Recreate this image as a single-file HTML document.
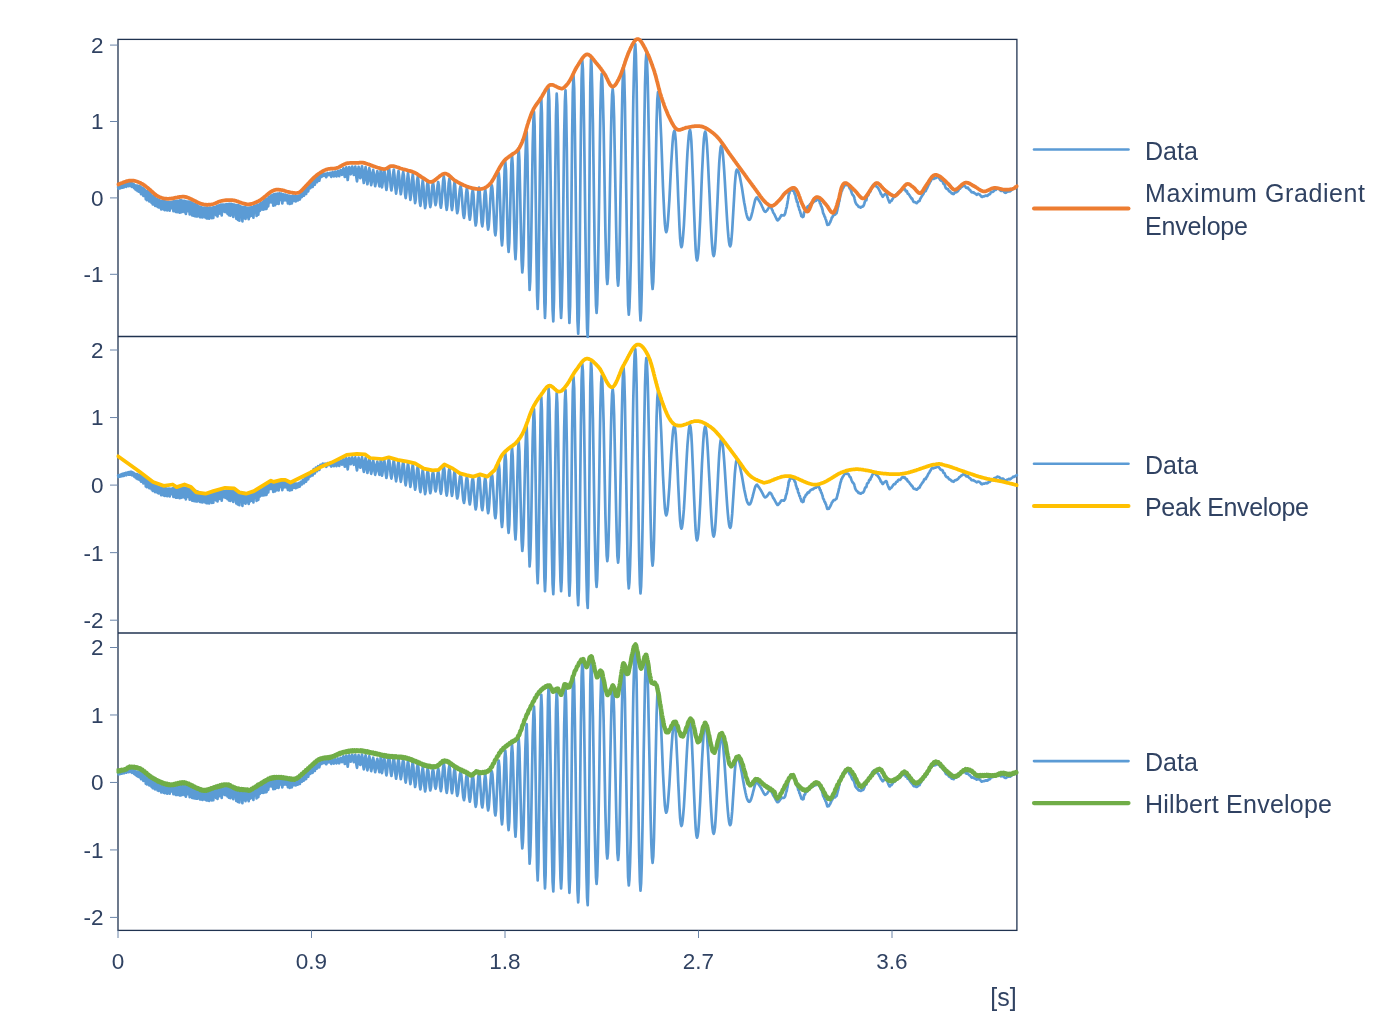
<!DOCTYPE html>
<html><head><meta charset="utf-8"><style>
html,body{margin:0;padding:0;background:#fff;width:1375px;height:1025px;overflow:hidden}
svg{display:block;will-change:transform}
.ax{font-family:"Liberation Sans",sans-serif;font-size:22.5px;fill:#304262}
.lg{font-family:"Liberation Sans",sans-serif;font-size:25px;fill:#304262}
</style></head><body>
<svg width="1375" height="1025" viewBox="0 0 1375 1025">
<rect x="118.0" y="39.4" width="898.9" height="891.0" fill="none" stroke="#203350" stroke-width="1.3"/>
<line x1="118.0" y1="336.5" x2="1016.9" y2="336.5" stroke="#203350" stroke-width="1.3"/>
<line x1="118.0" y1="633.0" x2="1016.9" y2="633.0" stroke="#203350" stroke-width="1.3"/>
<line x1="110" y1="45.08" x2="118.0" y2="45.08" stroke="#6a84a8" stroke-width="1"/>
<text x="103.5" y="52.98" text-anchor="end" class="ax">2</text>
<line x1="110" y1="121.49" x2="118.0" y2="121.49" stroke="#6a84a8" stroke-width="1"/>
<text x="103.5" y="129.39" text-anchor="end" class="ax">1</text>
<line x1="110" y1="197.90" x2="118.0" y2="197.90" stroke="#6a84a8" stroke-width="1"/>
<text x="103.5" y="205.80" text-anchor="end" class="ax">0</text>
<line x1="110" y1="274.31" x2="118.0" y2="274.31" stroke="#6a84a8" stroke-width="1"/>
<text x="103.5" y="282.21" text-anchor="end" class="ax">-1</text>
<line x1="110" y1="350.00" x2="118.0" y2="350.00" stroke="#6a84a8" stroke-width="1"/>
<text x="103.5" y="357.90" text-anchor="end" class="ax">2</text>
<line x1="110" y1="417.55" x2="118.0" y2="417.55" stroke="#6a84a8" stroke-width="1"/>
<text x="103.5" y="425.45" text-anchor="end" class="ax">1</text>
<line x1="110" y1="485.10" x2="118.0" y2="485.10" stroke="#6a84a8" stroke-width="1"/>
<text x="103.5" y="493.00" text-anchor="end" class="ax">0</text>
<line x1="110" y1="552.65" x2="118.0" y2="552.65" stroke="#6a84a8" stroke-width="1"/>
<text x="103.5" y="560.55" text-anchor="end" class="ax">-1</text>
<line x1="110" y1="620.20" x2="118.0" y2="620.20" stroke="#6a84a8" stroke-width="1"/>
<text x="103.5" y="628.10" text-anchor="end" class="ax">-2</text>
<line x1="110" y1="647.50" x2="118.0" y2="647.50" stroke="#6a84a8" stroke-width="1"/>
<text x="103.5" y="655.40" text-anchor="end" class="ax">2</text>
<line x1="110" y1="714.98" x2="118.0" y2="714.98" stroke="#6a84a8" stroke-width="1"/>
<text x="103.5" y="722.88" text-anchor="end" class="ax">1</text>
<line x1="110" y1="782.45" x2="118.0" y2="782.45" stroke="#6a84a8" stroke-width="1"/>
<text x="103.5" y="790.35" text-anchor="end" class="ax">0</text>
<line x1="110" y1="849.93" x2="118.0" y2="849.93" stroke="#6a84a8" stroke-width="1"/>
<text x="103.5" y="857.83" text-anchor="end" class="ax">-1</text>
<line x1="110" y1="917.40" x2="118.0" y2="917.40" stroke="#6a84a8" stroke-width="1"/>
<text x="103.5" y="925.30" text-anchor="end" class="ax">-2</text>
<line x1="118.00" y1="930.4" x2="118.00" y2="938" stroke="#6a84a8" stroke-width="1"/>
<text x="118.00" y="969" text-anchor="middle" class="ax">0</text>
<line x1="311.50" y1="930.4" x2="311.50" y2="938" stroke="#6a84a8" stroke-width="1"/>
<text x="311.50" y="969" text-anchor="middle" class="ax">0.9</text>
<line x1="505.00" y1="930.4" x2="505.00" y2="938" stroke="#6a84a8" stroke-width="1"/>
<text x="505.00" y="969" text-anchor="middle" class="ax">1.8</text>
<line x1="698.50" y1="930.4" x2="698.50" y2="938" stroke="#6a84a8" stroke-width="1"/>
<text x="698.50" y="969" text-anchor="middle" class="ax">2.7</text>
<line x1="892.00" y1="930.4" x2="892.00" y2="938" stroke="#6a84a8" stroke-width="1"/>
<text x="892.00" y="969" text-anchor="middle" class="ax">3.6</text>
<text x="1003.5" y="1005.5" text-anchor="middle" class="ax" style="font-size:25px">[s]</text>
<line x1="1034" y1="149.5" x2="1128.5" y2="149.5" stroke="#5b9bd5" stroke-width="2.6" stroke-linecap="round"/>
<line x1="1034" y1="208.5" x2="1128.5" y2="208.5" stroke="#ed7d31" stroke-width="4.0" stroke-linecap="round"/>
<line x1="1034" y1="463.7" x2="1128.5" y2="463.7" stroke="#5b9bd5" stroke-width="2.6" stroke-linecap="round"/>
<line x1="1034" y1="506.0" x2="1128.5" y2="506.0" stroke="#ffc000" stroke-width="4.0" stroke-linecap="round"/>
<line x1="1034" y1="761.1" x2="1128.5" y2="761.1" stroke="#5b9bd5" stroke-width="2.6" stroke-linecap="round"/>
<line x1="1034" y1="803.1" x2="1128.5" y2="803.1" stroke="#70ad47" stroke-width="4.2" stroke-linecap="round"/>
<text x="1145" y="159.8" class="lg">Data</text>
<text x="1145" y="201.8" class="lg" textLength="220" lengthAdjust="spacing">Maximum Gradient</text>
<text x="1145" y="234.7" class="lg" textLength="103" lengthAdjust="spacing">Envelope</text>
<text x="1145" y="473.8" class="lg">Data</text>
<text x="1145" y="515.6" class="lg" textLength="164" lengthAdjust="spacing">Peak Envelope</text>
<text x="1145" y="771.3" class="lg">Data</text>
<text x="1145" y="813.2" class="lg" textLength="187" lengthAdjust="spacing">Hilbert Envelope</text>
<defs>
<clipPath id="c1"><rect x="116.5" y="36.5" width="902" height="302"/></clipPath>
<clipPath id="c2"><rect x="116.5" y="336.5" width="902" height="296.5"/></clipPath>
<clipPath id="c3"><rect x="116.5" y="633" width="902" height="299"/></clipPath>
</defs>
<g fill="none" stroke-linejoin="round" stroke-linecap="round">
<g clip-path="url(#c1)"><path d="M118.0 187.1L118.5 188.7L119.1 186.9L119.7 188.4L120.2 186.4L120.8 188.1L121.3 185.7L121.9 187.7L122.4 185.2L123.0 187.5L123.5 184.8L124.1 187.3L124.6 184.7L125.2 186.2L125.8 184.0L126.3 186.8L126.9 183.9L127.4 185.1L128.0 183.5L128.6 186.1L129.1 183.3L129.7 185.9L130.3 182.8L130.8 186.1L131.4 182.9L132.0 187.0L132.5 183.6L133.1 186.7L133.7 184.1L134.2 188.2L134.8 185.0L135.4 189.3L135.9 185.5L136.5 190.2L137.1 185.5L137.7 191.0L138.2 186.2L138.8 191.6L139.4 186.2L140.0 192.2L140.5 186.6L141.1 194.1L141.7 187.7L142.3 194.1L142.8 188.1L143.4 196.0L144.0 189.1L144.6 195.1L145.2 190.0L145.8 199.2L146.3 191.0L146.9 200.2L147.5 191.4L148.1 199.0L148.7 192.1L149.3 201.4L149.9 193.0L150.4 201.4L151.0 194.4L151.6 202.8L152.2 195.5L152.8 204.4L153.4 196.3L154.0 204.5L154.6 197.2L155.2 205.9L155.8 198.4L156.4 203.5L157.0 199.1L157.6 206.8L158.2 199.6L158.8 207.4L159.4 200.3L160.0 204.7L160.6 200.8L161.2 209.3L161.8 200.8L162.4 208.3L163.0 200.8L163.6 209.4L164.2 201.2L164.8 210.1L165.4 201.5L166.0 208.3L166.6 201.8L167.2 210.5L167.8 202.3L168.4 207.9L169.1 202.0L169.7 210.6L170.3 202.1L170.9 207.9L171.5 202.1L172.1 208.2L172.7 201.6L173.4 211.2L174.0 201.4L174.6 208.1L175.2 201.7L175.8 212.0L176.5 200.9L177.1 212.2L177.7 200.8L178.3 211.8L178.9 200.8L179.6 212.6L180.2 200.3L180.8 212.4L181.4 200.4L182.1 212.0L182.7 201.0L183.3 211.3L184.0 200.8L184.6 212.2L185.2 201.1L185.9 214.0L186.5 201.5L187.1 211.1L187.8 201.6L188.4 211.2L189.0 201.7L189.7 214.5L190.3 202.1L190.9 213.5L191.6 202.6L192.2 215.5L192.9 203.3L193.5 215.7L194.1 204.0L194.8 216.1L195.4 204.4L196.1 216.3L196.7 205.0L197.4 216.3L198.0 205.6L198.7 213.2L199.3 206.6L200.0 217.1L200.6 206.9L201.3 217.1L201.9 207.5L202.6 217.5L203.2 207.9L203.9 212.7L204.5 207.7L205.2 217.4L205.9 207.5L206.5 218.3L207.2 207.7L207.9 218.4L208.6 208.1L209.2 218.7L209.9 207.6L210.6 213.9L211.3 208.0L211.9 218.2L212.6 207.7L213.3 217.8L214.0 207.2L214.7 212.4L215.4 207.0L216.1 215.2L216.8 206.1L217.5 216.4L218.2 205.5L218.9 213.7L219.6 205.3L220.3 213.3L221.0 204.6L221.7 215.5L222.4 204.6L223.1 209.8L223.8 204.6L224.6 211.9L225.3 204.5L226.0 212.2L226.7 204.0L227.5 213.6L228.2 204.1L228.9 215.1L229.6 203.8L230.4 215.7L231.1 203.9L231.9 214.5L232.6 204.3L233.3 216.8L234.1 204.5L234.8 211.4L235.6 205.0L236.3 218.7L237.1 205.0L237.8 219.8L238.6 205.4L239.4 220.6L240.1 206.2L240.9 215.8L241.7 206.8L242.4 221.3L243.2 207.1L244.0 217.8L244.7 206.9L245.5 219.0L246.3 207.7L247.1 217.2L247.9 207.8L248.7 219.1L249.4 207.6L250.2 216.3L251.0 207.3L251.8 215.6L252.6 207.1L253.4 217.6L254.2 206.1L255.0 212.2L255.8 205.6L256.6 215.9L257.5 204.6L258.3 214.6L259.1 204.5L259.9 210.8L260.7 203.1L261.6 209.5L262.4 202.4L263.2 209.7L264.0 200.7L264.9 209.2L265.7 199.3L266.5 208.9L267.4 198.6L268.2 206.3L269.1 197.1L269.9 202.3L270.8 195.7L271.6 202.3L272.5 194.8L273.3 205.6L274.2 194.1L275.1 205.1L276.0 193.9L276.9 203.7L277.8 193.7L278.6 204.0L279.6 193.4L280.5 199.9L281.4 193.7L282.3 203.5L283.2 194.3L284.1 200.3L285.1 194.6L286.0 200.4L287.0 195.1L287.9 203.3L288.9 195.6L289.8 204.0L290.8 196.0L291.8 203.5L292.8 195.7L293.7 200.9L294.7 195.8L295.7 201.4L296.7 196.2L297.8 200.4L298.8 195.6L299.8 199.5L300.8 194.3L301.9 197.1L302.9 192.0L303.9 195.7L305.0 189.7L306.1 194.0L307.1 187.5L308.2 191.4L309.3 184.7L310.4 188.1L311.5 182.3L312.6 187.0L313.7 179.7L314.8 184.8L315.9 178.1L317.0 182.2L318.1 176.5L319.3 180.7L320.4 175.0L321.6 176.9L322.8 173.6L323.9 175.9L325.1 173.7L326.3 177.2L327.6 173.0L328.8 175.1L330.1 172.8L331.3 176.9L332.6 172.0L333.9 176.4L335.2 171.6L336.5 176.4L337.9 170.8L339.2 176.2L340.6 170.0L342.0 174.8L343.4 168.3L344.8 177.0L346.3 167.3L347.7 180.0L349.2 167.2L350.7 174.3L352.2 166.6L353.8 174.9L355.3 166.5L355.9 170.2L356.4 177.6L357.0 181.3L357.5 177.7L358.1 170.5L358.6 166.9L359.2 169.7L359.7 175.3L360.3 178.1L360.9 175.2L361.5 169.3L362.0 166.3L362.6 170.5L363.2 178.8L363.8 183.0L364.4 179.0L365.0 171.1L365.6 167.1L366.2 171.4L366.8 179.9L367.4 184.2L368.1 180.2L368.7 172.2L369.3 168.2L370.0 172.4L370.6 180.9L371.2 185.1L371.9 181.3L372.5 173.7L373.2 169.9L373.9 174.0L374.5 182.1L375.2 186.2L375.9 182.5L376.6 174.9L377.3 171.2L378.0 174.9L378.7 182.5L379.4 186.3L380.7 169.6L382.0 187.3L382.7 182.7L383.5 173.7L384.2 169.2L384.9 174.4L385.7 184.7L386.4 189.9L387.0 186.6L387.6 178.9L388.3 171.1L388.9 167.8L389.5 171.2L390.1 179.2L390.8 187.2L391.4 190.5L392.2 185.3L393.0 174.7L393.8 169.5L394.5 175.5L395.3 187.6L396.1 193.6L396.9 187.9L397.7 176.6L398.5 170.9L399.2 176.7L400.0 188.4L400.8 194.2L401.4 190.9L402.0 183.0L402.6 175.2L403.2 171.9L403.9 175.8L404.5 185.0L405.1 194.3L405.7 198.1L406.5 191.8L407.3 179.2L408.0 172.9L408.8 179.7L409.6 193.1L410.4 199.8L411.2 193.4L412.0 180.5L412.8 174.1L413.5 181.4L414.3 195.9L415.1 203.1L415.8 199.2L416.4 189.8L417.1 180.4L417.8 176.5L418.4 180.8L419.1 191.2L419.7 201.5L420.4 205.8L421.2 199.3L422.0 186.4L422.8 179.9L423.5 187.0L424.3 201.0L425.1 208.1L425.8 204.2L426.4 194.8L427.1 185.4L427.7 181.5L428.4 185.3L429.0 194.3L429.7 203.3L430.3 207.1L431.0 203.5L431.6 194.8L432.3 186.2L433.0 182.6L433.6 185.9L434.3 193.9L434.9 201.8L435.6 205.1L436.3 201.7L436.9 193.6L437.6 185.4L438.2 182.0L438.9 185.8L439.6 194.9L440.2 204.0L440.9 207.7L441.6 203.1L442.3 192.1L443.1 181.0L443.8 176.4L444.5 181.3L445.2 193.1L446.0 204.9L446.7 209.8L447.4 205.2L448.0 194.2L448.7 183.1L449.4 178.6L450.0 183.2L450.7 194.3L451.3 205.5L452.0 210.1L452.6 206.0L453.3 196.0L454.0 186.0L454.6 181.9L455.2 186.4L455.9 197.5L456.6 208.5L457.2 213.1L457.9 210.5L458.6 203.8L459.2 195.5L459.9 188.8L460.6 186.2L461.3 189.2L462.0 197.2L462.6 207.0L463.3 215.0L464.0 218.0L464.7 213.6L465.4 203.0L466.2 192.4L466.9 188.0L467.6 192.7L468.4 203.9L469.1 215.1L469.8 219.7L470.5 215.3L471.3 204.6L472.0 193.9L472.8 189.5L473.5 194.8L474.2 207.5L475.0 220.2L475.7 225.5L476.4 221.9L477.0 212.4L477.7 200.7L478.3 191.2L479.0 187.6L479.7 191.3L480.3 200.9L481.0 212.9L481.6 222.6L482.3 226.3L483.0 220.8L483.8 207.6L484.5 194.4L485.2 188.9L485.9 194.8L486.7 209.2L487.4 223.6L488.1 229.6L488.7 226.6L489.3 218.5L489.9 207.4L490.5 196.3L491.1 188.2L491.8 185.2L492.4 188.6L493.0 197.7L493.6 210.3L494.2 222.8L494.8 232.0L495.4 235.3L496.1 229.4L496.7 213.8L497.4 194.6L498.0 179.0L498.7 173.1L499.4 180.0L500.0 198.0L500.7 220.3L501.3 238.4L502.0 245.3L502.7 237.3L503.3 216.5L504.0 190.7L504.6 169.8L505.3 161.8L506.0 170.4L506.6 193.0L507.3 220.8L507.9 243.4L508.6 252.0L509.3 242.7L510.0 218.4L510.7 188.4L511.4 164.1L512.0 154.8L512.7 164.8L513.4 190.9L514.1 223.1L514.8 249.2L515.5 259.2L516.1 248.6L516.8 220.9L517.4 186.7L518.1 158.9L518.7 148.4L519.4 160.2L520.1 191.2L520.9 229.6L521.6 260.6L522.3 272.4L522.9 265.5L523.6 246.0L524.2 217.8L524.8 186.5L525.4 158.3L526.1 138.8L526.7 131.8L527.4 155.0L528.2 210.9L528.9 266.7L529.6 289.9L530.2 281.1L530.9 256.4L531.5 220.7L532.1 181.1L532.7 145.4L533.4 120.7L534.0 111.9L534.6 125.1L535.2 161.2L535.9 210.4L536.5 259.6L537.1 295.7L537.7 308.9L538.4 288.8L539.1 236.3L539.9 171.3L540.6 118.8L541.3 98.7L541.9 113.4L542.5 153.5L543.1 208.3L543.8 263.1L544.4 303.2L545.0 317.9L545.6 302.6L546.2 260.7L546.8 203.4L547.4 146.1L548.0 104.2L548.6 88.9L549.3 100.4L549.9 132.6L550.6 179.2L551.3 230.9L552.0 277.5L552.6 309.8L553.3 321.3L554.0 299.6L554.7 242.7L555.3 172.4L556.0 115.5L556.7 93.7L557.3 104.8L558.0 135.9L558.6 180.9L559.2 230.8L559.8 275.7L560.5 306.8L561.1 317.9L561.7 306.7L562.4 275.1L563.0 229.5L563.6 178.9L564.2 133.3L564.9 101.7L565.5 90.4L566.1 106.0L566.8 148.6L567.5 206.7L568.1 264.8L568.8 307.3L569.4 322.9L570.1 306.3L570.8 261.1L571.5 199.3L572.1 137.4L572.8 92.2L573.5 75.6L574.2 88.4L574.8 124.2L575.5 175.9L576.2 233.3L576.9 285.1L577.5 320.9L578.2 333.6L578.9 315.4L579.6 265.4L580.2 197.2L580.9 128.9L581.6 79.0L582.3 60.7L582.9 69.0L583.5 93.0L584.1 129.7L584.7 174.8L585.3 222.8L585.9 267.9L586.5 304.6L587.1 328.6L587.7 336.9L588.4 310.4L589.0 240.9L589.7 155.0L590.3 85.5L591.0 59.0L591.6 66.7L592.2 88.7L592.9 122.5L593.5 163.9L594.1 208.0L594.7 249.5L595.4 283.2L596.0 305.3L596.6 312.9L597.2 303.8L597.9 277.9L598.5 239.2L599.2 193.4L599.8 147.7L600.4 108.9L601.1 83.0L601.7 73.9L602.3 80.3L602.9 98.5L603.6 126.4L604.2 160.7L604.8 197.2L605.4 231.5L606.1 259.4L606.7 277.6L607.3 284.0L607.9 278.1L608.5 261.2L609.1 235.2L609.7 203.4L610.3 169.5L610.9 137.6L611.5 111.7L612.1 94.7L612.7 88.9L613.4 96.3L614.1 117.7L614.7 149.6L615.4 187.3L616.1 224.9L616.8 256.9L617.4 278.2L618.1 285.7L618.7 279.0L619.3 259.9L619.9 230.7L620.5 194.8L621.2 156.6L621.8 120.7L622.4 91.4L623.0 72.3L623.6 65.7L624.2 75.1L624.9 102.1L625.5 142.5L626.2 190.2L626.9 237.8L627.5 278.2L628.1 305.2L628.8 314.6L629.4 308.0L630.1 288.8L630.8 258.9L631.4 221.2L632.0 179.4L632.7 137.6L633.3 99.9L634.0 70.0L634.6 50.8L635.3 44.2L635.9 54.7L636.6 84.6L637.2 129.4L637.9 182.3L638.5 235.1L639.2 280.0L639.9 309.9L640.5 320.4L641.1 312.4L641.8 289.3L642.4 253.8L643.1 210.4L643.7 164.1L644.4 120.7L645.0 85.3L645.7 62.2L646.3 54.1L646.9 59.9L647.6 76.6L648.2 102.5L648.8 135.3L649.5 171.5L650.1 207.8L650.7 240.6L651.3 266.5L652.0 283.2L652.6 289.0L653.3 281.5L654.0 260.1L654.6 228.2L655.3 190.5L656.0 152.9L656.6 121.0L657.3 99.6L658.0 92.1L658.6 94.2L659.3 100.2L659.9 109.7L660.5 122.4L661.2 137.3L661.8 153.7L662.4 170.6L663.0 187.0L663.7 201.9L664.3 214.6L664.9 224.2L665.6 230.1L666.2 232.2L666.8 230.7L667.5 226.4L668.1 219.4L668.7 210.3L669.4 199.4L670.0 187.6L670.6 175.3L671.2 163.5L671.9 152.6L672.5 143.5L673.1 136.5L673.8 132.2L674.4 130.7L675.0 133.1L675.7 140.0L676.3 150.8L676.9 164.8L677.6 180.7L678.2 197.3L678.9 213.2L679.5 227.1L680.1 238.0L680.8 244.9L681.4 247.2L682.0 245.7L682.6 241.4L683.2 234.4L683.9 225.1L684.5 214.0L685.1 201.6L685.7 188.6L686.3 175.5L686.9 163.1L687.5 152.0L688.2 142.7L688.8 135.7L689.4 131.4L690.0 129.9L690.6 132.6L691.3 140.3L691.9 152.4L692.5 168.1L693.2 185.9L693.8 204.5L694.5 222.3L695.1 237.9L695.7 250.1L696.4 257.8L697.0 260.5L697.6 258.6L698.3 253.1L698.9 244.3L699.5 232.6L700.2 218.9L700.8 203.8L701.4 188.3L702.0 173.2L702.7 159.4L703.3 147.8L703.9 139.0L704.6 133.5L705.2 131.6L705.8 133.2L706.4 137.8L707.0 145.2L707.6 155.0L708.2 166.8L708.8 180.0L709.5 193.8L710.1 207.7L710.7 220.8L711.3 232.6L711.9 242.5L712.5 249.9L713.1 254.5L713.7 256.0L714.3 254.2L715.0 248.7L715.6 239.9L716.2 228.5L716.8 215.2L717.5 200.9L718.1 186.6L718.7 173.3L719.3 161.9L720.0 153.1L720.6 147.6L721.2 145.8L721.8 146.9L722.4 150.1L723.0 155.4L723.6 162.4L724.2 170.9L724.8 180.5L725.4 190.8L726.0 201.3L726.6 211.6L727.2 221.2L727.8 229.7L728.4 236.7L729.0 242.0L729.6 245.2L730.2 246.3L730.9 244.4L731.5 239.0L732.2 230.5L732.8 219.8L733.5 208.0L734.2 196.1L734.8 185.4L735.5 176.9L736.1 171.5L736.8 169.6L737.4 169.9L738.0 170.9L738.7 172.4L739.3 174.4L739.9 177.0L740.5 180.0L741.1 183.3L741.8 187.0L742.4 190.8L743.0 194.7L743.6 198.7L744.2 202.5L744.9 206.1L745.5 209.5L746.1 212.5L746.7 215.0L747.3 217.1L748.0 218.6L748.6 219.5L749.2 219.8L749.9 219.5L750.5 218.3L751.2 216.5L751.8 214.2L752.5 211.5L753.1 208.6L753.8 205.7L754.4 203.0L755.0 200.6L755.7 198.8L756.4 197.7L757.0 197.3L757.2 197.7L757.4 198.1L757.7 198.6L758.1 199.1L758.4 199.7L758.8 200.3L759.2 200.9L759.6 201.6L760.0 202.2L760.4 202.9L760.7 203.6L761.1 204.2L761.4 204.8L761.7 205.5L762.0 206.2L762.3 206.9L762.7 207.6L763.0 208.4L763.3 209.0L763.6 209.8L763.9 210.4L764.2 210.9L764.5 211.2L764.9 211.6L765.2 211.9L765.6 211.7L766.1 211.2L766.6 210.8L767.1 210.4L767.5 209.7L768.0 208.9L768.5 208.1L768.9 207.4L769.4 206.7L769.8 206.4L770.2 206.7L770.6 207.1L770.9 207.3L771.3 207.8L771.6 208.5L771.9 209.3L772.2 209.9L772.6 210.7L772.9 211.7L773.3 212.6L773.6 213.1L773.9 213.4L774.3 214.1L774.6 214.9L775.0 215.6L775.3 216.4L775.7 217.1L776.0 217.8L776.4 218.4L776.7 219.3L777.1 219.9L777.4 220.3L777.9 220.3L778.3 219.9L778.8 219.4L779.2 218.7L779.7 218.2L780.1 217.3L780.6 216.7L781.0 215.8L781.5 215.1L782.0 215.2L782.5 215.4L783.0 215.4L783.5 215.2L784.0 215.4L784.5 214.8L785.0 213.9L785.5 212.1L785.6 211.2L785.8 210.4L785.9 210.0L786.0 209.4L786.2 208.7L786.3 208.4L786.4 207.9L786.6 207.8L786.7 207.4L786.8 206.9L786.9 205.8L787.1 204.7L787.2 204.1L787.3 203.6L787.5 203.2L787.6 201.9L787.7 201.0L787.9 200.3L788.0 199.7L788.1 198.9L788.3 198.1L788.4 197.0L788.5 195.9L788.7 194.9L788.8 193.9L788.9 193.5L789.1 193.6L789.2 193.9L789.3 193.6L789.5 192.9L789.6 191.6L790.3 189.7L791.0 189.6L791.7 190.3L792.3 190.6L793.0 190.8L793.7 191.2L793.9 191.2L794.1 191.3L794.3 192.4L794.6 193.6L794.8 194.2L795.0 194.2L795.2 194.4L795.4 195.1L795.6 196.1L795.8 197.6L796.0 198.7L796.3 198.9L796.5 199.6L796.7 201.0L796.9 202.0L797.1 202.0L797.3 201.8L797.6 202.1L797.8 203.7L798.0 205.1L798.2 206.4L798.5 206.5L798.7 206.8L798.9 207.4L799.2 209.1L799.4 210.0L799.7 210.0L799.9 210.7L800.1 211.7L800.4 212.9L800.6 213.1L800.9 214.0L801.1 214.9L801.3 216.0L801.5 216.2L801.8 216.4L802.0 216.3L802.2 216.3L802.4 216.2L802.7 217.0L802.9 216.9L803.1 216.8L803.3 216.4L803.5 216.6L803.7 215.4L803.9 213.8L804.1 212.2L804.4 211.8L804.7 211.9L805.0 211.5L805.4 210.3L805.9 208.8L806.2 208.5L806.6 208.6L807.1 207.9L807.5 206.6L808.0 206.1L808.5 206.5L809.1 206.1L809.6 204.9L810.2 203.9L810.7 203.7L811.3 203.1L811.9 202.8L812.4 202.6L813.0 202.7L813.5 201.7L814.0 201.6L814.5 201.4L815.0 201.1L815.4 200.7L815.8 200.6L816.1 200.7L817.1 199.3L817.8 198.1L818.2 198.1L818.6 199.3L819.2 200.8L819.4 200.7L819.6 201.7L819.8 202.4L820.0 203.5L820.2 203.3L820.4 203.6L820.6 203.7L820.8 205.0L821.1 206.0L821.3 206.6L821.5 206.4L821.8 207.2L822.0 208.2L822.2 208.9L822.5 209.6L822.7 210.8L822.9 211.9L823.1 212.9L823.4 213.5L823.6 214.1L823.8 214.3L824.0 214.7L824.2 215.4L824.5 216.4L824.8 217.0L825.1 217.3L825.4 218.5L825.6 219.2L825.9 219.6L826.2 220.4L826.4 221.4L826.7 222.6L827.0 223.6L827.2 224.6L827.5 225.0L827.8 225.0L828.0 224.6L828.3 224.3L828.6 224.3L828.9 224.6L829.2 223.9L829.6 223.1L829.9 222.6L830.2 222.2L830.5 221.3L830.8 220.6L831.1 220.0L831.5 218.7L831.8 217.6L832.1 217.4L832.4 217.3L832.8 216.1L833.3 215.5L833.7 214.8L834.1 214.7L834.5 214.9L835.0 214.8L835.5 214.1L836.0 213.5L836.5 213.3L836.6 213.0L836.8 212.2L836.9 211.4L837.1 210.9L837.2 210.4L837.4 209.4L837.5 208.9L837.7 207.7L837.8 207.4L838.0 206.9L838.2 206.5L838.3 205.5L838.5 204.6L838.7 204.1L838.8 202.8L839.0 201.9L839.2 201.3L839.3 201.4L839.5 200.4L839.7 198.7L839.9 197.9L840.0 197.5L840.2 196.3L840.4 195.3L840.6 194.8L840.7 194.7L840.9 193.8L841.1 193.1L841.2 192.2L841.4 191.3L841.6 191.1L841.8 190.9L841.9 190.8L842.1 190.4L842.3 189.5L842.4 189.0L842.6 188.8L843.2 187.9L843.9 186.6L844.5 185.4L845.1 185.2L845.8 184.9L846.4 185.1L847.0 184.8L847.6 184.8L848.2 185.2L848.7 186.1L849.1 186.9L849.4 187.6L849.7 188.5L850.0 188.6L850.3 188.7L850.6 189.2L850.9 190.4L851.2 191.1L851.4 191.8L851.7 192.7L852.0 193.5L852.2 194.0L852.5 194.6L852.8 195.0L853.1 195.3L853.3 195.4L853.6 196.0L853.8 196.3L854.1 197.0L854.4 197.9L854.6 199.0L854.9 200.2L855.1 201.4L855.4 202.1L855.7 202.9L855.9 203.2L856.2 203.8L856.5 204.1L856.8 204.7L857.3 204.9L857.9 205.8L858.5 206.7L859.0 207.0L859.6 206.8L860.2 207.4L860.8 207.6L861.4 207.0L861.9 206.7L862.3 206.6L862.6 206.5L862.9 206.1L863.2 206.3L863.5 205.6L863.8 205.2L864.1 204.3L864.4 203.4L864.8 201.8L865.2 201.0L865.6 200.1L866.0 200.1L866.3 200.2L866.5 199.4L866.8 197.6L867.1 196.2L867.4 195.6L867.7 195.6L868.0 195.5L868.4 195.1L868.7 194.1L869.0 192.8L869.4 191.8L869.7 191.7L870.1 192.0L870.4 191.4L870.7 189.9L871.1 189.2L871.4 188.7L871.7 188.4L872.0 187.2L872.3 186.5L872.6 185.8L872.8 185.6L873.1 185.0L873.8 184.6L874.5 184.3L875.1 184.8L875.6 185.2L876.1 186.3L876.6 186.6L877.2 186.8L877.5 187.2L877.9 187.9L878.3 188.2L878.6 188.9L879.0 189.5L879.4 190.6L879.7 190.9L880.1 191.8L880.4 192.5L880.7 193.4L881.0 194.1L881.3 194.1L881.9 195.4L882.4 196.3L882.8 196.7L883.3 196.0L883.7 195.3L884.2 194.8L884.8 194.4L885.3 193.9L885.8 193.4L886.4 193.6L886.7 194.0L886.9 195.0L887.1 196.0L887.4 197.0L887.6 197.6L887.8 198.0L888.1 199.1L888.4 199.9L888.7 200.7L889.1 201.5L889.5 202.5L889.9 202.4L890.3 201.5L890.6 201.0L891.0 200.9L891.5 200.8L891.9 200.1L892.4 199.3L892.9 198.4L893.4 197.6L893.9 196.8L894.4 196.7L894.9 196.9L895.4 196.4L895.9 195.0L896.4 194.1L896.9 194.1L897.4 193.9L897.8 192.9L898.4 192.1L898.9 191.8L899.4 191.9L899.9 192.0L900.4 191.8L900.9 191.1L901.4 190.2L901.9 189.4L902.4 189.2L902.9 188.7L903.4 189.1L904.0 189.5L904.6 189.4L904.9 189.1L905.3 189.9L905.7 191.1L906.1 191.4L906.5 190.8L906.9 191.1L907.3 192.3L907.7 193.7L908.1 193.9L908.5 193.9L909.0 194.6L909.4 195.1L909.8 195.9L910.2 196.6L910.6 197.1L911.0 197.7L911.4 198.5L911.8 198.9L912.2 198.7L912.5 199.7L912.9 200.4L913.2 201.2L913.5 201.6L914.3 202.2L915.0 202.1L915.6 202.4L916.1 202.9L916.7 203.1L917.2 202.5L917.8 202.1L918.4 201.1L918.7 201.1L919.1 201.1L919.5 201.0L919.9 199.9L920.2 198.8L920.6 198.3L921.0 197.5L921.4 196.9L921.8 196.1L922.2 195.6L922.6 194.8L922.9 194.7L923.3 194.1L923.7 193.2L924.0 192.0L924.3 191.3L924.7 190.8L925.1 190.9L925.5 191.3L925.9 190.7L926.2 189.6L926.5 189.0L926.9 188.6L927.2 188.0L927.5 187.2L927.9 186.2L928.2 185.7L928.5 184.8L928.9 184.3L929.2 183.9L929.4 183.7L929.7 182.7L930.1 181.8L930.4 181.6L930.7 181.3L931.1 180.0L931.6 179.4L932.1 178.7L932.6 178.8L933.1 178.8L933.7 178.9L934.3 178.4L934.9 178.2L935.6 178.2L936.3 177.8L936.9 177.2L937.6 177.2L938.2 177.2L938.9 177.6L939.4 178.5L940.0 179.4L940.4 180.2L940.9 180.5L941.3 180.9L941.7 180.8L942.0 181.0L942.4 181.0L942.8 181.7L943.1 182.7L943.5 183.9L943.9 184.1L944.2 184.1L944.6 184.6L945.0 185.8L945.5 187.2L945.9 188.1L946.3 188.5L946.8 188.9L947.2 188.9L947.7 188.8L948.1 189.4L948.6 190.5L949.1 191.2L949.6 191.5L950.0 191.4L950.5 192.1L951.1 192.5L951.6 193.4L952.1 193.1L952.6 193.8L953.2 193.6L953.7 194.1L954.2 193.2L954.7 192.8L955.2 192.1L955.7 192.4L956.2 192.3L956.7 192.0L957.3 191.5L957.8 191.3L958.4 190.4L958.9 189.4L959.5 188.7L960.0 188.7L960.6 187.9L961.1 187.4L961.6 186.8L962.1 186.8L962.6 186.3L963.1 185.9L963.5 185.6L964.1 185.5L964.6 186.0L965.2 186.2L965.7 187.3L966.2 187.8L966.7 188.0L967.1 187.7L967.6 187.6L968.1 187.8L968.5 188.8L969.0 189.4L969.4 189.8L969.9 189.9L970.4 190.6L971.0 191.5L971.5 192.1L972.1 192.5L972.6 192.2L973.2 192.3L973.7 192.4L974.3 193.2L974.9 193.3L975.4 193.7L976.0 194.1L976.7 194.8L977.3 194.4L977.9 193.9L978.5 193.9L979.1 194.3L979.7 194.5L980.4 195.3L981.0 196.2L981.7 196.9L982.4 196.8L983.0 196.4L983.7 196.3L984.3 196.3L984.9 196.0L985.5 195.6L986.1 195.5L986.7 195.8L987.3 195.8L987.8 195.5L988.4 194.7L988.9 194.3L989.5 194.4L990.0 194.0L990.5 193.1L991.0 192.2L991.5 192.0L992.0 192.0L992.5 192.0L993.0 191.8L993.6 191.3L994.2 190.3L994.8 189.8L995.4 189.7L996.0 189.8L996.6 189.0L997.2 188.5L997.7 188.2L998.3 188.8L998.9 188.8L999.4 189.1L1000.0 189.8L1000.5 190.6L1001.0 190.9L1001.6 190.8L1002.1 190.5L1002.7 190.5L1003.2 190.8L1003.7 191.4L1004.3 192.1L1004.8 192.5L1005.4 192.8L1006.0 192.6L1006.6 192.2L1007.1 191.7L1007.7 191.6L1008.3 191.4L1008.9 190.9L1009.5 191.2L1010.1 191.4L1010.7 190.8L1011.3 190.3L1011.9 189.7L1012.6 189.2L1013.2 188.4L1013.9 188.8L1014.5 188.2L1015.2 187.8L1015.7 187.2L1016.2 187.1L1016.7 186.7L1017.0 186.7" stroke="#5b9bd5" stroke-width="2.7"/><path d="M118.1 184.5L118.5 184.3L119.1 184.1L119.7 183.9L120.3 183.6L121.1 183.3L121.9 183.0L122.7 182.7L123.6 182.3L124.4 182.0L125.3 181.7L126.2 181.4L127.1 181.1L128.0 180.9L128.8 180.7L129.6 180.6L130.3 180.5L131.2 180.5L132.0 180.5L132.8 180.6L133.7 180.7L134.5 180.8L135.3 181.0L136.0 181.3L136.8 181.5L137.6 181.8L138.3 182.1L139.1 182.4L139.8 182.7L140.5 183.0L141.2 183.4L142.0 183.7L142.6 184.1L143.3 184.6L144.0 185.0L144.6 185.5L145.3 186.0L145.9 186.5L146.5 187.0L147.2 187.5L147.9 188.1L148.6 188.6L149.2 189.1L149.8 189.6L150.5 190.2L151.1 190.8L151.8 191.4L152.4 192.0L153.1 192.6L153.7 193.2L154.4 193.8L155.1 194.3L155.7 194.9L156.4 195.4L157.1 195.8L157.8 196.2L158.5 196.6L159.3 196.9L160.0 197.2L160.8 197.5L161.5 197.8L162.3 198.0L163.0 198.2L163.8 198.4L164.6 198.5L165.4 198.6L166.3 198.7L167.1 198.8L168.0 198.8L168.8 198.8L169.5 198.7L170.4 198.7L171.2 198.6L172.1 198.4L173.0 198.3L173.9 198.1L174.8 197.9L175.7 197.7L176.6 197.5L177.4 197.4L178.3 197.2L179.1 197.1L179.8 196.9L180.5 196.9L181.2 196.8L182.3 196.7L183.3 196.7L184.0 196.7L184.7 196.8L185.5 196.9L186.2 197.1L187.2 197.4L188.3 197.8L188.9 198.0L189.5 198.3L190.2 198.6L190.9 198.9L191.6 199.3L192.4 199.7L193.2 200.1L194.0 200.5L194.8 200.9L195.6 201.3L196.4 201.7L197.2 202.1L198.0 202.5L198.7 202.8L199.5 203.1L200.2 203.4L200.9 203.7L201.6 203.9L202.6 204.2L203.5 204.4L204.3 204.5L205.2 204.6L206.0 204.7L206.8 204.8L207.6 204.8L208.4 204.7L209.2 204.7L210.0 204.6L210.9 204.5L211.7 204.4L212.5 204.2L213.3 204.0L214.0 203.8L214.8 203.5L215.6 203.2L216.3 202.8L217.1 202.5L217.9 202.1L218.7 201.8L219.5 201.5L220.3 201.2L221.1 201.0L221.9 200.8L222.7 200.7L223.5 200.5L224.3 200.4L225.1 200.3L225.9 200.2L226.7 200.2L227.5 200.1L228.3 200.1L229.1 200.1L229.9 200.1L230.7 200.1L231.5 200.2L232.3 200.2L233.1 200.3L233.9 200.4L234.8 200.6L235.6 200.8L236.4 201.1L237.3 201.3L238.1 201.6L238.9 201.9L239.7 202.2L240.5 202.5L241.2 202.8L241.9 203.0L242.6 203.2L243.3 203.4L244.3 203.6L245.1 203.9L245.9 204.1L246.7 204.2L247.4 204.4L248.2 204.4L249.0 204.4L250.0 204.2L250.7 204.1L251.4 203.9L252.1 203.7L252.8 203.5L253.6 203.2L254.4 202.9L255.2 202.6L256.0 202.3L256.8 201.9L257.6 201.5L258.5 201.1L259.3 200.6L260.2 200.1L260.8 199.7L261.4 199.3L262.1 198.8L262.7 198.4L263.4 197.8L264.0 197.3L264.7 196.7L265.4 196.2L266.1 195.6L266.8 195.0L267.4 194.5L268.1 193.9L268.8 193.4L269.4 192.9L270.1 192.4L270.7 191.9L271.3 191.5L271.9 191.2L272.4 190.9L273.4 190.5L274.2 190.1L275.1 189.9L275.8 189.7L276.6 189.7L277.3 189.7L278.0 189.7L278.8 189.7L279.6 189.8L280.5 189.9L281.2 190.0L282.0 190.1L282.8 190.3L283.5 190.5L284.4 190.7L285.2 191.0L286.0 191.2L286.8 191.5L287.6 191.7L288.4 191.9L289.2 192.1L290.0 192.3L290.7 192.4L291.6 192.5L292.5 192.7L293.3 192.8L294.1 192.9L294.9 193.0L295.7 193.1L296.5 193.0L297.3 192.9L298.1 192.7L298.9 192.4L299.5 192.1L300.1 191.7L300.8 191.2L301.4 190.7L302.0 190.1L302.6 189.5L303.2 188.9L303.8 188.2L304.4 187.5L305.1 186.8L305.7 186.1L306.3 185.5L307.0 184.8L307.5 184.3L308.1 183.7L308.6 183.1L309.2 182.5L309.8 181.9L310.3 181.3L310.9 180.7L311.5 180.1L312.0 179.5L312.6 178.9L313.2 178.3L313.8 177.7L314.4 177.2L315.0 176.6L315.6 176.1L316.2 175.6L316.9 175.1L317.6 174.5L318.3 174.0L319.0 173.5L319.8 173.0L320.5 172.5L321.2 172.1L322.0 171.6L322.7 171.2L323.5 170.8L324.2 170.4L324.9 170.1L325.7 169.8L326.4 169.5L327.3 169.2L328.1 169.0L329.0 168.9L329.8 168.8L330.7 168.7L331.5 168.7L332.4 168.6L333.2 168.6L334.1 168.5L334.9 168.4L335.8 168.2L336.6 168.0L337.4 167.7L338.2 167.4L338.9 167.1L339.7 166.7L340.5 166.3L341.3 165.8L342.0 165.4L342.8 165.0L343.6 164.6L344.4 164.2L345.1 163.9L345.9 163.6L346.7 163.4L347.6 163.2L348.4 163.1L349.3 163.0L350.2 162.9L351.1 162.9L352.0 162.9L352.9 162.9L353.7 162.9L354.6 162.9L355.4 162.9L356.2 162.9L356.9 162.9L357.9 162.8L358.7 162.8L359.5 162.7L360.3 162.6L361.0 162.5L361.9 162.6L362.8 162.7L364.0 162.9L364.6 163.1L365.3 163.2L366.0 163.5L366.8 163.7L367.6 164.0L368.5 164.3L369.3 164.6L370.2 164.9L371.0 165.3L371.9 165.6L372.8 165.9L373.6 166.2L374.4 166.5L375.2 166.8L376.0 167.1L376.7 167.3L377.3 167.5L378.4 167.8L379.4 168.1L380.3 168.4L381.1 168.6L381.9 168.8L382.7 168.9L383.4 169.0L384.2 169.0L385.0 169.0L385.8 168.8L386.5 168.5L387.3 168.1L388.0 167.6L388.7 167.2L389.4 166.7L390.2 166.3L391.1 166.1L392.0 166.0L392.7 166.0L393.4 166.1L394.2 166.3L395.0 166.5L395.8 166.7L396.6 167.0L397.4 167.2L398.3 167.5L399.1 167.8L400.0 168.2L400.9 168.5L401.7 168.7L402.6 169.0L403.4 169.2L404.1 169.4L404.9 169.6L405.7 169.8L406.5 170.0L407.3 170.3L408.1 170.5L408.9 170.7L409.7 170.9L410.5 171.1L411.3 171.4L412.1 171.6L412.9 171.9L413.6 172.2L414.3 172.5L415.1 172.9L415.9 173.3L416.6 173.7L417.4 174.2L418.1 174.7L418.8 175.2L419.5 175.6L420.2 176.1L420.9 176.6L421.6 177.1L422.3 177.5L422.9 177.9L423.6 178.3L424.4 178.7L425.1 179.2L425.8 179.7L426.5 180.2L427.1 180.7L427.8 181.1L428.5 181.5L429.3 181.8L430.0 181.9L430.9 181.9L431.8 181.8L432.4 181.6L433.0 181.4L433.6 181.0L434.2 180.6L434.9 180.1L435.6 179.6L436.3 179.0L437.0 178.4L437.7 177.8L438.5 177.2L439.2 176.6L439.9 176.0L440.6 175.5L441.4 175.0L442.1 174.5L442.7 174.2L443.4 173.9L444.1 173.7L444.7 173.6L445.5 173.6L446.2 173.8L446.9 174.1L447.6 174.4L448.3 174.9L449.0 175.4L449.7 176.0L450.4 176.6L451.0 177.2L451.7 177.9L452.4 178.5L453.1 179.1L453.8 179.7L454.5 180.2L455.2 180.7L455.9 181.1L456.6 181.5L457.3 181.9L458.1 182.3L458.8 182.7L459.6 183.1L460.3 183.5L461.1 183.9L461.8 184.3L462.6 184.6L463.3 185.0L464.0 185.3L464.8 185.6L465.5 185.9L466.2 186.2L466.9 186.5L467.8 186.8L468.6 187.1L469.5 187.4L470.3 187.6L471.1 187.9L472.0 188.1L472.8 188.3L473.6 188.4L474.4 188.6L475.1 188.7L475.9 188.8L476.6 188.9L477.3 189.0L478.3 189.1L479.2 189.1L480.0 189.1L480.8 189.0L481.6 188.9L482.4 188.7L483.1 188.5L483.9 188.3L484.6 188.0L485.3 187.6L486.0 187.2L486.7 186.8L487.4 186.3L488.0 185.7L488.7 185.2L489.3 184.5L489.9 183.9L490.5 183.2L491.0 182.6L491.5 182.0L491.9 181.3L492.4 180.6L492.8 179.9L493.2 179.2L493.7 178.4L494.1 177.7L494.5 176.9L495.0 176.2L495.4 175.4L495.8 174.7L496.2 174.0L496.6 173.2L497.0 172.5L497.4 171.7L497.8 170.9L498.2 170.2L498.6 169.4L499.0 168.7L499.4 168.0L499.8 167.3L500.2 166.6L500.7 165.8L501.1 165.1L501.6 164.4L502.1 163.6L502.5 163.0L503.0 162.3L503.5 161.6L504.0 161.0L504.5 160.4L505.1 159.8L505.7 159.2L506.3 158.7L506.9 158.2L507.6 157.7L508.2 157.2L508.9 156.8L509.5 156.3L510.2 155.8L510.9 155.4L511.5 154.9L512.2 154.4L512.9 153.9L513.6 153.5L514.4 153.0L515.1 152.5L515.8 152.0L516.5 151.5L517.1 150.8L517.8 150.0L518.2 149.4L518.6 148.9L519.0 148.3L519.4 147.7L519.8 147.0L520.1 146.3L520.5 145.6L520.9 144.9L521.2 144.1L521.6 143.3L522.0 142.5L522.4 141.6L522.7 140.7L523.1 139.7L523.3 139.0L523.6 138.4L523.8 137.6L524.1 136.9L524.3 136.1L524.5 135.3L524.8 134.5L525.0 133.6L525.3 132.8L525.5 131.9L525.8 131.1L526.0 130.2L526.2 129.3L526.5 128.5L526.7 127.6L527.0 126.8L527.2 125.9L527.4 125.1L527.7 124.3L527.9 123.6L528.2 122.8L528.4 122.1L528.7 121.2L529.0 120.3L529.3 119.5L529.6 118.7L529.9 117.8L530.2 117.0L530.5 116.3L530.7 115.5L531.0 114.7L531.3 114.0L531.6 113.3L531.9 112.5L532.2 111.8L532.6 111.1L532.9 110.4L533.2 109.7L533.6 109.0L534.0 108.2L534.5 107.5L534.9 106.7L535.4 106.0L535.8 105.3L536.3 104.6L536.8 103.9L537.3 103.3L537.8 102.6L538.3 101.9L538.8 101.2L539.3 100.5L539.7 99.8L540.2 99.1L540.7 98.4L541.1 97.7L541.6 97.0L542.1 96.2L542.5 95.4L543.0 94.6L543.4 93.8L543.9 93.0L544.4 92.2L544.8 91.4L545.3 90.6L545.7 89.9L546.1 89.2L546.5 88.6L547.0 88.0L547.3 87.5L547.7 87.0L548.6 86.0L549.3 85.4L549.9 85.0L550.5 84.8L551.2 84.8L552.1 84.8L552.8 84.9L553.5 85.2L554.3 85.6L555.2 86.0L556.0 86.4L556.9 86.9L557.7 87.3L558.4 87.7L559.1 87.9L560.1 88.2L561.0 88.5L561.7 88.6L562.6 88.4L563.5 87.9L564.0 87.6L564.5 87.2L565.0 86.7L565.5 86.2L566.1 85.6L566.6 85.0L567.2 84.3L567.8 83.6L568.4 82.7L569.0 81.9L569.6 80.9L569.9 80.4L570.3 79.8L570.6 79.2L571.0 78.5L571.3 77.8L571.7 77.1L572.0 76.4L572.4 75.7L572.7 74.9L573.1 74.1L573.5 73.3L573.8 72.6L574.2 71.8L574.6 71.0L575.0 70.2L575.4 69.5L575.8 68.7L576.2 68.0L576.6 67.3L577.0 66.6L577.4 66.0L577.9 65.2L578.4 64.5L578.9 63.6L579.4 62.8L579.9 62.0L580.4 61.1L581.0 60.3L581.5 59.5L582.0 58.7L582.6 58.0L583.1 57.3L583.7 56.6L584.2 56.0L584.7 55.5L585.3 55.1L585.8 54.8L586.4 54.5L586.9 54.4L587.5 54.4L588.1 54.5L588.7 54.8L589.3 55.1L589.9 55.6L590.6 56.1L591.2 56.8L591.8 57.4L592.4 58.2L593.0 58.9L593.6 59.7L594.2 60.5L594.8 61.2L595.4 62.0L595.9 62.7L596.5 63.3L597.0 63.9L597.5 64.5L598.0 65.1L598.5 65.7L599.0 66.3L599.5 66.9L600.0 67.6L600.5 68.2L601.0 68.9L601.4 69.5L601.9 70.2L602.4 70.8L602.8 71.5L603.3 72.2L603.8 72.8L604.2 73.5L604.7 74.2L605.1 74.9L605.6 75.6L606.0 76.4L606.4 77.3L606.8 78.1L607.3 79.0L607.7 79.9L608.1 80.8L608.5 81.6L608.9 82.5L609.3 83.2L609.7 84.0L610.1 84.6L610.5 85.2L611.0 85.7L611.4 86.1L611.8 86.4L612.2 86.5L612.7 86.5L613.2 86.5L613.7 86.3L614.1 86.0L614.6 85.6L615.1 85.1L615.6 84.5L616.1 83.8L616.5 83.0L617.0 82.2L617.5 81.3L618.1 80.3L618.6 79.3L619.1 78.2L619.7 77.0L620.0 76.5L620.2 75.9L620.5 75.3L620.7 74.6L621.0 73.9L621.3 73.2L621.6 72.5L621.8 71.7L622.1 70.9L622.4 70.1L622.7 69.3L623.0 68.5L623.3 67.6L623.6 66.8L623.9 65.9L624.2 65.0L624.5 64.2L624.8 63.3L625.0 62.4L625.3 61.5L625.6 60.7L625.9 59.8L626.2 59.0L626.5 58.1L626.8 57.3L627.1 56.5L627.4 55.7L627.7 55.0L627.9 54.2L628.2 53.5L628.5 52.8L628.8 52.2L629.0 51.6L629.3 51.0L629.8 50.0L630.3 48.9L630.7 47.9L631.2 47.0L631.7 46.0L632.1 45.1L632.6 44.3L633.0 43.5L633.5 42.7L633.9 42.0L634.4 41.4L634.8 40.8L635.3 40.3L635.7 39.9L636.1 39.5L636.6 39.3L637.0 39.1L637.5 39.0L638.0 39.0L638.5 39.2L639.0 39.5L639.5 39.9L640.1 40.3L640.6 40.9L641.1 41.6L641.6 42.3L642.1 43.1L642.6 44.0L643.1 44.9L643.7 45.8L644.2 46.8L644.7 47.7L645.2 48.7L645.7 49.7L646.0 50.3L646.3 50.9L646.6 51.5L646.9 52.1L647.2 52.8L647.5 53.5L647.8 54.1L648.2 54.8L648.5 55.6L648.8 56.3L649.1 57.0L649.4 57.8L649.7 58.5L650.0 59.3L650.3 60.1L650.6 60.9L650.9 61.7L651.2 62.5L651.5 63.3L651.8 64.1L652.1 65.0L652.4 65.8L652.7 66.7L653.0 67.5L653.3 68.4L653.6 69.2L653.9 70.1L654.1 70.8L654.4 71.5L654.6 72.2L654.8 73.0L655.0 73.7L655.2 74.5L655.5 75.2L655.7 76.0L655.9 76.8L656.1 77.6L656.3 78.4L656.5 79.2L656.7 80.0L656.9 80.8L657.2 81.7L657.4 82.5L657.6 83.3L657.8 84.1L658.0 84.9L658.2 85.8L658.4 86.6L658.6 87.4L658.8 88.2L659.0 89.0L659.3 89.8L659.5 90.6L659.7 91.4L659.9 92.1L660.1 92.9L660.3 93.6L660.5 94.4L660.8 95.1L661.0 95.8L661.2 96.5L661.5 97.4L661.8 98.2L662.0 99.1L662.3 99.9L662.6 100.7L662.9 101.6L663.2 102.4L663.5 103.2L663.8 104.0L664.0 104.8L664.3 105.6L664.6 106.4L664.9 107.1L665.2 107.9L665.5 108.6L665.8 109.4L666.1 110.1L666.4 110.8L666.7 111.5L667.0 112.2L667.3 112.9L667.5 113.6L667.8 114.3L668.1 114.9L668.4 115.6L668.7 116.2L669.0 116.8L669.4 117.7L669.9 118.6L670.3 119.5L670.7 120.4L671.1 121.2L671.6 122.1L672.0 122.9L672.4 123.7L672.9 124.4L673.3 125.1L673.7 125.8L674.2 126.5L674.6 127.1L675.0 127.6L675.5 128.1L676.0 128.6L676.4 129.0L676.9 129.3L677.7 129.7L678.5 129.9L679.3 129.9L680.2 129.8L681.0 129.5L681.9 129.2L682.8 128.9L683.6 128.5L684.5 128.2L685.3 127.9L686.2 127.7L687.1 127.5L687.9 127.4L688.8 127.2L689.6 127.0L690.5 126.8L691.3 126.7L692.2 126.5L693.0 126.4L693.9 126.3L694.7 126.2L695.6 126.2L696.4 126.2L697.3 126.2L698.1 126.2L698.9 126.2L699.7 126.2L700.5 126.3L701.4 126.4L702.2 126.6L703.1 126.9L704.0 127.3L705.0 127.7L705.6 128.0L706.2 128.3L706.8 128.7L707.4 129.0L708.0 129.4L708.7 129.8L709.3 130.2L710.0 130.7L710.7 131.2L711.3 131.7L712.0 132.2L712.7 132.7L713.4 133.3L714.1 133.9L714.7 134.5L715.4 135.1L716.1 135.7L716.7 136.4L717.4 137.1L717.9 137.6L718.4 138.2L718.8 138.7L719.3 139.3L719.8 139.9L720.3 140.5L720.8 141.2L721.2 141.8L721.7 142.5L722.2 143.1L722.7 143.8L723.2 144.5L723.6 145.2L724.1 145.9L724.6 146.6L725.1 147.3L725.6 148.0L726.1 148.8L726.5 149.5L727.0 150.2L727.5 150.9L728.0 151.6L728.5 152.3L728.9 153.0L729.4 153.6L729.9 154.3L730.4 155.0L730.9 155.6L731.3 156.3L731.8 156.9L732.3 157.6L732.8 158.3L733.3 158.9L733.7 159.6L734.2 160.3L734.7 160.9L735.2 161.6L735.7 162.2L736.1 162.9L736.6 163.6L737.1 164.2L737.6 164.9L738.1 165.6L738.6 166.2L739.0 166.9L739.5 167.5L740.0 168.2L740.5 168.9L741.0 169.5L741.4 170.2L741.9 170.8L742.4 171.5L742.9 172.2L743.4 172.8L743.9 173.5L744.4 174.2L744.9 174.9L745.3 175.5L745.8 176.2L746.3 176.9L746.8 177.6L747.3 178.3L747.8 179.0L748.3 179.7L748.8 180.3L749.3 181.0L749.8 181.7L750.3 182.4L750.8 183.0L751.3 183.7L751.8 184.3L752.2 185.0L752.7 185.6L753.1 186.2L753.6 186.8L754.0 187.4L754.5 188.0L754.9 188.6L755.5 189.4L756.0 190.1L756.6 190.9L757.1 191.7L757.6 192.4L758.2 193.2L758.7 193.9L759.2 194.6L759.7 195.3L760.1 196.0L760.6 196.6L761.1 197.3L761.6 197.9L762.0 198.5L762.5 199.1L762.9 199.6L763.4 200.1L763.8 200.6L764.3 201.1L765.1 201.9L765.8 202.6L766.5 203.2L767.3 203.8L768.0 204.4L768.6 204.8L769.3 205.2L770.0 205.5L770.7 205.7L771.4 205.8L772.1 205.8L772.8 205.7L773.4 205.4L774.1 205.0L774.8 204.5L775.5 204.0L776.2 203.3L776.8 202.7L777.5 202.0L778.1 201.3L778.8 200.7L779.3 200.1L779.9 199.5L780.5 198.9L781.0 198.2L781.5 197.6L782.0 196.9L782.4 196.3L782.9 195.6L783.3 195.0L783.8 194.4L784.4 193.8L785.0 193.2L785.6 192.6L786.3 192.1L787.0 191.4L787.8 190.8L788.6 190.2L789.4 189.7L790.2 189.1L790.9 188.7L791.6 188.3L792.3 188.0L792.9 187.9L793.8 187.9L794.6 188.1L795.2 188.5L795.8 189.2L796.5 190.2L797.2 191.4L797.5 191.9L797.8 192.5L798.1 193.2L798.4 194.0L798.7 194.7L799.0 195.6L799.3 196.4L799.6 197.3L800.0 198.2L800.3 199.1L800.6 199.9L800.9 200.8L801.2 201.6L801.6 202.4L801.9 203.2L802.2 203.9L802.5 204.5L803.0 205.5L803.5 206.6L804.0 207.7L804.5 208.7L805.1 209.6L805.6 210.4L806.1 211.0L806.6 211.4L807.1 211.6L807.7 211.5L808.0 211.3L808.4 210.9L808.7 210.4L809.1 209.7L809.5 209.0L809.8 208.2L810.2 207.3L810.6 206.4L810.9 205.5L811.3 204.5L811.7 203.6L812.0 202.7L812.4 201.9L812.8 201.1L813.1 200.4L813.5 199.8L813.8 199.3L814.7 198.3L815.5 197.6L816.3 197.2L817.2 197.1L818.0 197.2L819.0 197.5L819.5 197.8L820.1 198.1L820.6 198.6L821.2 199.1L821.8 199.7L822.4 200.4L823.0 201.0L823.6 201.7L824.2 202.5L824.8 203.2L825.4 203.8L826.0 204.5L826.5 205.2L827.1 205.9L827.7 206.7L828.2 207.6L828.8 208.5L829.3 209.4L829.9 210.2L830.4 211.0L831.0 211.7L831.5 212.2L832.0 212.6L832.5 212.8L833.0 212.8L833.4 212.6L833.7 212.3L834.1 211.9L834.5 211.3L834.8 210.7L835.2 209.9L835.5 209.1L835.8 208.3L836.1 207.4L836.5 206.5L836.8 205.5L837.1 204.6L837.4 203.6L837.6 202.7L837.9 201.8L838.2 201.0L838.4 200.2L838.7 199.4L838.9 198.5L839.1 197.7L839.3 196.8L839.5 195.9L839.7 194.9L839.9 194.0L840.1 193.1L840.3 192.2L840.5 191.4L840.7 190.5L840.9 189.7L841.1 189.0L841.3 188.3L841.5 187.7L841.7 187.1L842.2 185.9L842.8 184.9L843.3 184.1L843.9 183.5L844.5 183.1L845.2 183.0L846.1 183.1L846.6 183.3L847.1 183.6L847.7 183.9L848.3 184.4L848.9 184.9L849.5 185.4L850.2 186.1L850.8 186.7L851.5 187.4L852.2 188.0L852.9 188.7L853.5 189.3L854.2 189.9L854.8 190.5L855.4 191.1L856.0 191.8L856.7 192.5L857.3 193.3L857.9 194.1L858.5 194.9L859.1 195.6L859.8 196.3L860.4 197.0L861.0 197.5L861.6 198.0L862.3 198.3L862.9 198.4L863.5 198.4L864.0 198.2L864.6 197.9L865.1 197.5L865.6 196.9L866.2 196.3L866.7 195.5L867.3 194.8L867.8 193.9L868.4 193.1L868.9 192.2L869.5 191.3L870.0 190.5L870.5 189.7L871.0 188.9L871.4 188.2L871.9 187.6L872.3 187.1L873.1 186.2L873.8 185.3L874.4 184.6L875.0 183.9L875.5 183.4L876.1 183.1L876.8 183.0L877.5 183.1L878.0 183.3L878.5 183.6L879.1 184.1L879.7 184.6L880.3 185.2L880.9 185.9L881.5 186.6L882.1 187.3L882.7 188.0L883.4 188.7L884.0 189.4L884.7 190.0L885.3 190.5L886.0 191.0L886.7 191.6L887.5 192.2L888.3 192.8L889.0 193.3L889.8 193.9L890.6 194.4L891.3 194.8L892.1 195.2L892.8 195.5L893.5 195.7L894.1 195.8L894.9 195.8L895.6 195.5L896.2 195.2L896.9 194.7L897.5 194.1L898.1 193.4L898.7 192.8L899.3 192.1L900.0 191.4L900.5 190.9L901.1 190.2L901.7 189.5L902.3 188.8L902.9 188.0L903.5 187.2L904.1 186.5L904.7 185.8L905.3 185.2L905.9 184.7L906.4 184.3L907.0 184.0L907.8 183.9L908.6 184.0L909.3 184.3L910.0 184.7L910.8 185.3L911.5 185.9L912.3 186.5L913.1 187.1L913.7 187.6L914.3 188.2L915.0 188.9L915.6 189.7L916.3 190.5L916.9 191.2L917.6 191.9L918.2 192.5L918.9 192.9L919.5 193.2L920.1 193.2L920.6 193.0L921.2 192.7L921.7 192.2L922.2 191.7L922.7 191.0L923.1 190.2L923.6 189.4L924.1 188.6L924.6 187.7L925.1 186.9L925.7 186.1L926.2 185.3L926.7 184.6L927.2 183.9L927.7 183.2L928.2 182.4L928.7 181.6L929.2 180.8L929.7 180.0L930.2 179.2L930.7 178.5L931.2 177.8L931.7 177.1L932.2 176.6L932.7 176.1L933.2 175.7L934.1 175.2L934.9 174.9L935.7 174.8L936.6 174.9L937.4 175.2L938.3 175.6L939.3 176.1L939.8 176.4L940.4 176.8L941.0 177.3L941.6 177.8L942.3 178.3L942.9 178.9L943.6 179.5L944.3 180.1L944.9 180.7L945.6 181.4L946.2 182.0L946.8 182.5L947.4 183.1L948.0 183.6L948.7 184.3L949.3 185.0L949.9 185.7L950.5 186.5L951.1 187.2L951.7 187.9L952.3 188.5L952.9 189.0L953.5 189.4L954.2 189.6L955.0 189.7L955.6 189.6L956.2 189.3L956.9 189.0L957.6 188.5L958.3 187.9L959.0 187.3L959.7 186.7L960.5 186.0L961.2 185.4L961.9 184.7L962.7 184.2L963.4 183.6L964.1 183.2L964.7 182.9L965.4 182.7L966.3 182.6L967.1 182.7L967.9 182.9L968.7 183.1L969.5 183.5L970.2 183.9L971.0 184.4L971.8 184.8L972.6 185.3L973.4 185.8L974.2 186.2L974.9 186.6L975.6 187.0L976.3 187.5L977.1 188.0L977.8 188.5L978.5 189.0L979.3 189.5L980.0 190.0L980.8 190.4L981.5 190.8L982.3 191.1L983.0 191.3L983.8 191.4L984.6 191.4L985.4 191.3L986.1 191.1L986.9 190.8L987.7 190.4L988.5 190.1L989.3 189.7L990.2 189.3L991.0 188.9L991.8 188.5L992.6 188.2L993.4 188.0L994.2 187.9L995.0 187.9L995.8 187.9L996.7 188.0L997.5 188.2L998.3 188.3L999.2 188.5L1000.0 188.7L1000.8 189.0L1001.7 189.2L1002.5 189.4L1003.2 189.5L1004.0 189.6L1004.7 189.7L1005.7 189.7L1006.7 189.7L1007.7 189.7L1008.6 189.6L1009.5 189.5L1010.3 189.3L1011.1 189.2L1011.9 189.0L1012.6 188.8L1013.6 188.4L1014.5 188.0L1015.2 187.4L1015.9 186.9L1016.5 186.5L1016.9 186.2" stroke="#ed7d31" stroke-width="3.75"/></g>
<g clip-path="url(#c2)"><path d="M118.0 475.5L118.5 477.0L119.1 475.4L119.7 476.7L120.2 474.9L120.8 476.4L121.3 474.3L121.9 476.1L122.4 473.9L123.0 475.9L123.5 473.5L124.1 475.8L124.6 473.4L125.2 474.8L125.8 472.8L126.3 475.3L126.9 472.8L127.4 473.8L128.0 472.4L128.6 474.7L129.1 472.2L129.7 474.5L130.3 471.8L130.8 474.7L131.4 471.8L132.0 475.4L132.5 472.4L133.1 475.2L133.7 472.9L134.2 476.5L134.8 473.7L135.4 477.5L135.9 474.1L136.5 478.3L137.1 474.1L137.7 479.0L138.2 474.8L138.8 479.5L139.4 474.8L140.0 480.1L140.5 475.1L141.1 481.7L141.7 476.0L142.3 481.8L142.8 476.4L143.4 483.4L144.0 477.3L144.6 482.6L145.2 478.1L145.8 486.3L146.3 479.0L146.9 487.1L147.5 479.4L148.1 486.1L148.7 479.9L149.3 488.2L149.9 480.7L150.4 488.2L151.0 482.0L151.6 489.4L152.2 483.0L152.8 490.9L153.4 483.7L154.0 490.9L154.6 484.5L155.2 492.2L155.8 485.5L156.4 490.0L157.0 486.2L157.6 493.0L158.2 486.6L158.8 493.5L159.4 487.3L160.0 491.1L160.6 487.6L161.2 495.2L161.8 487.6L162.4 494.3L163.0 487.7L163.6 495.3L164.2 488.1L164.8 495.9L165.4 488.3L166.0 494.3L166.6 488.6L167.2 496.2L167.8 489.0L168.4 493.9L169.1 488.7L169.7 496.3L170.3 488.8L170.9 493.9L171.5 488.8L172.1 494.2L172.7 488.3L173.4 496.9L174.0 488.2L174.6 494.1L175.2 488.4L175.8 497.6L176.5 487.8L177.1 497.7L177.7 487.7L178.3 497.4L178.9 487.7L179.6 498.1L180.2 487.2L180.8 497.9L181.4 487.3L182.1 497.5L182.7 487.8L183.3 496.9L184.0 487.7L184.6 497.7L185.2 488.0L185.9 499.3L186.5 488.2L187.1 496.8L187.8 488.4L188.4 496.8L189.0 488.5L189.7 499.7L190.3 488.8L190.9 498.9L191.6 489.3L192.2 500.6L192.9 489.9L193.5 500.9L194.1 490.5L194.8 501.2L195.4 490.8L196.1 501.4L196.7 491.4L197.4 501.4L198.0 491.9L198.7 498.6L199.3 492.8L200.0 502.0L200.6 493.1L201.3 502.1L201.9 493.6L202.6 502.5L203.2 493.9L203.9 498.1L204.5 493.7L205.2 502.4L205.9 493.6L206.5 503.1L207.2 493.8L207.9 503.2L208.6 494.1L209.2 503.5L209.9 493.7L210.6 499.2L211.3 494.1L211.9 503.0L212.6 493.8L213.3 502.7L214.0 493.4L214.7 497.9L215.4 493.1L216.1 500.4L216.8 492.3L217.5 501.5L218.2 491.8L218.9 499.1L219.6 491.6L220.3 498.7L221.0 491.1L221.7 500.6L222.4 491.0L223.1 495.7L223.8 491.0L224.6 497.5L225.3 490.9L226.0 497.8L226.7 490.5L227.5 499.0L228.2 490.5L228.9 500.3L229.6 490.3L230.4 500.9L231.1 490.4L231.9 499.8L232.6 490.7L233.3 501.8L234.1 491.0L234.8 497.1L235.6 491.4L236.3 503.5L237.1 491.3L237.8 504.4L238.6 491.7L239.4 505.2L240.1 492.4L240.9 500.9L241.7 492.9L242.4 505.8L243.2 493.2L244.0 502.7L244.7 493.1L245.5 503.7L246.3 493.7L247.1 502.2L247.9 493.8L248.7 503.9L249.4 493.6L250.2 501.4L251.0 493.4L251.8 500.7L252.6 493.2L253.4 502.5L254.2 492.3L255.0 497.7L255.8 491.9L256.6 501.0L257.5 491.0L258.3 499.9L259.1 490.9L259.9 496.5L260.7 489.7L261.6 495.3L262.4 489.1L263.2 495.5L264.0 487.6L264.9 495.1L265.7 486.4L266.5 494.8L267.4 485.8L268.2 492.5L269.1 484.4L269.9 489.0L270.8 483.2L271.6 489.0L272.5 482.3L273.3 491.9L274.2 481.8L275.1 491.4L276.0 481.6L276.9 490.2L277.8 481.4L278.6 490.5L279.6 481.1L280.5 486.9L281.4 481.3L282.3 490.1L283.2 481.9L284.1 487.3L285.1 482.2L286.0 487.3L287.0 482.6L287.9 489.9L288.9 483.1L289.8 490.5L290.8 483.4L291.8 490.0L292.8 483.2L293.7 487.7L294.7 483.3L295.7 488.2L296.7 483.6L297.8 487.3L298.8 483.1L299.8 486.5L300.8 481.9L301.9 484.4L302.9 479.9L303.9 483.2L305.0 477.9L306.1 481.6L307.1 475.9L308.2 479.3L309.3 473.4L310.4 476.4L311.5 471.3L312.6 475.4L313.7 469.0L314.8 473.5L315.9 467.6L317.0 471.2L318.1 466.2L319.3 469.9L320.4 464.9L321.6 466.5L322.8 463.6L323.9 465.7L325.1 463.7L326.3 466.8L327.6 463.1L328.8 465.0L330.1 462.9L331.3 466.5L332.6 462.2L333.9 466.1L335.2 461.8L336.5 466.1L337.9 461.1L339.2 465.9L340.6 460.4L342.0 464.7L343.4 458.9L344.8 466.7L346.3 458.1L347.7 469.3L349.2 457.9L350.7 464.2L352.2 457.4L353.8 464.8L355.3 457.4L355.9 460.6L356.4 467.1L357.0 470.4L357.5 467.2L358.1 460.9L358.6 457.7L359.2 460.2L359.7 465.1L360.3 467.6L360.9 465.0L361.5 459.8L362.0 457.2L362.6 460.9L363.2 468.2L363.8 471.9L364.4 468.4L365.0 461.4L365.6 457.9L366.2 461.6L366.8 469.2L367.4 473.0L368.1 469.4L368.7 462.4L369.3 458.8L370.0 462.6L370.6 470.0L371.2 473.8L371.9 470.4L372.5 463.7L373.2 460.3L373.9 463.9L374.5 471.2L375.2 474.8L375.9 471.5L376.6 464.8L377.3 461.5L378.0 464.8L378.7 471.5L379.4 474.8L380.7 460.1L382.0 475.7L382.7 471.7L383.5 463.7L384.2 459.7L384.9 464.3L385.7 473.4L386.4 478.0L387.0 475.1L387.6 468.3L388.3 461.4L388.9 458.5L389.5 461.5L390.1 468.6L390.8 475.7L391.4 478.6L392.2 473.9L393.0 464.6L393.8 460.0L394.5 465.3L395.3 476.0L396.1 481.3L396.9 476.3L397.7 466.3L398.5 461.3L399.2 466.4L400.0 476.7L400.8 481.8L401.4 478.9L402.0 472.0L402.6 465.0L403.2 462.1L403.9 465.5L404.5 473.7L405.1 481.9L405.7 485.3L406.5 479.7L407.3 468.6L408.0 463.0L408.8 469.0L409.6 480.9L410.4 486.8L411.2 481.1L412.0 469.8L412.8 464.1L413.5 470.5L414.3 483.3L415.1 489.7L415.8 486.3L416.4 477.9L417.1 469.6L417.8 466.2L418.4 470.0L419.1 479.1L419.7 488.3L420.4 492.1L421.2 486.4L422.0 474.9L422.8 469.2L423.5 475.4L424.3 487.9L425.1 494.1L425.8 490.7L426.4 482.4L427.1 474.1L427.7 470.6L428.4 473.9L429.0 481.9L429.7 489.9L430.3 493.2L431.0 490.0L431.6 482.4L432.3 474.7L433.0 471.6L433.6 474.5L434.3 481.5L434.9 488.6L435.6 491.5L436.3 488.5L436.9 481.3L437.6 474.0L438.2 471.0L438.9 474.4L439.6 482.4L440.2 490.5L440.9 493.8L441.6 489.7L442.3 479.9L443.1 470.1L443.8 466.1L444.5 470.4L445.2 480.8L446.0 491.3L446.7 495.6L447.4 491.6L448.0 481.8L448.7 472.0L449.4 468.0L450.0 472.1L450.7 482.0L451.3 491.8L452.0 495.9L452.6 492.2L453.3 483.4L454.0 474.6L454.6 470.9L455.2 475.0L455.9 484.7L456.6 494.5L457.2 498.5L457.9 496.2L458.6 490.3L459.2 483.0L459.9 477.0L460.6 474.8L461.3 477.4L462.0 484.5L462.6 493.2L463.3 500.2L464.0 502.9L464.7 499.0L465.4 489.6L466.2 480.3L466.9 476.4L467.6 480.5L468.4 490.4L469.1 500.3L469.8 504.4L470.5 500.5L471.3 491.0L472.0 481.6L472.8 477.7L473.5 482.3L474.2 493.6L475.0 504.8L475.7 509.5L476.4 506.3L477.0 497.9L477.7 487.5L478.3 479.2L479.0 476.0L479.7 479.2L480.3 487.8L481.0 498.4L481.6 506.9L482.3 510.2L483.0 505.4L483.8 493.7L484.5 482.0L485.2 477.1L485.9 482.4L486.7 495.1L487.4 507.8L488.1 513.1L488.7 510.5L489.3 503.3L489.9 493.5L490.5 483.7L491.1 476.5L491.8 473.9L492.4 476.8L493.0 485.0L493.6 496.0L494.2 507.1L494.8 515.2L495.4 518.2L496.1 512.9L496.7 499.2L497.4 482.2L498.0 468.4L498.7 463.1L499.4 469.2L500.0 485.2L500.7 504.9L501.3 520.9L502.0 527.0L502.7 520.0L503.3 501.5L504.0 478.7L504.6 460.2L505.3 453.2L506.0 460.8L506.6 480.7L507.3 505.4L507.9 525.3L508.6 532.9L509.3 524.7L510.0 503.2L510.7 476.7L511.4 455.2L512.0 447.0L512.7 455.8L513.4 478.9L514.1 507.4L514.8 530.5L515.5 539.3L516.1 529.9L516.8 505.4L517.4 475.2L518.1 450.7L518.7 441.3L519.4 451.8L520.1 479.2L520.9 513.1L521.6 540.5L522.3 551.0L522.9 544.8L523.6 527.6L524.2 502.7L524.8 475.0L525.4 450.1L526.1 432.9L526.7 426.7L527.4 447.2L528.2 496.5L528.9 545.9L529.6 566.4L530.2 558.6L530.9 536.8L531.5 505.3L532.1 470.2L532.7 438.7L533.4 416.9L534.0 409.1L534.6 420.8L535.2 452.6L535.9 496.2L536.5 539.7L537.1 571.5L537.7 583.2L538.4 565.5L539.1 519.0L539.9 461.6L540.6 415.1L541.3 397.4L541.9 410.4L542.5 445.8L543.1 494.3L543.8 542.8L544.4 578.2L545.0 591.2L545.6 577.6L546.2 540.6L546.8 490.0L547.4 439.3L548.0 402.3L548.6 388.7L549.3 398.9L549.9 427.4L550.6 468.6L551.3 514.3L552.0 555.5L552.6 584.0L553.3 594.2L554.0 575.0L554.7 524.7L555.3 462.5L556.0 412.2L556.7 393.0L557.3 402.8L558.0 430.3L558.6 470.0L559.2 514.2L559.8 553.9L560.5 581.4L561.1 591.2L561.7 581.2L562.4 553.3L563.0 513.0L563.6 468.3L564.2 428.0L564.9 400.1L565.5 390.1L566.1 403.9L566.8 441.5L567.5 492.9L568.1 544.2L568.8 581.8L569.4 595.6L570.1 581.0L570.8 541.0L571.5 486.3L572.1 431.7L572.8 391.6L573.5 377.0L574.2 388.3L574.8 419.9L575.5 465.7L576.2 516.4L576.9 562.2L577.5 593.8L578.2 605.1L578.9 588.9L579.6 544.8L580.2 484.5L580.9 424.1L581.6 380.0L582.3 363.8L582.9 371.2L583.5 392.4L584.1 424.9L584.7 464.7L585.3 507.1L585.9 547.0L586.5 579.4L587.1 600.6L587.7 608.0L588.4 584.5L589.0 523.1L589.7 447.2L590.3 385.8L591.0 362.3L591.6 369.1L592.2 388.6L592.9 418.4L593.5 455.1L594.1 494.0L594.7 530.7L595.4 560.5L596.0 580.0L596.6 586.8L597.2 578.8L597.9 555.9L598.5 521.6L599.2 481.1L599.8 440.7L600.4 406.4L601.1 383.5L601.7 375.5L602.3 381.1L602.9 397.2L603.6 421.9L604.2 452.2L604.8 484.5L605.4 514.8L606.1 539.5L606.7 555.6L607.3 561.2L607.9 556.0L608.5 541.0L609.1 518.1L609.7 489.9L610.3 460.0L610.9 431.8L611.5 408.9L612.1 393.9L612.7 388.7L613.4 395.3L614.1 414.2L614.7 442.4L615.4 475.7L616.1 509.0L616.8 537.2L617.4 556.1L618.1 562.7L618.7 556.8L619.3 539.9L619.9 514.1L620.5 482.3L621.2 448.6L621.8 416.8L622.4 391.0L623.0 374.1L623.6 368.2L624.2 376.6L624.9 400.4L625.5 436.1L626.2 478.2L626.9 520.4L627.5 556.1L628.1 579.9L628.8 588.3L629.4 582.4L630.1 565.5L630.8 539.0L631.4 505.7L632.0 468.8L632.7 431.8L633.3 398.5L634.0 372.0L634.6 355.1L635.3 349.2L635.9 358.5L636.6 385.0L637.2 424.6L637.9 471.3L638.5 518.0L639.2 557.6L639.9 584.1L640.5 593.4L641.1 586.3L641.8 565.9L642.4 534.5L643.1 496.1L643.7 455.3L644.4 416.9L645.0 385.5L645.7 365.1L646.3 358.0L646.9 363.1L647.6 377.8L648.2 400.8L648.8 429.7L649.5 461.8L650.1 493.9L650.7 522.8L651.3 545.8L652.0 560.5L652.6 565.6L653.3 559.0L654.0 540.1L654.6 511.9L655.3 478.6L656.0 445.3L656.6 417.1L657.3 398.2L658.0 391.6L658.6 393.4L659.3 398.7L659.9 407.2L660.5 418.3L661.2 431.5L661.8 446.0L662.4 461.0L663.0 475.5L663.7 488.7L664.3 499.8L664.9 508.3L665.6 513.6L666.2 515.4L666.8 514.1L667.5 510.3L668.1 504.1L668.7 496.0L669.4 486.5L670.0 476.0L670.6 465.1L671.2 454.6L671.9 445.1L672.5 437.0L673.1 430.8L673.8 427.0L674.4 425.7L675.0 427.8L675.7 433.9L676.3 443.5L676.9 455.8L677.6 469.9L678.2 484.5L678.9 498.6L679.5 510.9L680.1 520.5L680.8 526.6L681.4 528.7L682.0 527.4L682.6 523.6L683.2 517.4L683.9 509.2L684.5 499.3L685.1 488.4L685.7 476.9L686.3 465.3L686.9 454.4L687.5 444.5L688.2 436.3L688.8 430.1L689.4 426.3L690.0 425.0L690.6 427.3L691.3 434.2L691.9 444.9L692.5 458.7L693.2 474.5L693.8 490.9L694.5 506.7L695.1 520.5L695.7 531.2L696.4 538.1L697.0 540.4L697.6 538.7L698.3 533.9L698.9 526.1L699.5 515.8L700.2 503.6L700.8 490.3L701.4 476.6L702.0 463.3L702.7 451.1L703.3 440.8L703.9 433.0L704.6 428.2L705.2 426.5L705.8 427.9L706.4 431.9L707.0 438.5L707.6 447.2L708.2 457.6L708.8 469.3L709.5 481.5L710.1 493.7L710.7 505.4L711.3 515.8L711.9 524.5L712.5 531.1L713.1 535.1L713.7 536.5L714.3 534.8L715.0 530.0L715.6 522.2L716.2 512.1L716.8 500.4L717.5 487.8L718.1 475.1L718.7 463.4L719.3 453.3L720.0 445.5L720.6 440.7L721.2 439.0L721.8 440.0L722.4 442.8L723.0 447.5L723.6 453.7L724.2 461.2L724.8 469.7L725.4 478.8L726.0 488.1L726.6 497.2L727.2 505.7L727.8 513.2L728.4 519.4L729.0 524.1L729.6 526.9L730.2 527.9L730.9 526.2L731.5 521.4L732.2 513.9L732.8 504.5L733.5 494.0L734.2 483.5L734.8 474.1L735.5 466.6L736.1 461.8L736.8 460.1L737.4 460.4L738.0 461.2L738.7 462.5L739.3 464.3L739.9 466.6L740.5 469.3L741.1 472.2L741.8 475.4L742.4 478.8L743.0 482.3L743.6 485.8L744.2 489.2L744.9 492.4L745.5 495.3L746.1 498.0L746.7 500.3L747.3 502.1L748.0 503.4L748.6 504.2L749.2 504.5L749.9 504.2L750.5 503.2L751.2 501.6L751.8 499.5L752.5 497.1L753.1 494.6L753.8 492.0L754.4 489.6L755.0 487.5L755.7 485.9L756.4 484.9L757.0 484.6L757.2 484.9L757.4 485.3L757.7 485.7L758.1 486.2L758.4 486.7L758.8 487.2L759.2 487.7L759.6 488.3L760.0 488.9L760.4 489.5L760.7 490.1L761.1 490.7L761.4 491.2L761.7 491.8L762.0 492.4L762.3 493.0L762.7 493.7L763.0 494.3L763.3 494.9L763.6 495.6L763.9 496.1L764.2 496.6L764.5 496.9L764.9 497.3L765.2 497.4L765.6 497.3L766.1 496.9L766.6 496.5L767.1 496.2L767.5 495.5L768.0 494.8L768.5 494.1L768.9 493.5L769.4 492.8L769.8 492.6L770.2 492.9L770.6 493.2L770.9 493.4L771.3 493.8L771.6 494.5L771.9 495.1L772.2 495.7L772.6 496.4L772.9 497.3L773.3 498.1L773.6 498.5L773.9 498.8L774.3 499.4L774.6 500.1L775.0 500.7L775.3 501.4L775.7 502.1L776.0 502.7L776.4 503.2L776.7 504.0L777.1 504.5L777.4 504.9L777.9 504.9L778.3 504.6L778.8 504.1L779.2 503.5L779.7 503.0L780.1 502.3L780.6 501.7L781.0 500.9L781.5 500.3L782.0 500.4L782.5 500.5L783.0 500.6L783.5 500.4L784.0 500.6L784.5 500.0L785.0 499.2L785.5 497.7L785.6 496.8L785.8 496.1L785.9 495.8L786.0 495.3L786.2 494.6L786.3 494.4L786.4 494.0L786.6 493.9L786.7 493.5L786.8 493.0L786.9 492.1L787.1 491.1L787.2 490.6L787.3 490.1L787.5 489.8L787.6 488.6L787.7 487.9L787.9 487.3L788.0 486.7L788.1 486.0L788.3 485.3L788.4 484.3L788.5 483.3L788.7 482.4L788.8 481.6L788.9 481.2L789.1 481.3L789.2 481.5L789.3 481.3L789.5 480.7L789.6 479.5L790.3 477.9L791.0 477.7L791.7 478.4L792.3 478.7L793.0 478.8L793.7 479.2L793.9 479.2L794.1 479.2L794.3 480.2L794.6 481.3L794.8 481.8L795.0 481.8L795.2 482.0L795.4 482.6L795.6 483.5L795.8 484.9L796.0 485.8L796.3 486.0L796.5 486.6L796.7 487.8L796.9 488.7L797.1 488.8L797.3 488.5L797.6 488.9L797.8 490.2L798.0 491.5L798.2 492.6L798.5 492.7L798.7 492.9L798.9 493.5L799.2 495.0L799.4 495.8L799.7 495.8L799.9 496.4L800.1 497.3L800.4 498.4L800.6 498.5L800.9 499.3L801.1 500.1L801.3 501.1L801.5 501.3L801.8 501.4L802.0 501.3L802.2 501.4L802.4 501.3L802.7 502.0L802.9 501.9L803.1 501.8L803.3 501.5L803.5 501.6L803.7 500.6L803.9 499.2L804.1 497.8L804.4 497.4L804.7 497.4L805.0 497.1L805.4 496.0L805.9 494.8L806.2 494.5L806.6 494.6L807.1 494.0L807.5 492.8L808.0 492.4L808.5 492.7L809.1 492.4L809.6 491.3L810.2 490.4L810.7 490.2L811.3 489.7L811.9 489.4L812.4 489.2L813.0 489.3L813.5 488.5L814.0 488.4L814.5 488.2L815.0 487.9L815.4 487.5L815.8 487.4L816.1 487.6L817.1 486.3L817.8 485.2L818.2 485.3L818.6 486.3L819.2 487.7L819.4 487.6L819.6 488.5L819.8 489.1L820.0 490.0L820.2 489.9L820.4 490.2L820.6 490.2L820.8 491.4L821.1 492.2L821.3 492.8L821.5 492.6L821.8 493.4L822.0 494.2L822.2 494.8L822.5 495.4L822.7 496.5L822.9 497.5L823.1 498.3L823.4 498.8L823.6 499.4L823.8 499.6L824.0 499.9L824.2 500.6L824.5 501.5L824.8 502.0L825.1 502.3L825.4 503.3L825.6 503.9L825.9 504.3L826.2 504.9L826.4 505.8L826.7 506.9L827.0 507.9L827.2 508.7L827.5 509.0L827.8 509.0L828.0 508.7L828.3 508.4L828.6 508.5L828.9 508.7L829.2 508.1L829.6 507.3L829.9 506.9L830.2 506.5L830.5 505.8L830.8 505.2L831.1 504.6L831.5 503.5L831.8 502.6L832.1 502.4L832.4 502.2L832.8 501.2L833.3 500.6L833.7 500.1L834.1 500.0L834.5 500.2L835.0 500.0L835.5 499.4L836.0 498.9L836.5 498.7L836.6 498.5L836.8 497.7L836.9 497.1L837.1 496.6L837.2 496.1L837.4 495.3L837.5 494.9L837.7 493.8L837.8 493.5L838.0 493.0L838.2 492.7L838.3 491.8L838.5 491.0L838.7 490.5L838.8 489.5L839.0 488.6L839.2 488.1L839.3 488.2L839.5 487.3L839.7 485.8L839.9 485.1L840.0 484.7L840.2 483.7L840.4 482.8L840.6 482.4L840.7 482.2L840.9 481.5L841.1 480.9L841.2 480.0L841.4 479.3L841.6 479.1L841.8 479.0L841.9 478.8L842.1 478.4L842.3 477.7L842.4 477.2L842.6 477.1L843.2 476.3L843.9 475.1L844.5 474.0L845.1 473.8L845.8 473.6L846.4 473.8L847.0 473.5L847.6 473.5L848.2 473.9L848.7 474.6L849.1 475.4L849.4 476.0L849.7 476.8L850.0 476.9L850.3 477.0L850.6 477.4L850.9 478.5L851.2 479.1L851.4 479.7L851.7 480.5L852.0 481.2L852.2 481.7L852.5 482.2L852.8 482.5L853.1 482.8L853.3 482.9L853.6 483.5L853.8 483.7L854.1 484.3L854.4 485.1L854.6 486.1L854.9 487.1L855.1 488.2L855.4 488.8L855.7 489.5L855.9 489.8L856.2 490.3L856.5 490.6L856.8 491.1L857.3 491.3L857.9 492.0L858.5 492.9L859.0 493.1L859.6 492.9L860.2 493.5L860.8 493.7L861.4 493.2L861.9 492.9L862.3 492.8L862.6 492.7L862.9 492.4L863.2 492.5L863.5 491.9L863.8 491.6L864.1 490.7L864.4 489.9L864.8 488.5L865.2 487.8L865.6 487.1L866.0 487.1L866.3 487.1L866.5 486.4L866.8 484.8L867.1 483.6L867.4 483.1L867.7 483.1L868.0 483.0L868.4 482.6L868.7 481.7L869.0 480.6L869.4 479.7L869.7 479.6L870.1 479.9L870.4 479.4L870.7 478.0L871.1 477.4L871.4 477.0L871.7 476.7L872.0 475.6L872.3 475.0L872.6 474.4L872.8 474.3L873.1 473.7L873.8 473.3L874.5 473.1L875.1 473.5L875.6 473.9L876.1 474.8L876.6 475.1L877.2 475.3L877.5 475.6L877.9 476.3L878.3 476.6L878.6 477.2L879.0 477.6L879.4 478.6L879.7 478.9L880.1 479.7L880.4 480.3L880.7 481.2L881.0 481.7L881.3 481.7L881.9 482.9L882.4 483.7L882.8 484.1L883.3 483.4L883.7 482.8L884.2 482.4L884.8 482.0L885.3 481.6L885.8 481.1L886.4 481.3L886.7 481.7L886.9 482.5L887.1 483.4L887.4 484.3L887.6 484.8L887.8 485.2L888.1 486.1L888.4 486.9L888.7 487.6L889.1 488.3L889.5 489.1L889.9 489.1L890.3 488.3L890.6 487.8L891.0 487.8L891.5 487.7L891.9 487.0L892.4 486.3L892.9 485.5L893.4 484.9L893.9 484.1L894.4 484.1L894.9 484.2L895.4 483.8L895.9 482.5L896.4 481.8L896.9 481.7L897.4 481.6L897.8 480.7L898.4 480.0L898.9 479.7L899.4 479.8L899.9 479.9L900.4 479.7L900.9 479.1L901.4 478.3L901.9 477.6L902.4 477.4L902.9 477.0L903.4 477.4L904.0 477.7L904.6 477.5L904.9 477.4L905.3 478.1L905.7 479.1L906.1 479.3L906.5 478.9L906.9 479.1L907.3 480.2L907.7 481.4L908.1 481.5L908.5 481.6L909.0 482.2L909.4 482.6L909.8 483.4L910.2 484.0L910.6 484.4L911.0 484.9L911.4 485.6L911.8 486.0L912.2 485.9L912.5 486.7L912.9 487.4L913.2 488.0L913.5 488.4L914.3 488.9L915.0 488.8L915.6 489.1L916.1 489.5L916.7 489.7L917.2 489.2L917.8 488.8L918.4 487.9L918.7 487.9L919.1 487.9L919.5 487.8L919.9 486.9L920.2 485.9L920.6 485.4L921.0 484.8L921.4 484.2L921.8 483.5L922.2 483.1L922.6 482.3L922.9 482.2L923.3 481.7L923.7 480.9L924.0 479.9L924.3 479.3L924.7 478.8L925.1 478.9L925.5 479.2L925.9 478.8L926.2 477.8L926.5 477.2L926.9 476.8L927.2 476.4L927.5 475.7L927.9 474.8L928.2 474.3L928.5 473.5L928.9 473.1L929.2 472.7L929.4 472.6L929.7 471.7L930.1 470.8L930.4 470.7L930.7 470.4L931.1 469.3L931.6 468.7L932.1 468.1L932.6 468.2L933.1 468.2L933.7 468.3L934.3 467.8L934.9 467.7L935.6 467.7L936.3 467.3L936.9 466.8L937.6 466.8L938.2 466.8L938.9 467.2L939.4 467.9L940.0 468.8L940.4 469.4L940.9 469.7L941.3 470.1L941.7 470.0L942.0 470.2L942.4 470.1L942.8 470.8L943.1 471.7L943.5 472.7L943.9 472.9L944.2 472.9L944.6 473.4L945.0 474.4L945.5 475.7L945.9 476.4L946.3 476.8L946.8 477.2L947.2 477.2L947.7 477.1L948.1 477.6L948.6 478.5L949.1 479.2L949.6 479.5L950.0 479.4L950.5 479.9L951.1 480.3L951.6 481.1L952.1 480.9L952.6 481.5L953.2 481.3L953.7 481.7L954.2 481.0L954.7 480.6L955.2 480.0L955.7 480.2L956.2 480.2L956.7 479.9L957.3 479.4L957.8 479.3L958.4 478.5L958.9 477.6L959.5 477.0L960.0 477.0L960.6 476.2L961.1 475.8L961.6 475.3L962.1 475.3L962.6 474.8L963.1 474.5L963.5 474.2L964.1 474.1L964.6 474.6L965.2 474.8L965.7 475.7L966.2 476.2L966.7 476.4L967.1 476.1L967.6 476.0L968.1 476.2L968.5 477.1L969.0 477.6L969.4 478.0L969.9 478.0L970.4 478.6L971.0 479.5L971.5 480.0L972.1 480.3L972.6 480.1L973.2 480.1L973.7 480.2L974.3 481.0L974.9 481.1L975.4 481.4L976.0 481.7L976.7 482.4L977.3 482.0L977.9 481.6L978.5 481.6L979.1 481.9L979.7 482.1L980.4 482.8L981.0 483.6L981.7 484.2L982.4 484.1L983.0 483.7L983.7 483.7L984.3 483.7L984.9 483.4L985.5 483.1L986.1 483.0L986.7 483.3L987.3 483.2L987.8 483.0L988.4 482.2L988.9 481.9L989.5 482.0L990.0 481.7L990.5 480.8L991.0 480.1L991.5 479.9L992.0 479.9L992.5 479.9L993.0 479.7L993.6 479.3L994.2 478.3L994.8 478.0L995.4 477.9L996.0 477.9L996.6 477.3L997.2 476.8L997.7 476.6L998.3 477.0L998.9 477.1L999.4 477.3L1000.0 477.9L1000.5 478.7L1001.0 479.0L1001.6 478.8L1002.1 478.6L1002.7 478.5L1003.2 478.8L1003.7 479.3L1004.3 480.0L1004.8 480.3L1005.4 480.6L1006.0 480.4L1006.6 480.1L1007.1 479.6L1007.7 479.5L1008.3 479.3L1008.9 478.9L1009.5 479.1L1010.1 479.4L1010.7 478.8L1011.3 478.4L1011.9 477.8L1012.6 477.4L1013.2 476.7L1013.9 477.0L1014.5 476.5L1015.2 476.2L1015.7 475.7L1016.2 475.5L1016.7 475.2L1017.0 475.2" stroke="#5b9bd5" stroke-width="2.7"/><path d="M118.0 456.3L140.0 472.1L153.1 481.9L163.6 485.8L172.7 484.5L176.7 487.1L184.5 484.5L191.1 487.1L196.3 492.4L205.5 493.7L213.3 491.1L225.1 487.8L234.3 488.4L239.5 492.4L246.0 493.7L253.9 491.1L270.9 480.6L273.5 481.9L281.4 479.9L285.3 479.9L290.5 482.5L310.2 472.7L320.0 467.5L321.3 466.7L331.5 462.6L346.7 454.9L356.9 453.9L365.0 454.4L370.2 458.0L382.4 459.0L388.8 457.3L397.6 459.9L407.5 461.7L415.1 463.4L423.9 468.7L432.7 470.4L438.5 469.8L444.4 464.3L453.1 468.7L460.0 473.4L466.5 475.1L473.3 476.6L480.1 474.4L487.4 476.6L494.7 470.0L494.7 470.0L494.9 469.6L495.1 469.1L495.4 468.5L495.7 467.9L496.0 467.2L496.4 466.4L496.7 465.6L497.1 464.8L497.5 464.0L497.9 463.1L498.3 462.2L498.7 461.4L499.2 460.5L499.6 459.6L500.0 458.8L500.4 458.0L500.8 457.2L501.2 456.5L501.6 455.9L502.0 455.3L502.6 454.4L503.2 453.6L503.8 452.9L504.4 452.3L505.0 451.7L505.6 451.1L506.3 450.6L506.9 450.0L507.5 449.5L508.1 449.0L508.7 448.5L509.3 448.0L510.0 447.4L510.6 446.9L511.3 446.5L512.0 446.0L512.6 445.6L513.3 445.1L514.0 444.6L514.6 444.1L515.3 443.6L515.9 442.9L516.6 442.2L517.0 441.7L517.5 441.1L517.9 440.6L518.4 440.0L518.8 439.5L519.2 438.9L519.7 438.3L520.1 437.6L520.6 437.0L521.0 436.3L521.4 435.5L521.9 434.7L522.4 433.9L522.8 433.0L523.3 432.0L523.8 431.0L524.1 430.4L524.3 429.8L524.6 429.2L524.9 428.5L525.2 427.8L525.4 427.1L525.7 426.3L526.0 425.6L526.3 424.8L526.6 424.0L526.9 423.2L527.2 422.4L527.5 421.6L527.8 420.8L528.1 419.9L528.3 419.1L528.6 418.3L528.9 417.4L529.2 416.6L529.5 415.8L529.8 415.0L530.1 414.2L530.4 413.4L530.7 412.6L531.0 411.9L531.3 411.2L531.6 410.5L531.9 409.8L532.2 409.1L532.5 408.5L532.9 407.6L533.4 406.7L533.8 405.9L534.3 405.1L534.7 404.3L535.2 403.5L535.6 402.8L536.0 402.0L536.5 401.3L536.9 400.6L537.4 400.0L537.8 399.3L538.3 398.7L538.7 398.1L539.1 397.4L539.6 396.8L540.0 396.2L540.4 395.7L540.9 395.1L541.3 394.5L541.9 393.7L542.5 392.8L543.1 392.0L543.6 391.2L544.2 390.4L544.7 389.6L545.3 388.9L545.9 388.2L546.4 387.5L547.0 387.0L547.6 386.5L548.2 386.1L548.8 385.9L549.4 385.7L550.1 385.7L550.8 385.9L551.5 386.3L552.3 386.8L553.1 387.4L553.8 388.1L554.6 388.8L555.3 389.5L556.1 390.2L556.8 390.7L557.5 391.2L558.2 391.5L558.9 391.6L559.6 391.5L560.3 391.4L561.0 391.1L561.6 390.8L562.2 390.3L562.8 389.7L563.4 389.1L564.1 388.4L564.7 387.6L565.4 386.7L566.2 385.7L566.6 385.2L567.0 384.7L567.4 384.1L567.8 383.4L568.2 382.8L568.7 382.1L569.1 381.4L569.5 380.6L570.0 379.9L570.4 379.1L570.9 378.4L571.3 377.6L571.8 376.8L572.3 376.0L572.7 375.2L573.2 374.4L573.7 373.7L574.1 372.9L574.6 372.2L575.0 371.5L575.5 370.8L576.0 370.2L576.4 369.6L577.0 368.8L577.5 368.1L578.1 367.3L578.6 366.5L579.2 365.6L579.8 364.9L580.3 364.1L580.9 363.3L581.4 362.6L582.0 361.9L582.6 361.3L583.1 360.7L583.7 360.2L584.3 359.7L584.9 359.3L585.5 359.0L586.1 358.8L586.7 358.7L587.3 358.7L588.0 358.7L588.6 358.9L589.2 359.1L589.9 359.4L590.6 359.7L591.2 360.1L591.9 360.6L592.6 361.1L593.3 361.7L593.9 362.3L594.6 363.0L595.3 363.6L596.0 364.3L596.7 365.1L597.4 365.8L598.1 366.6L598.8 367.4L599.2 367.9L599.7 368.5L600.1 369.2L600.6 369.9L601.0 370.7L601.5 371.5L601.9 372.3L602.4 373.2L602.8 374.1L603.3 375.0L603.8 376.0L604.2 376.9L604.7 377.8L605.1 378.8L605.6 379.7L606.1 380.6L606.5 381.4L607.0 382.2L607.4 383.0L607.9 383.8L608.4 384.4L608.8 385.1L609.3 385.6L609.7 386.1L610.2 386.5L610.6 386.8L611.0 387.1L611.5 387.2L611.9 387.2L612.3 387.1L612.7 387.0L613.1 386.7L613.5 386.4L613.9 386.0L614.2 385.6L614.6 385.0L615.0 384.5L615.4 383.8L615.7 383.2L616.1 382.5L616.5 381.7L616.8 380.9L617.2 380.1L617.6 379.2L617.9 378.3L618.3 377.4L618.7 376.5L619.0 375.6L619.4 374.7L619.8 373.7L620.1 372.8L620.5 371.9L620.9 371.0L621.3 370.1L621.6 369.2L622.0 368.4L622.4 367.5L622.8 366.8L623.2 366.0L623.6 365.3L624.0 364.6L624.4 363.8L624.9 363.0L625.3 362.2L625.7 361.4L626.2 360.6L626.6 359.7L627.1 358.9L627.5 358.0L627.9 357.2L628.4 356.3L628.8 355.5L629.3 354.6L629.7 353.8L630.2 353.0L630.7 352.1L631.1 351.4L631.6 350.6L632.0 349.9L632.5 349.2L632.9 348.5L633.3 347.9L633.8 347.3L634.2 346.8L634.7 346.3L635.1 345.9L635.5 345.5L636.0 345.2L636.4 345.0L636.8 344.8L637.4 344.6L638.0 344.6L638.7 344.6L639.3 344.7L639.9 344.9L640.5 345.2L641.1 345.6L641.7 346.0L642.3 346.6L642.8 347.2L643.4 347.8L644.0 348.6L644.6 349.4L645.1 350.3L645.7 351.2L646.3 352.1L646.8 353.2L647.4 354.2L648.0 355.3L648.5 356.5L648.7 357.0L649.0 357.6L649.2 358.2L649.5 358.8L649.7 359.4L649.9 360.1L650.2 360.8L650.4 361.4L650.6 362.2L650.9 362.9L651.1 363.6L651.3 364.4L651.6 365.2L651.8 366.0L652.0 366.8L652.2 367.6L652.5 368.4L652.7 369.3L652.9 370.1L653.1 371.0L653.4 371.8L653.6 372.7L653.8 373.6L654.0 374.4L654.2 375.3L654.5 376.2L654.7 377.1L654.9 377.9L655.1 378.8L655.3 379.7L655.6 380.5L655.8 381.4L656.0 382.3L656.2 383.1L656.5 383.9L656.7 384.8L656.9 385.6L657.1 386.4L657.3 387.2L657.6 388.0L657.8 388.7L658.0 389.5L658.2 390.2L658.5 390.9L658.7 391.6L659.0 392.5L659.3 393.4L659.6 394.2L659.9 395.1L660.2 396.0L660.5 396.9L660.8 397.7L661.1 398.6L661.3 399.4L661.6 400.3L661.9 401.1L662.2 402.0L662.5 402.8L662.8 403.6L663.1 404.5L663.4 405.3L663.7 406.1L664.0 406.8L664.3 407.6L664.6 408.4L664.9 409.1L665.2 409.9L665.5 410.6L665.8 411.3L666.1 412.0L666.4 412.7L666.7 413.3L667.0 414.0L667.3 414.6L667.5 415.2L667.8 415.8L668.1 416.3L668.4 416.9L668.7 417.4L669.0 417.9L669.7 419.0L670.3 420.0L670.9 420.8L671.5 421.6L672.1 422.3L672.7 423.0L673.3 423.5L673.9 424.0L674.5 424.4L675.1 424.7L675.8 425.0L676.5 425.2L677.3 425.4L678.1 425.6L679.0 425.7L679.6 425.7L680.3 425.7L681.0 425.6L681.8 425.5L682.5 425.3L683.3 425.1L684.1 424.8L684.9 424.5L685.8 424.2L686.6 423.9L687.4 423.5L688.3 423.2L689.1 422.9L690.0 422.5L690.8 422.2L691.7 421.9L692.5 421.7L693.3 421.5L694.0 421.3L694.8 421.1L695.5 421.0L696.2 421.0L697.1 421.0L698.0 421.1L698.9 421.2L699.7 421.4L700.5 421.6L701.3 421.8L702.1 422.1L702.8 422.4L703.6 422.8L704.3 423.1L705.1 423.5L705.8 423.9L706.5 424.3L707.2 424.8L708.0 425.2L708.7 425.7L709.3 426.1L710.0 426.5L710.6 427.0L711.1 427.4L711.7 427.9L712.3 428.3L712.8 428.8L713.4 429.3L714.0 429.8L714.5 430.4L715.1 430.9L715.7 431.5L716.3 432.2L716.9 432.8L717.5 433.6L718.2 434.3L718.9 435.1L719.6 435.9L720.0 436.4L720.4 436.9L720.9 437.4L721.3 438.0L721.8 438.5L722.3 439.1L722.7 439.7L723.2 440.3L723.7 440.9L724.2 441.6L724.7 442.2L725.2 442.8L725.7 443.5L726.2 444.2L726.7 444.8L727.2 445.5L727.7 446.2L728.2 446.9L728.7 447.6L729.3 448.3L729.8 448.9L730.3 449.6L730.8 450.3L731.3 451.0L731.8 451.7L732.3 452.3L732.8 453.0L733.3 453.7L733.8 454.3L734.3 455.0L734.7 455.6L735.2 456.2L735.7 456.9L736.2 457.6L736.7 458.3L737.2 459.0L737.7 459.7L738.2 460.4L738.7 461.1L739.2 461.8L739.7 462.5L740.2 463.2L740.7 463.9L741.2 464.6L741.7 465.3L742.2 466.0L742.6 466.7L743.1 467.4L743.6 468.1L744.1 468.7L744.5 469.4L745.0 470.0L745.5 470.6L746.0 471.2L746.4 471.8L746.9 472.4L747.4 472.9L747.8 473.5L748.3 474.0L748.7 474.4L749.2 474.9L750.0 475.6L750.8 476.3L751.6 476.9L752.4 477.5L753.2 478.0L754.0 478.5L754.8 479.0L755.6 479.4L756.4 479.7L757.1 480.1L757.9 480.4L758.6 480.7L759.3 481.0L759.9 481.2L760.6 481.5L761.1 481.7L761.7 481.9L762.8 482.4L763.5 482.7L763.9 482.8L764.4 482.8L765.4 482.5L767.2 482.1L767.7 482.0L768.3 481.8L768.8 481.6L769.5 481.4L770.1 481.2L770.8 480.9L771.5 480.6L772.2 480.3L772.9 480.0L773.7 479.7L774.5 479.3L775.3 479.0L776.1 478.7L776.9 478.4L777.8 478.0L778.7 477.7L779.5 477.5L780.4 477.2L781.3 476.9L782.2 476.7L783.1 476.5L784.0 476.3L785.0 476.2L785.9 476.1L786.8 476.0L787.7 476.0L788.6 476.0L789.3 476.1L790.0 476.1L790.7 476.3L791.4 476.4L792.1 476.6L792.9 476.8L793.6 477.1L794.3 477.3L795.1 477.6L795.9 477.9L796.6 478.2L797.4 478.5L798.2 478.9L798.9 479.2L799.7 479.6L800.5 480.0L801.3 480.3L802.1 480.7L802.9 481.0L803.7 481.4L804.5 481.7L805.3 482.1L806.1 482.4L806.9 482.7L807.6 483.0L808.4 483.3L809.2 483.6L810.0 483.8L810.8 484.0L811.6 484.2L812.3 484.4L813.1 484.5L813.9 484.6L814.6 484.6L815.4 484.6L816.1 484.6L816.9 484.5L817.6 484.4L818.4 484.3L819.2 484.1L820.0 483.9L820.7 483.6L821.5 483.3L822.3 483.0L823.1 482.7L823.9 482.4L824.7 482.0L825.5 481.6L826.3 481.2L827.0 480.8L827.8 480.3L828.6 479.9L829.4 479.5L830.1 479.0L830.9 478.5L831.6 478.1L832.4 477.6L833.1 477.2L833.8 476.7L834.6 476.3L835.3 475.8L836.0 475.4L836.6 475.0L837.3 474.6L838.0 474.2L838.6 473.8L839.2 473.5L839.9 473.2L840.5 472.9L841.0 472.6L841.6 472.4L842.8 471.9L843.8 471.5L844.9 471.2L845.8 470.9L846.7 470.6L847.5 470.4L848.3 470.2L849.0 470.0L849.8 469.9L850.5 469.8L851.2 469.7L851.9 469.6L852.6 469.5L853.3 469.4L854.0 469.4L854.8 469.3L855.6 469.2L856.5 469.2L857.3 469.2L858.0 469.2L858.8 469.3L859.6 469.3L860.4 469.4L861.2 469.5L861.9 469.6L862.7 469.7L863.6 469.9L864.4 470.0L865.2 470.1L866.1 470.3L867.0 470.4L867.7 470.5L868.4 470.7L869.2 470.8L869.9 471.0L870.6 471.1L871.4 471.3L872.1 471.5L872.9 471.7L873.6 471.9L874.4 472.1L875.2 472.3L876.0 472.4L876.8 472.6L877.7 472.8L878.6 472.9L879.5 473.1L880.4 473.2L881.3 473.3L882.3 473.4L883.0 473.5L883.7 473.5L884.4 473.6L885.2 473.6L885.9 473.7L886.6 473.8L887.4 473.8L888.2 473.9L888.9 474.0L889.7 474.0L890.5 474.1L891.3 474.1L892.2 474.1L893.0 474.2L893.8 474.2L894.7 474.2L895.5 474.2L896.4 474.2L897.2 474.1L898.1 474.1L899.0 474.1L899.9 474.0L900.8 473.9L901.8 473.8L902.7 473.7L903.6 473.6L904.6 473.4L905.3 473.3L906.0 473.1L906.7 473.0L907.5 472.8L908.3 472.6L909.0 472.4L909.8 472.2L910.6 471.9L911.5 471.7L912.3 471.4L913.1 471.2L914.0 470.9L914.8 470.6L915.7 470.4L916.6 470.1L917.4 469.8L918.3 469.5L919.1 469.2L920.0 468.9L920.9 468.6L921.7 468.3L922.6 468.0L923.4 467.7L924.2 467.4L925.0 467.2L925.8 466.9L926.6 466.6L927.4 466.4L928.2 466.1L928.9 465.9L929.7 465.7L930.4 465.4L931.0 465.2L931.7 465.1L932.3 464.9L933.0 464.7L933.5 464.6L934.1 464.5L935.5 464.3L936.7 464.1L937.7 464.0L938.6 463.9L939.4 463.9L940.1 464.0L940.7 464.1L941.4 464.2L942.0 464.4L942.6 464.6L943.3 464.8L944.1 465.0L944.9 465.3L945.9 465.5L946.5 465.7L947.2 465.8L947.9 466.0L948.6 466.2L949.3 466.4L950.0 466.7L950.8 466.9L951.5 467.2L952.3 467.4L953.0 467.7L953.8 468.0L954.6 468.3L955.4 468.5L956.2 468.8L957.0 469.1L957.8 469.4L958.6 469.7L959.4 470.0L960.2 470.3L961.1 470.6L961.9 470.9L962.7 471.1L963.5 471.4L964.2 471.6L965.0 471.9L965.8 472.2L966.5 472.4L967.3 472.7L968.1 473.0L968.9 473.2L969.7 473.5L970.4 473.8L971.2 474.0L972.0 474.3L972.8 474.6L973.6 474.9L974.4 475.1L975.2 475.4L976.0 475.7L976.8 475.9L977.6 476.2L978.4 476.4L979.2 476.7L980.0 476.9L980.8 477.1L981.6 477.4L982.4 477.6L983.2 477.8L984.0 478.0L984.9 478.2L985.7 478.4L986.5 478.6L987.4 478.8L988.2 479.0L989.1 479.1L989.9 479.3L990.8 479.5L991.6 479.6L992.5 479.8L993.3 479.9L994.2 480.1L995.0 480.2L995.8 480.4L996.7 480.5L997.5 480.7L998.3 480.8L999.1 481.0L999.8 481.1L1000.6 481.2L1001.4 481.4L1002.1 481.5L1002.8 481.7L1003.7 481.9L1004.7 482.1L1005.6 482.3L1006.6 482.6L1007.5 482.8L1008.5 483.0L1009.4 483.3L1010.3 483.5L1011.1 483.7L1012.0 483.9L1012.8 484.1L1013.5 484.3L1014.2 484.5L1014.9 484.7L1015.5 484.8L1016.1 485.0L1016.6 485.1L1017.0 485.2" stroke="#ffc000" stroke-width="3.75"/></g>
<g clip-path="url(#c3)"><path d="M118.0 772.9L118.5 774.3L119.1 772.7L119.7 774.1L120.2 772.3L120.8 773.8L121.3 771.6L121.9 773.5L122.4 771.3L123.0 773.3L123.5 770.9L124.1 773.1L124.6 770.8L125.2 772.2L125.8 770.2L126.3 772.6L126.9 770.1L127.4 771.2L128.0 769.7L128.6 772.1L129.1 769.6L129.7 771.9L130.3 769.1L130.8 772.0L131.4 769.2L132.0 772.8L132.5 769.8L133.1 772.5L133.7 770.2L134.2 773.8L134.8 771.0L135.4 774.8L135.9 771.5L136.5 775.6L137.1 771.5L137.7 776.3L138.2 772.1L138.8 776.9L139.4 772.2L140.0 777.4L140.5 772.5L141.1 779.1L141.7 773.4L142.3 779.1L142.8 773.8L143.4 780.8L144.0 774.7L144.6 780.0L145.2 775.5L145.8 783.6L146.3 776.4L146.9 784.5L147.5 776.7L148.1 783.4L148.7 777.3L149.3 785.5L149.9 778.1L150.4 785.5L151.0 779.4L151.6 786.8L152.2 780.3L152.8 788.2L153.4 781.1L154.0 788.3L154.6 781.9L155.2 789.5L155.8 782.9L156.4 787.4L157.0 783.5L157.6 790.3L158.2 784.0L158.8 790.8L159.4 784.6L160.0 788.5L160.6 785.0L161.2 792.5L161.8 785.0L162.4 791.6L163.0 785.0L163.6 792.6L164.2 785.4L164.8 793.2L165.4 785.6L166.0 791.7L166.6 785.9L167.2 793.6L167.8 786.4L168.4 791.3L169.1 786.1L169.7 793.6L170.3 786.2L170.9 791.3L171.5 786.2L172.1 791.5L172.7 785.7L173.4 794.2L174.0 785.6L174.6 791.5L175.2 785.8L175.8 794.9L176.5 785.1L177.1 795.0L177.7 785.0L178.3 794.7L178.9 785.0L179.6 795.4L180.2 784.5L180.8 795.3L181.4 784.6L182.1 794.9L182.7 785.2L183.3 794.3L184.0 785.0L184.6 795.1L185.2 785.3L185.9 796.7L186.5 785.6L187.1 794.1L187.8 785.7L188.4 794.2L189.0 785.8L189.7 797.1L190.3 786.1L190.9 796.3L191.6 786.6L192.2 798.0L192.9 787.2L193.5 798.2L194.1 787.8L194.8 798.5L195.4 788.2L196.1 798.7L196.7 788.7L197.4 798.7L198.0 789.2L198.7 795.9L199.3 790.1L200.0 799.4L200.6 790.4L201.3 799.4L201.9 790.9L202.6 799.8L203.2 791.2L203.9 795.5L204.5 791.1L205.2 799.7L205.9 790.9L206.5 800.4L207.2 791.1L207.9 800.5L208.6 791.5L209.2 800.8L209.9 791.0L210.6 796.6L211.3 791.4L211.9 800.4L212.6 791.1L213.3 800.1L214.0 790.7L214.7 795.2L215.4 790.5L216.1 797.8L216.8 789.7L217.5 798.8L218.2 789.2L218.9 796.4L219.6 789.0L220.3 796.0L221.0 788.4L221.7 798.0L222.4 788.4L223.1 793.0L223.8 788.4L224.6 794.8L225.3 788.3L226.0 795.1L226.7 787.9L227.5 796.3L228.2 787.9L228.9 797.6L229.6 787.6L230.4 798.2L231.1 787.7L231.9 797.1L232.6 788.1L233.3 799.2L234.1 788.3L234.8 794.4L235.6 788.7L236.3 800.8L237.1 788.7L237.8 801.8L238.6 789.1L239.4 802.5L240.1 789.7L240.9 798.3L241.7 790.3L242.4 803.1L243.2 790.6L244.0 800.0L244.7 790.4L245.5 801.1L246.3 791.1L247.1 799.5L247.9 791.2L248.7 801.2L249.4 791.0L250.2 798.7L251.0 790.8L251.8 798.0L252.6 790.6L253.4 799.9L254.2 789.7L255.0 795.1L255.8 789.3L256.6 798.3L257.5 788.4L258.3 797.2L259.1 788.2L259.9 793.8L260.7 787.0L261.6 792.7L262.4 786.4L263.2 792.9L264.0 785.0L264.9 792.4L265.7 783.7L266.5 792.1L267.4 783.1L268.2 789.9L269.1 781.7L269.9 786.3L270.8 780.5L271.6 786.3L272.5 779.7L273.3 789.2L274.2 779.1L275.1 788.8L276.0 778.9L276.9 787.6L277.8 778.8L278.6 787.9L279.6 778.5L280.5 784.3L281.4 778.7L282.3 787.4L283.2 779.2L284.1 784.6L285.1 779.5L286.0 784.6L287.0 780.0L287.9 787.2L288.9 780.4L289.8 787.8L290.8 780.8L291.8 787.4L292.8 780.5L293.7 785.1L294.7 780.6L295.7 785.5L296.7 780.9L297.8 784.6L298.8 780.4L299.8 783.9L300.8 779.2L301.9 781.7L302.9 777.3L303.9 780.5L305.0 775.2L306.1 779.0L307.1 773.2L308.2 776.7L309.3 770.8L310.4 773.8L311.5 768.6L312.6 772.8L313.7 766.4L314.8 770.9L315.9 765.0L317.0 768.5L318.1 763.6L319.3 767.3L320.4 762.2L321.6 763.9L322.8 761.0L323.9 763.0L325.1 761.1L326.3 764.2L327.6 760.5L328.8 762.3L330.1 760.3L331.3 763.9L332.6 759.6L333.9 763.5L335.2 759.2L336.5 763.4L337.9 758.5L339.2 763.3L340.6 757.8L342.0 762.1L343.4 756.3L344.8 764.0L346.3 755.5L347.7 766.7L349.2 755.3L350.7 761.6L352.2 754.8L353.8 762.2L355.3 754.8L355.9 758.0L356.4 764.5L357.0 767.8L357.5 764.6L358.1 758.2L358.6 755.1L359.2 757.5L359.7 762.5L360.3 765.0L360.9 762.4L361.5 757.2L362.0 754.6L362.6 758.2L363.2 765.6L363.8 769.3L364.4 765.8L365.0 758.8L365.6 755.3L366.2 759.0L366.8 766.6L367.4 770.3L368.1 766.8L368.7 759.7L369.3 756.2L370.0 759.9L370.6 767.4L371.2 771.1L371.9 767.8L372.5 761.1L373.2 757.7L373.9 761.3L374.5 768.5L375.2 772.2L375.9 768.8L376.6 762.2L377.3 758.8L378.0 762.2L378.7 768.8L379.4 772.2L380.7 757.4L382.0 773.1L382.7 769.1L383.5 761.1L384.2 757.1L384.9 761.7L385.7 770.8L386.4 775.4L387.0 772.5L387.6 765.6L388.3 758.8L388.9 755.9L389.5 758.8L390.1 765.9L390.8 773.0L391.4 776.0L392.2 771.3L393.0 762.0L393.8 757.3L394.5 762.7L395.3 773.3L396.1 778.7L396.9 773.6L397.7 763.6L398.5 758.6L399.2 763.8L400.0 774.0L400.8 779.2L401.4 776.3L402.0 769.3L402.6 762.4L403.2 759.5L403.9 762.9L404.5 771.1L405.1 779.3L405.7 782.6L406.5 777.1L407.3 766.0L408.0 760.4L408.8 766.3L409.6 778.2L410.4 784.1L411.2 778.5L412.0 767.1L412.8 761.4L413.5 767.8L414.3 780.6L415.1 787.0L415.8 783.6L416.4 775.3L417.1 767.0L417.8 763.6L418.4 767.4L419.1 776.5L419.7 785.7L420.4 789.4L421.2 783.7L422.0 772.3L422.8 766.6L423.5 772.8L424.3 785.2L425.1 791.4L425.8 788.0L426.4 779.7L427.1 771.4L427.7 768.0L428.4 771.3L429.0 779.3L429.7 787.2L430.3 790.5L431.0 787.4L431.6 779.7L432.3 772.1L433.0 768.9L433.6 771.9L434.3 778.9L434.9 785.9L435.6 788.8L436.3 785.8L436.9 778.6L437.6 771.4L438.2 768.4L438.9 771.7L439.6 779.8L440.2 787.8L440.9 791.1L441.6 787.1L442.3 777.3L443.1 767.5L443.8 763.4L444.5 767.8L445.2 778.2L446.0 788.6L446.7 792.9L447.4 788.9L448.0 779.2L448.7 769.4L449.4 765.4L450.0 769.5L450.7 779.3L451.3 789.2L452.0 793.2L452.6 789.6L453.3 780.8L454.0 771.9L454.6 768.3L455.2 772.3L455.9 782.1L456.6 791.8L457.2 795.8L457.9 793.6L458.6 787.6L459.2 780.3L459.9 774.4L460.6 772.1L461.3 774.8L462.0 781.8L462.6 790.5L463.3 797.5L464.0 800.2L464.7 796.4L465.4 787.0L466.2 777.6L466.9 773.7L467.6 777.8L468.4 787.7L469.1 797.6L469.8 801.7L470.5 797.8L471.3 788.4L472.0 778.9L472.8 775.0L473.5 779.7L474.2 790.9L475.0 802.2L475.7 806.8L476.4 803.6L477.0 795.2L477.7 784.9L478.3 776.5L479.0 773.3L479.7 776.6L480.3 785.1L481.0 795.7L481.6 804.3L482.3 807.5L483.0 802.7L483.8 791.0L484.5 779.3L485.2 774.5L485.9 779.8L486.7 792.5L487.4 805.2L488.1 810.4L488.7 807.8L489.3 800.6L489.9 790.8L490.5 781.0L491.1 773.9L491.8 771.2L492.4 774.2L493.0 782.3L493.6 793.4L494.2 804.4L494.8 812.5L495.4 815.5L496.1 810.3L496.7 796.5L497.4 779.5L498.0 765.8L498.7 760.5L499.4 766.6L500.0 782.6L500.7 802.3L501.3 818.2L502.0 824.3L502.7 817.3L503.3 798.8L504.0 776.1L504.6 757.6L505.3 750.6L506.0 758.2L506.6 778.1L507.3 802.7L507.9 822.6L508.6 830.2L509.3 822.0L510.0 800.6L510.7 774.0L511.4 752.6L512.0 744.4L512.7 753.2L513.4 776.3L514.1 804.7L514.8 827.8L515.5 836.6L516.1 827.2L516.8 802.8L517.4 772.5L518.1 748.0L518.7 738.7L519.4 749.2L520.1 776.6L520.9 810.4L521.6 837.8L522.3 848.3L522.9 842.1L523.6 824.9L524.2 800.0L524.8 772.4L525.4 747.5L526.1 730.3L526.7 724.1L527.4 744.6L528.2 793.9L528.9 843.2L529.6 863.7L530.2 855.9L530.9 834.1L531.5 802.6L532.1 767.6L532.7 736.1L533.4 714.3L534.0 706.5L534.6 718.2L535.2 750.0L535.9 793.5L536.5 837.0L537.1 868.8L537.7 880.4L538.4 862.7L539.1 816.3L539.9 759.0L540.6 712.6L541.3 694.8L541.9 707.8L542.5 743.2L543.1 791.6L543.8 840.0L544.4 875.5L545.0 888.4L545.6 874.9L546.2 837.9L546.8 787.3L547.4 736.7L548.0 699.7L548.6 686.2L549.3 696.3L549.9 724.8L550.6 766.0L551.3 811.6L552.0 852.8L552.6 881.3L553.3 891.4L554.0 872.2L554.7 822.0L555.3 759.9L556.0 709.6L556.7 690.5L557.3 700.3L558.0 727.7L558.6 767.4L559.2 811.5L559.8 851.2L560.5 878.6L561.1 888.4L561.7 878.5L562.4 850.6L563.0 810.3L563.6 765.6L564.2 725.4L564.9 697.5L565.5 687.6L566.1 701.3L566.8 738.9L567.5 790.2L568.1 841.5L568.8 879.1L569.4 892.8L570.1 878.2L570.8 838.2L571.5 783.6L572.1 729.1L572.8 689.1L573.5 674.5L574.2 685.8L574.8 717.4L575.5 763.0L576.2 813.7L576.9 859.4L577.5 891.0L578.2 902.3L578.9 886.2L579.6 842.1L580.2 781.8L580.9 721.5L581.6 677.4L582.3 661.3L582.9 668.6L583.5 689.8L584.1 722.3L584.7 762.1L585.3 804.4L585.9 844.2L586.5 876.7L587.1 897.9L587.7 905.2L588.4 881.8L589.0 820.4L589.7 744.6L590.3 683.2L591.0 659.8L591.6 666.5L592.2 686.0L592.9 715.8L593.5 752.4L594.1 791.4L594.7 828.0L595.4 857.8L596.0 877.3L596.6 884.0L597.2 876.0L597.9 853.1L598.5 818.9L599.2 778.5L599.8 738.1L600.4 703.9L601.1 681.0L601.7 673.0L602.3 678.6L602.9 694.7L603.6 719.3L604.2 749.6L604.8 781.8L605.4 812.1L606.1 836.8L606.7 852.9L607.3 858.5L607.9 853.3L608.5 838.3L609.1 815.4L609.7 787.3L610.3 757.4L610.9 729.2L611.5 706.3L612.1 691.4L612.7 686.2L613.4 692.8L614.1 711.6L614.7 739.8L615.4 773.1L616.1 806.3L616.8 834.5L617.4 853.3L618.1 860.0L618.7 854.1L619.3 837.2L619.9 811.4L620.5 779.7L621.2 746.0L621.8 714.3L622.4 688.4L623.0 671.5L623.6 665.7L624.2 674.0L624.9 697.9L625.5 733.5L626.2 775.6L626.9 817.7L627.5 853.3L628.1 877.2L628.8 885.5L629.4 879.7L630.1 862.7L630.8 836.3L631.4 803.0L632.0 766.1L632.7 729.2L633.3 695.9L634.0 669.5L634.6 652.5L635.3 646.7L635.9 656.0L636.6 682.4L637.2 722.0L637.9 768.7L638.5 815.3L639.2 854.9L639.9 881.3L640.5 890.6L641.1 883.5L641.8 863.1L642.4 831.8L643.1 793.5L643.7 752.6L644.4 714.3L645.0 683.0L645.7 662.6L646.3 655.5L646.9 660.6L647.6 675.3L648.2 698.2L648.8 727.1L649.5 759.2L650.1 791.2L650.7 820.1L651.3 843.1L652.0 857.8L652.6 862.9L653.3 856.2L654.0 837.4L654.6 809.2L655.3 776.0L656.0 742.7L656.6 714.5L657.3 695.7L658.0 689.1L658.6 690.9L659.3 696.1L659.9 704.6L660.5 715.8L661.2 729.0L661.8 743.4L662.4 758.3L663.0 772.8L663.7 786.0L664.3 797.2L664.9 805.6L665.6 810.9L666.2 812.7L666.8 811.4L667.5 807.6L668.1 801.4L668.7 793.4L669.4 783.8L670.0 773.3L670.6 762.5L671.2 752.0L671.9 742.5L672.5 734.4L673.1 728.2L673.8 724.4L674.4 723.1L675.0 725.2L675.7 731.3L676.3 740.9L676.9 753.2L677.6 767.2L678.2 781.9L678.9 795.9L679.5 808.2L680.1 817.8L680.8 823.9L681.4 826.0L682.0 824.7L682.6 820.9L683.2 814.7L683.9 806.5L684.5 796.7L685.1 785.7L685.7 774.2L686.3 762.7L686.9 751.7L687.5 741.9L688.2 733.7L688.8 727.5L689.4 723.7L690.0 722.4L690.6 724.8L691.3 731.6L691.9 742.3L692.5 756.1L693.2 771.9L693.8 788.3L694.5 804.0L695.1 817.8L695.7 828.5L696.4 835.4L697.0 837.7L697.6 836.0L698.3 831.2L698.9 823.4L699.5 813.1L700.2 801.0L700.8 787.7L701.4 773.9L702.0 760.6L702.7 748.5L703.3 738.2L703.9 730.4L704.6 725.6L705.2 723.9L705.8 725.3L706.4 729.4L707.0 735.9L707.6 744.6L708.2 755.0L708.8 766.6L709.5 778.9L710.1 791.1L710.7 802.7L711.3 813.1L711.9 821.8L712.5 828.4L713.1 832.4L713.7 833.8L714.3 832.1L715.0 827.3L715.6 819.5L716.2 809.4L716.8 797.7L717.5 785.1L718.1 772.5L718.7 760.7L719.3 750.7L720.0 742.9L720.6 738.1L721.2 736.4L721.8 737.4L722.4 740.2L723.0 744.9L723.6 751.1L724.2 758.6L724.8 767.1L725.4 776.2L726.0 785.4L726.6 794.5L727.2 803.0L727.8 810.5L728.4 816.7L729.0 821.4L729.6 824.2L730.2 825.2L730.9 823.5L731.5 818.7L732.2 811.2L732.8 801.8L733.5 791.3L734.2 780.9L734.8 771.4L735.5 763.9L736.1 759.1L736.8 757.5L737.4 757.8L738.0 758.6L738.7 759.9L739.3 761.7L739.9 764.0L740.5 766.6L741.1 769.6L741.8 772.8L742.4 776.2L743.0 779.7L743.6 783.1L744.2 786.5L744.9 789.7L745.5 792.7L746.1 795.3L746.7 797.6L747.3 799.4L748.0 800.7L748.6 801.6L749.2 801.8L749.9 801.5L750.5 800.5L751.2 798.9L751.8 796.9L752.5 794.5L753.1 791.9L753.8 789.3L754.4 786.9L755.0 784.9L755.7 783.3L756.4 782.3L757.0 782.0L757.2 782.2L757.4 782.6L757.7 783.0L758.1 783.5L758.4 784.0L758.8 784.6L759.2 785.1L759.6 785.7L760.0 786.3L760.4 786.9L760.7 787.5L761.1 788.0L761.4 788.6L761.7 789.2L762.0 789.8L762.3 790.4L762.7 791.0L763.0 791.7L763.3 792.3L763.6 792.9L763.9 793.5L764.2 793.9L764.5 794.2L764.9 794.6L765.2 794.8L765.6 794.6L766.1 794.2L766.6 793.9L767.1 793.5L767.5 792.9L768.0 792.1L768.5 791.5L768.9 790.9L769.4 790.2L769.8 790.0L770.2 790.2L770.6 790.5L770.9 790.8L771.3 791.2L771.6 791.8L771.9 792.5L772.2 793.1L772.6 793.7L772.9 794.7L773.3 795.5L773.6 795.9L773.9 796.2L774.3 796.8L774.6 797.4L775.0 798.0L775.3 798.8L775.7 799.4L776.0 800.1L776.4 800.6L776.7 801.3L777.1 801.8L777.4 802.2L777.9 802.2L778.3 801.9L778.8 801.5L779.2 800.9L779.7 800.4L780.1 799.6L780.6 799.1L781.0 798.2L781.5 797.7L782.0 797.7L782.5 797.9L783.0 797.9L783.5 797.8L784.0 797.9L784.5 797.4L785.0 796.6L785.5 795.0L785.6 794.2L785.8 793.5L785.9 793.1L786.0 792.6L786.2 792.0L786.3 791.7L786.4 791.3L786.6 791.2L786.7 790.8L786.8 790.4L786.9 789.5L787.1 788.5L787.2 787.9L787.3 787.5L787.5 787.1L787.6 786.0L787.7 785.2L787.9 784.6L788.0 784.0L788.1 783.4L788.3 782.7L788.4 781.7L788.5 780.7L788.7 779.8L788.8 778.9L788.9 778.5L789.1 778.7L789.2 778.9L789.3 778.6L789.5 778.0L789.6 776.9L790.3 775.2L791.0 775.1L791.7 775.7L792.3 776.0L793.0 776.2L793.7 776.5L793.9 776.5L794.1 776.6L794.3 777.6L794.6 778.7L794.8 779.2L795.0 779.2L795.2 779.4L795.4 779.9L795.6 780.9L795.8 782.2L796.0 783.1L796.3 783.4L796.5 784.0L796.7 785.2L796.9 786.1L797.1 786.1L797.3 785.9L797.6 786.2L797.8 787.6L798.0 788.8L798.2 790.0L798.5 790.0L798.7 790.3L798.9 790.9L799.2 792.3L799.4 793.2L799.7 793.2L799.9 793.8L800.1 794.6L800.4 795.7L800.6 795.9L800.9 796.7L801.1 797.4L801.3 798.5L801.5 798.6L801.8 798.8L802.0 798.7L802.2 798.7L802.4 798.6L802.7 799.4L802.9 799.2L803.1 799.1L803.3 798.8L803.5 799.0L803.7 797.9L803.9 796.5L804.1 795.1L804.4 794.7L804.7 794.8L805.0 794.5L805.4 793.4L805.9 792.1L806.2 791.8L806.6 791.9L807.1 791.3L807.5 790.1L808.0 789.7L808.5 790.1L809.1 789.7L809.6 788.6L810.2 787.8L810.7 787.6L811.3 787.0L811.9 786.8L812.4 786.6L813.0 786.7L813.5 785.8L814.0 785.7L814.5 785.6L815.0 785.3L815.4 784.9L815.8 784.8L816.1 785.0L817.1 783.6L817.8 782.6L818.2 782.6L818.6 783.6L819.2 785.0L819.4 784.9L819.6 785.8L819.8 786.5L820.0 787.4L820.2 787.2L820.4 787.5L820.6 787.6L820.8 788.7L821.1 789.6L821.3 790.1L821.5 789.9L821.8 790.7L822.0 791.5L822.2 792.1L822.5 792.7L822.7 793.8L822.9 794.9L823.1 795.7L823.4 796.2L823.6 796.7L823.8 797.0L824.0 797.3L824.2 797.9L824.5 798.8L824.8 799.3L825.1 799.6L825.4 800.6L825.6 801.2L825.9 801.6L826.2 802.3L826.4 803.2L826.7 804.2L827.0 805.2L827.2 806.0L827.5 806.4L827.8 806.3L828.0 806.0L828.3 805.8L828.6 805.8L828.9 806.0L829.2 805.4L829.6 804.7L829.9 804.3L830.2 803.9L830.5 803.1L830.8 802.5L831.1 801.9L831.5 800.8L831.8 799.9L832.1 799.7L832.4 799.6L832.8 798.5L833.3 798.0L833.7 797.4L834.1 797.3L834.5 797.5L835.0 797.4L835.5 796.7L836.0 796.2L836.5 796.0L836.6 795.8L836.8 795.1L836.9 794.4L837.1 793.9L837.2 793.5L837.4 792.6L837.5 792.2L837.7 791.1L837.8 790.9L838.0 790.4L838.2 790.0L838.3 789.1L838.5 788.3L838.7 787.9L838.8 786.8L839.0 786.0L839.2 785.4L839.3 785.6L839.5 784.6L839.7 783.2L839.9 782.5L840.0 782.1L840.2 781.1L840.4 780.1L840.6 779.7L840.7 779.6L840.9 778.9L841.1 778.2L841.2 777.4L841.4 776.7L841.6 776.4L841.8 776.3L841.9 776.2L842.1 775.8L842.3 775.0L842.4 774.6L842.6 774.4L843.2 773.6L843.9 772.5L844.5 771.4L845.1 771.2L845.8 770.9L846.4 771.2L847.0 770.9L847.6 770.9L848.2 771.2L848.7 772.0L849.1 772.8L849.4 773.3L849.7 774.2L850.0 774.2L850.3 774.4L850.6 774.7L850.9 775.8L851.2 776.4L851.4 777.0L851.7 777.9L852.0 778.5L852.2 779.0L852.5 779.5L852.8 779.8L853.1 780.1L853.3 780.3L853.6 780.8L853.8 781.0L854.1 781.7L854.4 782.4L854.6 783.5L854.9 784.4L855.1 785.6L855.4 786.2L855.7 786.9L855.9 787.1L856.2 787.7L856.5 787.9L856.8 788.4L857.3 788.6L857.9 789.4L858.5 790.2L859.0 790.5L859.6 790.3L860.2 790.8L860.8 791.0L861.4 790.5L861.9 790.2L862.3 790.1L862.6 790.0L862.9 789.7L863.2 789.8L863.5 789.2L863.8 788.9L864.1 788.1L864.4 787.3L864.8 785.9L865.2 785.2L865.6 784.4L866.0 784.4L866.3 784.5L866.5 783.8L866.8 782.2L867.1 780.9L867.4 780.4L867.7 780.4L868.0 780.3L868.4 779.9L868.7 779.1L869.0 778.0L869.4 777.1L869.7 777.0L870.1 777.2L870.4 776.7L870.7 775.4L871.1 774.8L871.4 774.3L871.7 774.0L872.0 773.0L872.3 772.4L872.6 771.8L872.8 771.6L873.1 771.1L873.8 770.7L874.5 770.4L875.1 770.9L875.6 771.3L876.1 772.2L876.6 772.5L877.2 772.6L877.5 773.0L877.9 773.7L878.3 773.9L878.6 774.5L879.0 775.0L879.4 776.0L879.7 776.3L880.1 777.0L880.4 777.7L880.7 778.5L881.0 779.1L881.3 779.1L881.9 780.3L882.4 781.0L882.8 781.4L883.3 780.8L883.7 780.1L884.2 779.7L884.8 779.4L885.3 778.9L885.8 778.4L886.4 778.6L886.7 779.0L886.9 779.9L887.1 780.7L887.4 781.6L887.6 782.1L887.8 782.6L888.1 783.5L888.4 784.2L888.7 784.9L889.1 785.6L889.5 786.5L889.9 786.4L890.3 785.6L890.6 785.2L891.0 785.1L891.5 785.0L891.9 784.4L892.4 783.7L892.9 782.9L893.4 782.2L893.9 781.5L894.4 781.4L894.9 781.6L895.4 781.1L895.9 779.8L896.4 779.1L896.9 779.1L897.4 778.9L897.8 778.1L898.4 777.3L898.9 777.1L899.4 777.2L899.9 777.2L900.4 777.1L900.9 776.4L901.4 775.6L901.9 774.9L902.4 774.7L902.9 774.4L903.4 774.7L904.0 775.0L904.6 774.9L904.9 774.7L905.3 775.4L905.7 776.5L906.1 776.7L906.5 776.2L906.9 776.5L907.3 777.5L907.7 778.7L908.1 778.9L908.5 778.9L909.0 779.5L909.4 780.0L909.8 780.7L910.2 781.3L910.6 781.8L911.0 782.3L911.4 782.9L911.8 783.4L912.2 783.2L912.5 784.1L912.9 784.7L913.2 785.4L913.5 785.8L914.3 786.3L915.0 786.1L915.6 786.4L916.1 786.9L916.7 787.0L917.2 786.6L917.8 786.2L918.4 785.2L918.7 785.2L919.1 785.3L919.5 785.2L919.9 784.2L920.2 783.2L920.6 782.8L921.0 782.1L921.4 781.6L921.8 780.9L922.2 780.4L922.6 779.7L922.9 779.6L923.3 779.1L923.7 778.3L924.0 777.2L924.3 776.6L924.7 776.1L925.1 776.3L925.5 776.6L925.9 776.1L926.2 775.1L926.5 774.6L926.9 774.2L927.2 773.7L927.5 773.0L927.9 772.1L928.2 771.7L928.5 770.9L928.9 770.5L929.2 770.1L929.4 769.9L929.7 769.0L930.1 768.2L930.4 768.0L930.7 767.8L931.1 766.7L931.6 766.1L932.1 765.5L932.6 765.6L933.1 765.6L933.7 765.6L934.3 765.2L934.9 765.0L935.6 765.1L936.3 764.7L936.9 764.2L937.6 764.2L938.2 764.2L938.9 764.5L939.4 765.3L940.0 766.1L940.4 766.8L940.9 767.0L941.3 767.5L941.7 767.4L942.0 767.6L942.4 767.5L942.8 768.1L943.1 769.0L943.5 770.0L943.9 770.3L944.2 770.3L944.6 770.7L945.0 771.8L945.5 773.0L945.9 773.8L946.3 774.2L946.8 774.5L947.2 774.5L947.7 774.4L948.1 774.9L948.6 775.9L949.1 776.6L949.6 776.8L950.0 776.7L950.5 777.3L951.1 777.7L951.6 778.5L952.1 778.2L952.6 778.8L953.2 778.7L953.7 779.1L954.2 778.3L954.7 778.0L955.2 777.4L955.7 777.6L956.2 777.5L956.7 777.3L957.3 776.8L957.8 776.6L958.4 775.9L958.9 775.0L959.5 774.3L960.0 774.3L960.6 773.6L961.1 773.2L961.6 772.7L962.1 772.6L962.6 772.2L963.1 771.8L963.5 771.6L964.1 771.5L964.6 771.9L965.2 772.1L965.7 773.1L966.2 773.5L966.7 773.7L967.1 773.4L967.6 773.4L968.1 773.6L968.5 774.4L969.0 774.9L969.4 775.3L969.9 775.4L970.4 776.0L971.0 776.8L971.5 777.4L972.1 777.7L972.6 777.4L973.2 777.5L973.7 777.6L974.3 778.3L974.9 778.4L975.4 778.8L976.0 779.1L976.7 779.7L977.3 779.3L977.9 779.0L978.5 778.9L979.1 779.3L979.7 779.4L980.4 780.2L981.0 781.0L981.7 781.6L982.4 781.5L983.0 781.1L983.7 781.1L984.3 781.1L984.9 780.8L985.5 780.5L986.1 780.3L986.7 780.6L987.3 780.6L987.8 780.3L988.4 779.6L988.9 779.3L989.5 779.3L990.0 779.0L990.5 778.2L991.0 777.4L991.5 777.2L992.0 777.2L992.5 777.2L993.0 777.0L993.6 776.6L994.2 775.7L994.8 775.3L995.4 775.2L996.0 775.3L996.6 774.6L997.2 774.2L997.7 773.9L998.3 774.4L998.9 774.5L999.4 774.7L1000.0 775.3L1000.5 776.0L1001.0 776.3L1001.6 776.2L1002.1 775.9L1002.7 775.9L1003.2 776.2L1003.7 776.7L1004.3 777.4L1004.8 777.7L1005.4 777.9L1006.0 777.8L1006.6 777.4L1007.1 777.0L1007.7 776.8L1008.3 776.7L1008.9 776.3L1009.5 776.5L1010.1 776.7L1010.7 776.2L1011.3 775.8L1011.9 775.2L1012.6 774.8L1013.2 774.0L1013.9 774.4L1014.5 773.9L1015.2 773.5L1015.7 773.0L1016.2 772.9L1016.7 772.6L1017.0 772.5" stroke="#5b9bd5" stroke-width="2.7"/><path d="M117.0 770.6L117.3 770.6L117.7 771.1L118.1 771.4L118.5 771.0L119.1 770.3L119.6 770.5L120.2 771.1L120.8 770.4L121.4 769.9L122.0 770.5L122.6 770.5L123.2 769.6L123.7 769.6L124.3 770.2L124.8 769.9L125.2 769.2L125.8 769.0L126.2 769.4L126.7 769.2L127.1 768.4L127.4 767.7L127.8 767.5L128.2 767.8L128.6 767.9L129.1 767.3L129.7 766.6L130.3 767.1L130.7 767.5L131.1 767.2L131.6 766.6L132.0 766.6L132.5 767.3L133.0 767.5L133.5 766.9L134.0 766.7L134.5 767.5L135.1 767.8L135.6 767.2L136.2 767.2L136.7 768.0L137.3 768.2L137.8 767.6L138.4 767.9L138.9 768.8L139.5 768.8L140.0 768.3L140.5 768.7L140.9 769.5L141.3 769.9L141.7 769.7L142.1 769.5L142.5 769.8L142.9 770.7L143.3 771.3L143.7 771.3L144.1 771.1L144.5 771.3L144.9 772.2L145.3 772.9L145.8 773.1L146.2 772.9L146.6 773.0L147.0 773.8L147.4 774.6L147.8 774.9L148.2 774.7L148.6 774.7L149.0 775.3L149.4 776.2L149.8 776.6L150.2 776.4L150.6 776.2L151.0 776.8L151.5 777.6L151.9 778.0L152.4 777.7L152.8 777.6L153.3 778.3L153.7 779.1L154.1 779.2L154.6 778.9L155.0 779.0L155.5 779.8L155.9 780.4L156.4 780.3L156.8 780.0L157.2 780.3L157.7 781.2L158.1 781.6L158.6 781.3L159.0 781.0L159.5 781.5L159.9 782.3L160.4 782.5L160.8 782.1L161.3 782.0L161.8 782.8L162.2 783.4L162.7 783.1L163.2 782.7L163.6 783.1L164.1 783.9L164.6 784.1L165.0 783.6L165.5 783.5L165.9 784.2L166.4 784.7L166.9 784.4L167.4 783.9L167.9 784.3L168.4 785.0L168.9 784.9L169.4 784.3L169.9 784.5L170.4 785.2L171.0 785.0L171.5 784.4L171.9 784.4L172.4 785.0L172.9 785.1L173.4 784.4L173.9 784.0L174.4 784.5L174.9 784.8L175.4 784.1L175.9 783.5L176.4 783.9L176.9 784.3L177.5 783.6L178.0 783.0L178.5 783.4L179.1 783.8L179.6 783.1L180.1 782.5L180.6 783.0L181.2 783.4L181.7 782.8L182.2 782.3L182.7 782.7L183.2 783.2L183.7 782.8L184.2 782.3L184.7 782.7L185.2 783.4L185.7 783.3L186.2 782.8L186.7 783.1L187.2 783.9L187.7 784.1L188.2 783.6L188.7 783.7L189.2 784.6L189.7 785.0L190.2 784.6L190.7 784.6L191.2 785.4L191.6 786.1L192.1 785.9L192.6 785.6L193.1 786.1L193.5 786.9L194.0 787.1L194.4 786.7L194.8 786.7L195.3 787.4L195.7 788.0L196.1 788.1L196.5 787.7L197.1 787.8L197.7 788.8L198.2 788.9L198.7 788.5L199.2 788.7L199.7 789.5L200.1 790.0L200.6 789.7L201.0 789.4L201.4 789.8L201.9 790.6L202.4 790.6L202.9 790.0L203.4 790.0L204.0 790.8L204.6 790.6L205.0 790.0L205.4 789.9L205.9 790.4L206.3 790.7L206.8 790.1L207.3 789.4L207.8 789.6L208.3 790.1L208.8 789.7L209.3 788.9L209.8 788.9L210.3 789.4L210.8 789.1L211.3 788.2L211.9 788.1L212.4 788.6L212.9 788.4L213.4 787.5L213.9 787.3L214.4 787.8L214.9 787.8L215.4 787.0L215.9 786.6L216.3 787.0L216.8 787.3L217.4 786.6L217.9 786.0L218.4 786.4L219.0 786.7L219.5 786.0L220.0 785.4L220.5 785.8L221.0 786.1L221.5 785.5L222.0 784.8L222.5 785.1L223.0 785.6L223.5 785.2L224.0 784.5L224.5 784.5L225.0 785.2L225.5 785.1L226.0 784.4L226.5 784.4L227.0 785.1L227.5 785.3L228.0 784.8L228.5 784.6L228.9 785.3L229.4 785.9L229.9 785.7L230.4 785.3L230.9 785.9L231.4 786.7L231.9 786.8L232.3 786.4L232.8 786.7L233.3 787.6L233.8 788.0L234.3 787.6L234.8 787.5L235.3 788.3L235.7 788.9L236.2 788.6L236.7 788.3L237.2 788.8L237.7 789.5L238.3 789.3L238.8 788.7L239.4 789.3L239.9 789.9L240.5 789.4L241.1 789.0L241.6 789.8L242.2 790.0L242.8 789.3L243.3 789.3L243.9 790.1L244.4 790.1L244.9 789.4L245.4 789.4L245.8 790.0L246.3 790.3L246.7 789.9L247.1 789.5L247.4 789.4L248.3 790.6L248.6 790.7L248.8 790.6L249.1 790.1L250.0 790.2L250.3 790.4L250.6 790.2L251.0 789.6L251.3 789.0L251.7 788.8L252.1 789.1L252.5 789.2L253.0 788.5L253.4 787.7L253.9 787.6L254.4 787.9L254.9 787.6L255.4 786.7L255.9 786.2L256.4 786.6L256.9 786.5L257.3 785.6L257.8 784.9L258.3 785.2L258.8 785.3L259.3 784.6L259.7 783.8L260.2 783.7L260.6 784.1L261.1 783.9L261.5 783.1L262.0 782.4L262.4 782.5L262.9 782.8L263.3 782.4L263.8 781.5L264.2 781.1L264.6 781.3L265.1 781.5L265.5 780.9L266.0 780.1L266.4 779.9L266.9 780.2L267.3 780.2L267.7 779.5L268.2 778.8L268.6 778.9L269.1 779.3L269.5 779.1L270.0 778.4L270.4 777.9L270.9 778.3L271.4 778.6L271.9 778.0L272.4 777.4L272.9 777.7L273.4 778.2L273.9 777.8L274.4 777.1L274.9 777.3L275.4 777.9L276.0 777.7L276.5 777.0L277.0 777.1L277.5 777.7L278.0 777.7L278.5 777.1L279.0 777.0L279.5 777.6L280.0 777.8L280.5 777.2L281.0 777.0L281.5 777.7L282.1 778.0L282.6 777.4L283.1 777.2L283.7 778.0L284.2 778.2L284.8 777.6L285.3 777.6L285.8 778.5L286.4 778.6L286.9 778.0L287.4 778.1L287.9 778.8L288.4 779.0L288.9 778.4L289.4 778.3L289.8 778.9L290.3 779.4L290.7 779.1L291.3 778.5L291.9 779.0L292.4 779.6L292.9 779.3L293.3 778.8L293.7 778.9L294.2 779.5L294.6 779.7L295.1 779.1L295.6 778.5L296.2 778.8L296.8 778.8L297.1 778.3L297.4 777.6L297.8 777.3L298.1 777.4L298.5 777.6L298.8 777.5L299.2 776.8L299.6 776.0L299.9 775.6L300.3 775.8L300.7 775.9L301.1 775.3L301.5 774.4L301.9 773.8L302.3 773.8L302.7 774.0L303.2 773.5L303.6 772.6L304.0 771.9L304.4 771.9L304.9 772.0L305.3 771.6L305.7 770.6L306.1 769.9L306.6 770.0L307.0 770.2L307.4 769.8L307.7 769.0L308.1 768.3L308.5 768.1L308.9 768.3L309.2 768.2L309.6 767.5L310.0 766.6L310.4 766.1L310.8 766.2L311.2 766.3L311.6 765.9L312.0 765.0L312.4 764.3L312.8 764.2L313.2 764.4L313.6 764.1L314.0 763.3L314.4 762.5L314.8 762.3L315.2 762.5L315.6 762.4L316.0 761.7L316.4 760.9L316.8 760.6L317.2 760.9L317.6 760.9L318.0 760.4L318.4 759.6L318.8 759.3L319.2 759.5L319.7 759.8L320.2 759.1L320.7 758.4L321.2 758.5L321.7 759.0L322.2 758.6L322.7 757.9L323.2 757.9L323.7 758.5L324.2 758.3L324.7 757.6L325.2 757.5L325.7 758.2L326.2 758.2L326.7 757.5L327.2 757.3L327.7 757.8L328.2 758.1L328.7 757.5L329.2 757.0L329.7 757.3L330.1 757.8L330.6 757.5L331.0 756.7L331.5 756.6L332.0 757.2L332.5 757.1L333.1 756.2L333.6 755.9L334.1 756.3L334.5 756.4L335.0 755.6L335.5 755.0L336.0 755.2L336.4 755.5L336.9 755.0L337.4 754.2L337.8 754.0L338.3 754.5L338.8 754.4L339.2 753.6L339.7 753.1L340.2 753.3L340.6 753.7L341.1 753.2L341.6 752.5L342.1 752.5L342.6 753.0L343.1 752.8L343.6 752.0L344.1 751.9L344.7 752.4L345.2 752.3L345.7 751.5L346.2 751.3L346.7 751.9L347.2 752.0L347.7 751.2L348.2 750.9L348.7 751.5L349.2 751.7L349.8 751.0L350.3 750.6L350.8 751.1L351.3 751.4L351.8 750.8L352.3 750.4L352.8 750.9L353.4 751.3L353.9 750.6L354.5 750.3L355.0 750.9L355.6 751.2L356.1 750.5L356.7 750.3L357.2 751.0L357.8 751.1L358.3 750.4L358.8 750.4L359.3 751.1L359.8 751.2L360.3 750.6L360.7 750.3L361.2 750.8L361.6 751.3L362.0 751.2L362.7 750.5L363.3 751.0L363.7 751.6L364.2 751.4L364.5 751.0L364.9 750.9L365.4 751.4L365.8 752.1L366.4 751.8L367.1 751.4L367.5 752.0L367.9 752.5L368.4 752.4L368.9 751.8L369.4 752.0L369.9 752.8L370.4 752.9L370.9 752.3L371.5 752.4L372.0 753.3L372.6 753.2L373.2 752.6L373.7 753.0L374.3 753.8L374.8 753.4L375.3 753.0L375.9 753.5L376.4 754.2L376.8 754.0L377.3 753.5L377.9 753.9L378.4 754.6L379.0 754.4L379.5 754.0L380.0 754.4L380.4 755.1L380.9 755.2L381.4 754.7L381.9 754.7L382.3 755.4L382.8 755.8L383.3 755.3L383.9 755.1L384.4 755.9L385.0 756.2L385.5 755.7L385.9 755.4L386.4 756.0L386.9 756.6L387.4 756.2L387.9 755.7L388.4 756.0L388.9 756.7L389.4 756.5L389.9 755.9L390.5 756.2L391.0 756.9L391.5 756.7L392.1 756.1L392.6 756.4L393.1 757.1L393.6 756.8L394.2 756.2L394.7 756.6L395.2 757.3L395.7 757.1L396.2 756.4L396.7 756.7L397.2 757.4L397.8 757.3L398.3 756.6L398.8 756.7L399.3 757.5L399.8 757.5L400.3 756.8L400.8 756.8L401.3 757.5L401.8 757.7L402.3 757.0L402.9 756.9L403.4 757.7L403.9 758.0L404.4 757.4L404.9 757.2L405.4 757.9L405.9 758.4L406.4 758.0L406.8 757.7L407.3 758.2L407.8 758.9L408.3 758.9L408.8 758.4L409.3 758.6L409.7 759.5L410.2 759.7L410.7 759.3L411.2 759.2L411.6 759.9L412.1 760.6L412.6 760.3L413.1 760.0L413.6 760.5L414.1 761.3L414.5 761.3L415.0 760.9L415.5 761.0L416.0 761.8L416.5 762.2L417.0 761.8L417.4 761.7L417.9 762.4L418.4 763.1L418.9 762.9L419.4 762.6L419.9 763.1L420.4 763.9L420.8 764.0L421.3 763.6L421.8 763.8L422.3 764.6L422.8 765.0L423.3 764.6L423.8 764.4L424.2 765.1L424.7 765.7L425.2 765.4L425.7 765.0L426.2 765.5L426.7 766.2L427.3 766.0L427.8 765.5L428.3 766.0L428.9 766.7L429.4 766.4L429.9 765.9L430.5 766.4L431.0 767.1L431.5 766.7L432.0 766.2L432.6 766.7L433.1 767.2L433.6 766.9L434.1 766.3L434.5 766.5L435.0 767.1L435.5 767.0L435.9 766.3L436.4 765.9L436.9 766.3L437.4 766.4L437.8 765.6L438.3 764.8L438.7 764.7L439.1 764.9L439.6 764.6L440.0 763.8L440.4 762.9L440.8 762.7L441.2 762.9L441.5 762.8L441.9 762.3L442.3 761.5L442.6 761.1L443.0 761.3L443.6 761.7L444.1 761.1L444.6 760.5L445.0 760.7L445.5 761.4L445.9 761.5L446.4 761.0L446.9 760.9L447.5 761.9L448.1 762.2L448.5 761.9L448.8 761.8L449.2 762.2L449.6 763.0L450.0 763.5L450.4 763.4L450.8 763.2L451.2 763.6L451.7 764.5L452.1 765.1L452.5 764.9L453.0 764.8L453.5 765.4L453.9 766.3L454.4 766.6L454.9 766.3L455.3 766.5L455.8 767.4L456.3 768.0L456.7 767.8L457.2 767.5L457.6 768.0L458.1 768.9L458.6 769.1L459.1 768.7L459.6 768.8L460.1 769.8L460.6 770.2L461.1 769.8L461.6 769.8L462.1 770.6L462.6 771.2L463.1 770.9L463.6 770.7L464.0 771.3L464.5 772.1L464.9 772.1L465.4 771.8L465.8 771.8L466.1 772.3L466.5 773.0L467.2 773.1L467.7 772.8L468.3 773.6L468.7 774.4L469.2 774.5L469.6 774.2L470.0 774.3L470.4 774.9L470.7 775.5L471.2 775.5L471.6 774.9L472.0 774.5L472.5 774.7L472.9 775.0L473.3 774.5L473.8 773.5L474.2 773.0L474.6 773.1L475.1 773.1L475.5 772.6L475.9 771.7L476.2 771.3L476.6 771.5L477.1 772.0L477.5 772.0L477.9 771.7L478.2 771.7L478.7 772.3L479.2 773.2L480.0 772.5L480.4 772.2L480.7 772.4L481.2 773.0L481.6 773.0L482.1 772.4L482.6 772.1L483.1 772.7L483.6 772.9L484.2 772.2L484.7 771.8L485.2 772.4L485.8 772.5L486.3 771.7L486.8 771.3L487.4 771.7L487.9 771.6L488.3 770.7L488.8 770.0L489.1 769.9L489.4 770.1L489.7 770.1L490.0 769.7L490.3 769.0L490.6 768.2L490.8 767.6L491.1 767.3L491.4 767.2L491.7 767.1L492.0 766.8L492.2 766.1L492.5 765.2L492.8 764.4L493.0 763.8L493.3 763.6L493.6 763.4L493.8 763.3L494.1 762.8L494.4 762.1L494.6 761.3L494.9 760.5L495.1 760.0L495.4 759.7L495.6 759.6L495.9 759.5L496.1 759.3L496.4 758.7L496.7 757.8L497.0 757.0L497.3 756.4L497.5 756.2L497.8 756.1L498.0 756.0L498.3 755.7L498.5 755.0L498.8 754.3L499.0 753.5L499.3 753.0L499.5 752.8L499.8 752.7L500.1 752.7L500.3 752.4L500.6 751.8L500.9 751.0L501.2 750.3L501.6 750.0L501.9 750.0L502.2 750.1L502.6 749.7L503.0 748.9L503.3 748.1L503.7 747.8L504.1 748.0L504.5 748.0L504.9 747.3L505.4 746.4L505.8 746.1L506.2 746.3L506.6 746.3L507.1 745.6L507.5 744.8L507.9 744.5L508.3 744.7L508.7 744.7L509.2 744.1L509.6 743.2L509.9 742.9L510.3 743.0L510.7 743.2L511.1 742.7L511.6 741.8L512.0 741.4L512.4 741.6L512.8 741.9L513.2 741.6L513.6 740.9L514.0 740.4L514.4 740.5L514.7 740.8L515.1 740.7L515.5 740.0L515.9 739.2L516.3 738.9L516.7 739.0L517.1 738.7L517.6 737.8L518.0 736.5L518.2 736.1L518.3 735.8L518.5 735.7L518.7 735.6L518.9 735.5L519.0 735.3L519.2 735.0L519.4 734.6L519.5 734.0L519.7 733.3L519.9 732.6L520.1 732.0L520.2 731.5L520.4 731.1L520.6 730.8L520.8 730.6L521.0 730.4L521.1 730.1L521.3 729.7L521.5 729.1L521.7 728.4L521.9 727.7L522.0 726.9L522.2 726.2L522.4 725.6L522.6 725.2L522.8 724.9L523.0 724.7L523.2 724.4L523.3 724.0L523.5 723.5L523.7 722.8L523.9 722.0L524.1 721.2L524.3 720.5L524.5 719.9L524.7 719.5L524.9 719.2L525.1 719.0L525.3 718.7L525.5 718.3L525.7 717.7L525.9 717.0L526.2 716.2L526.4 715.4L526.6 714.9L526.8 714.5L527.0 714.3L527.2 714.2L527.4 714.0L527.7 713.6L527.9 713.0L528.1 712.2L528.3 711.4L528.6 710.7L528.8 710.2L529.0 709.9L529.3 709.8L529.5 709.6L529.7 709.2L530.0 708.6L530.2 707.8L530.5 706.9L530.7 706.2L530.9 705.8L531.2 705.6L531.4 705.4L531.7 705.2L531.9 704.7L532.2 704.0L532.4 703.2L532.7 702.4L532.9 701.8L533.2 701.5L533.4 701.4L533.7 701.3L533.9 700.9L534.2 700.3L534.4 699.5L534.7 698.7L534.9 698.1L535.2 697.8L535.4 697.6L535.7 697.6L535.9 697.4L536.2 697.0L536.4 696.3L536.6 695.6L536.9 694.9L537.1 694.5L537.4 694.3L537.6 694.3L537.8 694.2L538.0 694.1L538.3 693.8L538.5 693.2L538.9 692.0L539.4 691.5L539.8 691.6L540.3 691.4L540.7 690.4L541.2 689.5L541.7 689.3L542.1 689.5L542.6 689.1L543.0 688.2L543.4 687.6L543.9 687.7L544.3 688.0L544.8 687.5L545.2 686.7L545.6 686.3L546.0 686.5L546.4 686.8L546.8 686.6L547.1 686.0L547.5 685.5L547.8 685.5L548.2 685.9L548.5 686.2L548.8 686.1L549.3 685.5L549.7 685.4L550.1 686.1L550.5 687.0L550.8 687.6L551.1 687.9L551.4 688.1L551.6 688.5L551.9 689.1L552.1 689.8L552.4 690.7L552.6 691.4L552.9 691.8L553.2 691.7L553.6 691.1L554.1 690.9L554.5 691.2L555.0 691.0L555.4 690.1L555.8 689.1L556.3 688.8L556.7 689.0L557.1 689.1L557.5 688.7L557.8 688.5L558.1 688.7L558.4 689.4L558.7 690.4L559.0 691.4L559.2 692.1L559.5 692.5L559.8 692.7L560.1 693.0L560.4 693.5L560.6 694.2L560.9 694.8L561.2 694.9L561.4 694.7L561.5 694.3L561.7 693.7L561.9 693.1L562.1 692.4L562.2 691.8L562.4 691.2L562.6 690.8L562.8 690.4L562.9 690.0L563.1 689.5L563.3 689.0L563.4 688.3L563.6 687.5L563.8 686.7L564.0 685.9L564.2 685.2L564.3 684.6L564.5 684.3L564.7 684.2L564.9 684.2L565.3 684.5L565.7 684.6L566.1 684.5L566.5 684.8L566.9 685.9L567.3 687.1L567.8 687.6L568.2 687.3L568.7 687.1L569.2 687.2L569.4 687.2L569.5 687.1L569.7 686.9L569.8 686.5L570.0 686.0L570.1 685.4L570.3 684.7L570.4 684.1L570.6 683.6L570.8 683.1L570.9 682.8L571.1 682.5L571.3 682.2L571.4 681.9L571.6 681.5L571.8 681.0L572.0 680.3L572.1 679.6L572.3 678.7L572.5 677.9L572.7 677.2L572.8 676.6L573.0 676.2L573.2 675.9L573.4 675.6L573.6 675.3L573.8 674.8L574.0 674.3L574.1 673.6L574.3 672.8L574.5 672.1L574.7 671.4L574.9 670.9L575.1 670.6L575.3 670.4L575.6 670.2L575.9 669.9L576.1 669.3L576.4 668.4L576.7 667.4L577.0 666.7L577.2 666.3L577.5 666.1L577.8 665.9L578.1 665.5L578.4 664.7L578.7 663.7L579.0 662.9L579.3 662.5L579.6 662.4L579.8 662.4L580.1 662.1L580.4 661.6L580.7 660.8L580.9 660.1L581.2 659.7L581.5 659.6L581.7 659.8L581.9 659.9L582.2 659.9L582.4 659.7L582.7 659.3L583.1 659.0L583.4 659.2L583.6 659.9L583.9 660.8L584.2 661.7L584.4 662.3L584.7 662.8L584.9 663.2L585.1 663.6L585.4 664.1L585.6 664.8L585.8 665.7L586.1 666.4L586.3 667.0L586.5 667.2L586.8 666.9L587.0 666.5L587.2 666.0L587.4 665.5L587.6 665.0L587.8 664.6L588.0 664.3L588.2 663.9L588.3 663.4L588.5 662.7L588.7 661.9L588.9 660.9L589.1 659.9L589.3 658.9L589.5 658.1L589.7 657.5L589.9 657.2L590.1 657.0L590.3 656.9L590.5 656.9L590.7 656.7L591.0 656.5L591.2 656.3L591.3 656.3L591.4 656.4L591.6 656.5L591.7 656.8L591.8 657.1L592.0 657.6L592.1 658.2L592.2 658.8L592.4 659.5L592.5 660.1L592.7 660.7L592.8 661.3L592.9 661.7L593.1 662.2L593.2 662.6L593.4 663.0L593.5 663.4L593.7 663.9L593.8 664.6L594.0 665.3L594.1 666.1L594.2 667.0L594.4 667.8L594.5 668.7L594.7 669.5L594.8 670.1L595.0 670.7L595.1 671.2L595.3 671.6L595.4 672.0L595.5 672.4L595.7 672.8L595.8 673.2L596.0 673.7L596.1 674.3L596.2 674.8L596.4 675.4L596.5 676.0L596.6 676.5L596.8 676.9L596.9 677.2L597.0 677.4L597.4 677.4L597.7 676.9L598.0 676.4L598.3 676.0L598.6 675.7L598.9 675.1L599.2 674.2L599.5 673.0L599.8 671.7L600.1 670.8L600.4 670.5L600.7 670.7L601.0 671.1L601.4 671.3L601.5 671.4L601.6 671.5L601.7 671.6L601.8 671.8L602.0 672.0L602.1 672.3L602.2 672.6L602.3 673.1L602.4 673.7L602.5 674.3L602.7 674.9L602.8 675.6L602.9 676.4L603.0 677.1L603.1 677.7L603.3 678.3L603.4 678.9L603.5 679.4L603.6 679.8L603.8 680.3L603.9 680.7L604.0 681.2L604.1 681.8L604.3 682.4L604.4 683.1L604.5 683.8L604.6 684.6L604.8 685.4L604.9 686.2L605.0 687.0L605.2 687.7L605.3 688.4L605.4 689.0L605.5 689.4L605.7 689.8L605.8 690.2L605.9 690.5L606.1 690.8L606.2 691.2L606.3 691.5L606.4 691.9L606.6 692.4L606.7 692.9L606.8 693.3L606.9 693.8L607.1 694.2L607.2 694.6L607.3 694.9L607.6 695.1L607.9 694.8L608.2 694.3L608.5 693.9L608.8 693.7L609.1 693.7L609.4 693.4L609.7 692.8L610.0 691.7L610.3 690.5L610.6 689.6L610.9 689.1L611.2 688.7L611.5 688.4L611.8 687.8L612.0 686.9L612.3 686.1L612.6 685.5L612.8 685.3L613.1 685.6L613.3 686.0L613.5 686.5L613.8 687.0L614.0 687.4L614.2 687.7L614.4 688.1L614.6 688.6L614.7 689.3L614.9 690.2L615.1 691.2L615.3 692.3L615.5 693.3L615.7 694.3L615.8 695.0L616.0 695.5L616.2 695.8L616.4 696.0L616.6 696.0L616.8 696.0L617.0 696.1L617.3 696.1L617.5 696.0L617.6 696.0L617.7 695.9L617.7 695.7L617.8 695.5L617.9 695.2L618.0 694.9L618.1 694.5L618.2 694.0L618.3 693.5L618.3 693.0L618.4 692.5L618.5 691.9L618.6 691.3L618.7 690.7L618.8 690.1L618.9 689.5L619.0 688.9L619.1 688.4L619.2 687.9L619.3 687.4L619.3 686.9L619.4 686.4L619.5 686.0L619.6 685.5L619.7 685.0L619.8 684.4L619.9 683.9L620.0 683.2L620.1 682.6L620.2 681.9L620.3 681.1L620.4 680.3L620.5 679.5L620.6 678.7L620.7 677.9L620.8 677.2L620.9 676.4L621.0 675.7L621.1 675.1L621.2 674.4L621.3 673.9L621.4 673.3L621.5 672.9L621.6 672.4L621.6 671.9L621.7 671.5L621.8 671.0L621.9 670.6L622.0 670.1L622.1 669.6L622.2 669.1L622.3 668.5L622.4 668.0L622.5 667.4L622.6 666.9L622.6 666.3L622.7 665.8L622.8 665.3L622.9 664.9L623.0 664.5L623.1 664.1L623.2 663.8L623.2 663.6L623.3 663.4L623.4 663.3L623.6 663.2L623.8 663.4L624.1 663.7L624.3 664.0L624.4 664.3L624.6 664.7L624.8 665.1L625.0 665.7L625.2 666.4L625.3 667.2L625.5 668.3L625.7 669.4L625.9 670.6L626.0 671.7L626.2 672.7L626.4 673.4L626.6 673.8L626.8 674.0L627.1 674.0L627.3 673.9L627.5 673.9L627.8 673.9L627.9 673.8L628.0 673.8L628.1 673.6L628.2 673.5L628.3 673.2L628.4 672.9L628.5 672.5L628.6 672.1L628.8 671.5L628.9 670.9L629.0 670.3L629.1 669.6L629.2 669.0L629.3 668.3L629.5 667.7L629.6 667.2L629.7 666.7L629.8 666.2L629.9 665.8L630.1 665.3L630.2 664.9L630.3 664.3L630.5 663.8L630.6 663.1L630.7 662.4L630.8 661.5L631.0 660.7L631.1 659.8L631.2 659.0L631.4 658.1L631.5 657.4L631.6 656.7L631.8 656.1L631.9 655.5L632.0 655.1L632.1 654.6L632.3 654.1L632.4 653.7L632.5 653.1L632.7 652.5L632.8 651.9L632.9 651.2L633.1 650.4L633.2 649.7L633.3 649.0L633.4 648.4L633.6 647.8L633.7 647.3L633.8 646.9L633.9 646.6L634.1 646.4L634.2 646.2L634.3 646.1L634.4 646.0L634.5 645.8L634.7 645.7L634.8 645.5L634.9 645.3L635.0 645.1L635.1 644.9L635.2 644.7L635.4 644.5L635.5 644.4L635.6 644.5L635.8 644.6L635.9 644.9L636.0 645.3L636.2 645.8L636.3 646.3L636.4 646.9L636.5 647.5L636.7 648.1L636.8 648.7L636.9 649.2L637.0 649.7L637.2 650.2L637.3 650.7L637.4 651.1L637.5 651.6L637.7 652.2L637.8 652.8L637.9 653.5L638.0 654.2L638.1 655.0L638.2 655.9L638.4 656.8L638.5 657.7L638.6 658.6L638.7 659.4L638.8 660.2L639.0 660.9L639.1 661.5L639.2 662.1L639.3 662.6L639.4 663.0L639.5 663.5L639.6 663.9L639.8 664.3L639.9 664.7L640.0 665.2L640.1 665.7L640.2 666.2L640.3 666.7L640.4 667.2L640.6 667.6L640.7 668.0L640.8 668.3L640.9 668.6L641.1 668.7L641.3 668.5L641.5 668.2L641.7 667.6L641.9 667.0L642.1 666.5L642.2 666.0L642.4 665.6L642.6 665.2L642.8 664.8L643.0 664.2L643.2 663.5L643.4 662.6L643.5 661.5L643.7 660.5L643.9 659.4L644.1 658.5L644.3 657.8L644.5 657.2L644.6 656.8L644.8 656.5L645.0 656.3L645.2 655.9L645.4 655.6L645.6 655.2L645.7 654.8L645.9 654.6L646.1 654.6L646.2 654.7L646.3 654.8L646.4 655.1L646.5 655.4L646.6 655.7L646.7 656.2L646.8 656.6L646.9 657.1L647.0 657.6L647.1 658.2L647.2 658.7L647.2 659.2L647.3 659.7L647.4 660.1L647.5 660.6L647.6 661.0L647.7 661.4L647.8 661.9L647.9 662.3L648.0 662.7L648.1 663.2L648.2 663.7L648.3 664.3L648.4 664.9L648.5 665.5L648.6 666.2L648.7 667.0L648.8 667.7L648.8 668.5L648.9 669.3L649.0 670.1L649.1 670.8L649.2 671.5L649.3 672.2L649.4 672.9L649.5 673.5L649.6 674.0L649.7 674.5L649.8 675.0L649.9 675.5L650.0 675.9L650.1 676.3L650.2 676.7L650.3 677.1L650.4 677.6L650.5 678.0L650.6 678.5L650.7 679.1L650.8 679.6L650.9 680.1L651.0 680.6L651.1 681.1L651.2 681.6L651.5 682.7L651.9 683.0L652.2 682.9L652.5 682.8L652.9 683.0L653.2 683.4L653.5 683.7L653.9 683.5L654.2 682.9L654.6 682.6L654.9 682.8L655.3 683.6L655.7 684.4L656.1 684.9L656.6 685.3L657.0 686.7L657.1 687.1L657.2 687.5L657.2 687.9L657.3 688.4L657.4 688.9L657.5 689.3L657.6 689.8L657.7 690.3L657.8 690.7L657.9 691.1L657.9 691.5L658.0 691.9L658.1 692.3L658.2 692.6L658.3 693.0L658.4 693.3L658.5 693.7L658.6 694.1L658.7 694.5L658.8 695.0L658.9 695.5L659.0 696.0L659.1 696.6L659.1 697.3L659.2 697.9L659.3 698.6L659.4 699.4L659.5 700.1L659.6 700.8L659.7 701.5L659.8 702.2L659.9 702.8L660.0 703.4L660.1 703.9L660.2 704.4L660.3 704.9L660.4 705.4L660.5 705.8L660.6 706.3L660.7 706.8L660.8 707.4L660.9 707.9L661.0 708.6L661.1 709.2L661.2 709.9L661.3 710.7L661.4 711.5L661.5 712.2L661.7 713.0L661.8 713.7L661.9 714.4L662.0 715.1L662.1 715.7L662.2 716.2L662.3 716.8L662.4 717.2L662.5 717.7L662.6 718.1L662.7 718.5L662.8 718.9L662.9 719.4L663.0 719.9L663.1 720.4L663.2 721.0L663.3 721.6L663.4 722.2L663.5 722.9L663.6 723.5L663.7 724.2L663.8 724.8L663.9 725.3L664.0 725.9L664.2 726.3L664.3 726.7L664.4 727.0L664.5 727.3L664.6 727.6L664.7 727.8L664.8 728.0L664.9 728.2L665.0 728.5L665.1 728.7L665.2 729.0L665.3 729.3L665.4 729.7L665.5 730.0L665.6 730.4L665.7 730.8L665.8 731.1L666.1 732.1L666.5 732.3L666.9 732.0L667.2 731.8L667.6 731.9L667.9 732.2L668.3 732.2L668.7 731.6L669.0 730.6L669.4 729.7L669.8 729.4L670.1 729.3L670.5 728.7L670.9 727.6L671.2 726.4L671.6 725.5L671.9 725.2L672.3 725.0L672.6 724.4L673.0 723.5L673.3 722.5L673.7 722.0L674.0 722.0L674.4 722.2L674.7 722.3L675.0 722.0L675.3 721.8L675.5 721.7L675.8 721.9L676.0 722.4L676.2 723.1L676.5 723.9L676.7 724.5L676.9 724.9L677.2 725.2L677.4 725.5L677.6 725.9L677.8 726.4L678.0 727.2L678.2 728.2L678.5 729.2L678.7 730.1L678.9 730.8L679.1 731.3L679.3 731.6L679.5 732.0L679.8 732.4L680.0 732.9L680.2 733.7L680.4 734.5L680.6 735.2L680.9 735.8L681.1 736.1L681.3 736.1L681.6 736.0L681.8 735.9L682.1 735.9L682.3 736.1L682.5 736.3L682.7 736.5L682.9 736.5L683.1 736.2L683.4 735.7L683.6 735.0L683.8 734.3L684.0 733.7L684.2 733.3L684.5 733.0L684.7 732.8L684.9 732.5L685.1 731.9L685.4 731.2L685.6 730.2L685.8 729.2L686.1 728.3L686.3 727.7L686.5 727.2L686.8 726.9L687.0 726.5L687.2 725.9L687.5 725.1L687.7 724.2L687.9 723.3L688.2 722.4L688.4 721.9L688.6 721.5L688.8 721.3L689.1 721.2L689.3 720.9L689.5 720.4L689.7 719.8L689.9 719.2L690.2 718.8L690.4 718.5L690.6 718.5L690.8 718.7L691.0 719.0L691.2 719.3L691.3 719.6L691.5 719.8L691.7 719.9L691.8 720.0L692.0 720.1L692.1 720.2L692.3 720.5L692.5 720.8L692.6 721.4L692.8 722.0L692.9 722.7L693.1 723.5L693.2 724.3L693.4 725.0L693.5 725.7L693.7 726.3L693.8 726.8L694.0 727.3L694.1 727.7L694.3 728.2L694.4 728.8L694.6 729.4L694.7 730.2L694.9 731.0L695.0 731.9L695.2 732.9L695.3 733.7L695.5 734.6L695.6 735.3L695.8 735.9L695.9 736.4L696.1 736.8L696.2 737.2L696.4 737.5L696.5 737.9L696.7 738.4L696.8 738.9L697.0 739.5L697.1 740.1L697.3 740.8L697.4 741.3L697.6 741.8L697.7 742.1L697.8 742.3L698.0 742.3L698.1 742.3L698.3 742.1L698.5 741.9L698.7 741.7L698.8 741.5L699.0 741.4L699.2 741.4L699.4 741.3L699.6 741.1L699.7 740.8L699.9 740.3L700.1 739.7L700.3 738.9L700.4 738.0L700.6 737.1L700.8 736.3L701.0 735.6L701.1 735.0L701.3 734.5L701.5 734.0L701.7 733.5L701.9 732.9L702.0 732.1L702.2 731.2L702.4 730.2L702.6 729.3L702.7 728.3L702.9 727.6L703.1 726.9L703.3 726.5L703.5 726.1L703.6 725.9L703.8 725.6L704.0 725.2L704.2 724.7L704.4 724.2L704.6 723.6L704.7 723.2L704.9 722.8L705.1 722.7L705.3 722.8L705.5 723.2L705.6 723.4L705.8 723.8L705.9 724.1L706.0 724.4L706.1 724.7L706.3 724.9L706.4 725.1L706.5 725.3L706.7 725.5L706.8 725.7L706.9 726.0L707.1 726.3L707.2 726.8L707.3 727.3L707.5 728.0L707.6 728.7L707.7 729.5L707.9 730.3L708.0 731.0L708.2 731.7L708.3 732.3L708.4 732.9L708.6 733.4L708.7 733.8L708.8 734.3L709.0 734.8L709.1 735.3L709.3 735.9L709.4 736.7L709.5 737.5L709.7 738.3L709.8 739.2L710.0 740.1L710.1 740.9L710.2 741.7L710.4 742.4L710.5 743.0L710.6 743.5L710.8 743.9L710.9 744.3L711.0 744.8L711.2 745.2L711.3 745.7L711.4 746.3L711.6 746.9L711.7 747.6L711.8 748.3L712.0 749.0L712.1 749.6L712.2 750.2L712.4 750.6L712.5 751.0L712.6 751.3L712.8 751.5L712.9 751.6L713.0 751.7L713.1 751.7L713.3 751.7L713.4 751.8L713.5 751.9L713.7 752.1L713.9 752.4L714.1 752.6L714.3 752.7L714.5 752.7L714.6 752.4L714.8 751.9L715.0 751.3L715.2 750.6L715.4 750.0L715.6 749.4L715.8 748.9L715.9 748.6L716.1 748.2L716.3 747.8L716.5 747.3L716.7 746.7L716.8 745.9L717.0 745.0L717.2 744.0L717.4 743.1L717.5 742.2L717.7 741.4L717.9 740.8L718.1 740.3L718.2 739.9L718.4 739.4L718.6 739.0L718.7 738.4L718.9 737.8L719.0 737.1L719.2 736.3L719.4 735.6L719.5 735.0L719.7 734.5L719.8 734.2L720.0 734.0L720.1 733.9L720.5 734.1L720.9 734.0L721.2 733.5L721.6 733.1L721.9 733.0L722.2 733.5L722.5 734.3L722.8 735.2L723.1 735.8L723.4 736.2L723.8 736.7L724.1 737.7L724.5 739.3L724.6 739.8L724.7 740.2L724.8 740.7L724.9 741.1L725.0 741.6L725.1 742.0L725.2 742.4L725.3 742.8L725.4 743.2L725.5 743.5L725.6 743.9L725.7 744.3L725.8 744.7L725.9 745.2L726.0 745.7L726.1 746.3L726.2 746.9L726.3 747.6L726.4 748.3L726.5 749.1L726.6 749.9L726.7 750.6L726.8 751.4L727.0 752.1L727.1 752.8L727.2 753.5L727.3 754.0L727.4 754.6L727.5 755.0L727.6 755.5L727.7 755.9L727.8 756.4L727.9 756.9L728.1 757.3L728.2 757.9L728.3 758.5L728.4 759.1L728.5 759.8L728.6 760.4L728.7 761.1L728.9 761.8L729.0 762.4L729.1 762.9L729.2 763.3L729.3 763.7L729.5 764.0L729.6 764.2L729.7 764.4L729.8 764.5L729.9 764.6L730.1 764.7L730.2 764.8L730.3 765.0L730.6 765.5L730.9 766.1L731.2 766.4L731.6 766.2L731.9 765.5L732.2 764.8L732.6 764.4L732.9 764.3L733.3 764.1L733.6 763.4L734.0 762.3L734.3 761.2L734.7 760.6L735.0 760.3L735.4 760.1L735.7 759.4L736.0 758.4L736.3 757.5L736.6 757.0L736.9 756.9L737.2 757.0L737.5 757.2L737.9 757.0L738.3 756.5L738.6 756.2L738.9 756.4L739.2 757.0L739.4 757.6L739.7 758.2L740.0 758.5L740.2 758.7L740.5 758.9L740.8 759.4L741.1 760.5L741.5 761.8L741.9 763.0L742.0 763.2L742.2 763.4L742.3 763.6L742.4 763.8L742.6 764.0L742.7 764.3L742.9 764.7L743.0 765.2L743.1 765.8L743.3 766.5L743.4 767.3L743.6 768.0L743.8 768.7L743.9 769.3L744.1 769.9L744.2 770.3L744.4 770.7L744.5 771.0L744.7 771.4L744.9 771.9L745.0 772.5L745.2 773.1L745.4 773.9L745.5 774.8L745.7 775.6L745.9 776.3L746.0 777.0L746.2 777.5L746.4 777.8L746.5 778.1L746.7 778.4L746.9 778.8L747.1 779.2L747.2 779.8L747.4 780.4L747.6 781.1L747.7 781.8L747.9 782.4L748.1 782.9L748.2 783.2L748.4 783.5L748.6 783.6L748.7 783.6L748.9 783.7L749.0 783.7L749.2 783.9L749.6 784.7L750.1 785.4L750.5 785.3L750.9 784.6L751.3 784.0L751.7 784.0L752.1 784.1L752.6 783.5L753.0 782.3L753.4 781.4L753.8 781.2L754.3 781.2L754.7 780.6L755.1 779.6L755.6 779.1L756.0 779.4L756.5 779.8L756.9 779.6L757.3 779.2L757.7 779.1L758.1 779.8L758.5 780.5L758.9 780.7L759.3 780.4L759.7 780.5L760.1 781.2L760.6 782.1L761.0 782.4L761.4 782.2L761.8 782.4L762.2 783.2L762.7 784.1L763.1 784.4L763.5 784.2L763.9 784.3L764.4 785.1L764.8 785.9L765.2 786.1L765.6 785.8L766.1 785.9L766.5 786.8L767.0 787.5L767.5 787.4L767.9 787.1L768.4 787.6L768.9 788.5L769.4 788.8L769.8 788.5L770.3 788.5L770.7 789.4L771.2 790.1L771.6 790.1L772.0 789.8L772.4 790.0L772.8 790.8L773.2 791.5L773.6 791.7L773.9 791.5L774.3 791.6L774.7 792.4L775.0 793.5L775.2 794.5L775.4 795.3L775.6 796.0L775.8 796.5L776.0 796.8L776.3 797.0L776.5 797.3L776.9 797.9L777.3 798.5L777.7 798.3L778.3 797.2L778.5 796.8L778.7 796.6L778.9 796.6L779.1 796.6L779.3 796.6L779.5 796.5L779.7 796.1L779.9 795.6L780.2 794.9L780.4 794.1L780.7 793.6L780.9 793.3L781.2 793.1L781.5 793.0L781.7 792.7L782.0 792.0L782.3 791.1L782.6 790.2L782.9 789.6L783.1 789.3L783.4 789.1L783.7 788.8L784.0 788.2L784.3 787.3L784.6 786.3L784.9 785.6L785.2 785.2L785.5 785.1L785.8 784.8L786.1 784.3L786.4 783.4L786.7 782.4L787.0 781.7L787.3 781.3L787.5 781.2L787.8 781.0L788.1 780.6L788.4 779.9L788.6 779.1L788.9 778.4L789.2 777.9L789.4 777.7L789.7 777.7L789.9 777.7L790.1 777.4L790.4 777.0L790.6 776.5L790.8 775.9L791.0 775.5L791.2 775.2L791.4 775.2L791.8 775.5L792.2 775.8L792.6 775.5L792.9 775.2L793.2 775.1L793.5 775.6L793.8 776.3L794.0 777.1L794.2 777.9L794.5 778.4L794.7 778.8L794.9 779.2L795.1 779.5L795.3 780.1L795.5 780.8L795.8 781.7L796.0 782.6L796.3 783.5L796.6 784.0L796.9 784.1L797.2 784.1L797.6 784.3L797.9 785.1L798.3 786.0L798.7 786.4L799.1 786.3L799.5 786.3L799.9 786.9L800.3 787.9L800.8 788.4L801.2 788.3L801.6 788.2L802.1 788.8L802.5 789.7L803.0 789.9L803.5 789.5L803.9 789.5L804.4 790.2L804.9 790.7L805.4 790.1L805.9 789.7L806.3 790.0L806.7 790.4L807.1 790.3L807.5 789.6L807.9 788.9L808.3 788.7L808.7 788.9L809.1 788.8L809.5 787.9L810.0 787.0L810.4 786.8L810.9 786.9L811.3 786.6L811.7 785.6L812.2 784.8L812.6 784.7L813.1 784.9L813.5 784.4L814.0 783.5L814.4 783.0L814.9 783.3L815.3 783.5L815.7 783.0L816.2 782.3L816.6 782.4L817.1 783.0L817.5 783.4L817.8 783.3L818.1 783.0L818.4 783.0L818.7 783.3L819.0 784.1L819.3 784.8L819.6 785.2L819.9 785.3L820.3 785.3L820.6 785.6L820.9 786.3L821.2 787.2L821.5 788.1L821.8 788.6L822.1 788.8L822.4 788.9L822.8 789.4L823.1 790.3L823.4 791.3L823.7 792.1L824.0 792.6L824.3 792.7L824.6 792.9L824.9 793.4L825.2 794.3L825.5 795.3L825.8 796.0L826.1 796.3L826.4 796.3L826.7 796.4L827.0 796.7L827.3 797.4L827.6 798.1L827.8 798.7L828.1 798.8L828.4 798.7L828.7 798.4L828.9 798.4L829.2 798.5L829.5 798.9L829.8 799.2L830.1 799.2L830.4 798.8L830.7 798.2L831.0 797.6L831.2 797.4L831.5 797.4L831.8 797.4L832.1 797.2L832.3 796.7L832.6 796.0L832.8 795.1L833.1 794.4L833.4 793.9L833.6 793.7L833.9 793.5L834.1 793.2L834.4 792.6L834.6 791.8L834.9 790.8L835.1 789.9L835.4 789.3L835.6 788.9L835.9 788.7L836.1 788.4L836.4 788.0L836.6 787.2L836.9 786.3L837.1 785.5L837.4 784.8L837.6 784.5L837.9 784.4L838.2 784.3L838.4 784.0L838.7 783.3L839.0 782.5L839.2 781.6L839.5 781.0L839.8 780.7L840.1 780.6L840.3 780.4L840.6 779.9L840.9 779.1L841.2 778.2L841.5 777.4L841.7 776.9L842.0 776.7L842.3 776.5L842.6 776.3L842.8 775.7L843.1 774.8L843.4 774.0L843.6 773.3L843.9 773.0L844.2 772.9L844.4 772.8L844.7 772.6L844.9 772.1L845.2 771.5L845.4 770.8L845.7 770.3L845.9 770.0L846.1 770.0L846.4 770.1L846.6 770.2L847.1 769.7L847.6 768.8L848.1 768.7L848.6 769.3L849.0 769.7L849.4 769.4L849.9 769.2L850.3 769.7L850.7 770.7L851.1 771.5L851.5 771.5L852.0 771.6L852.5 772.6L852.7 773.2L853.0 773.8L853.2 774.2L853.4 774.4L853.7 774.5L854.0 774.6L854.2 775.0L854.5 775.7L854.7 776.5L855.0 777.4L855.3 778.1L855.5 778.4L855.8 778.6L856.1 778.8L856.3 779.3L856.6 780.1L856.9 781.0L857.1 781.8L857.4 782.5L857.6 782.8L857.9 782.9L858.1 783.1L858.4 783.4L858.6 783.9L858.8 784.6L859.1 785.2L859.3 785.8L859.5 786.1L859.7 786.1L860.3 785.9L860.8 786.3L861.3 787.0L861.8 786.9L862.2 786.0L862.6 785.3L863.1 785.3L863.6 785.4L864.1 784.5L864.4 783.8L864.7 783.4L865.0 783.3L865.3 783.4L865.6 783.4L866.0 782.9L866.3 782.0L866.6 781.2L867.0 780.9L867.3 780.9L867.7 780.9L868.0 780.4L868.3 779.5L868.7 778.7L869.0 778.2L869.4 778.2L869.7 778.3L870.0 778.0L870.3 777.3L870.7 776.4L871.0 775.8L871.3 775.6L871.7 775.6L872.0 775.5L872.3 774.9L872.6 774.0L872.9 773.2L873.3 772.8L873.6 772.9L873.9 772.9L874.2 772.6L874.5 772.0L874.9 771.2L875.2 770.7L875.5 770.7L876.0 771.0L876.5 770.7L877.0 769.7L877.5 769.4L878.0 769.8L878.4 769.9L878.9 769.2L879.4 768.9L879.9 769.5L880.4 770.1L880.9 770.0L881.2 769.8L881.4 769.9L881.7 770.4L882.0 771.1L882.3 771.9L882.5 772.5L882.8 772.8L883.1 772.9L883.4 773.1L883.6 773.6L883.9 774.3L884.2 775.3L884.5 776.1L884.8 776.6L885.0 776.8L885.3 776.9L885.6 777.1L885.9 777.5L886.1 778.2L886.4 778.9L886.9 779.5L887.4 779.3L887.8 779.3L888.3 780.1L888.8 780.8L889.3 780.7L889.8 780.2L890.2 780.5L890.7 781.3L891.3 781.1L891.8 780.4L892.2 780.4L892.7 780.9L893.1 781.0L893.6 780.2L894.1 779.6L894.5 779.8L895.0 780.1L895.5 779.5L896.0 778.6L896.5 778.5L897.0 778.8L897.5 778.5L897.9 777.6L898.4 777.0L898.8 777.2L899.2 777.3L899.6 776.7L900.0 775.8L900.4 775.0L900.7 774.7L901.1 774.8L901.5 774.5L901.9 773.6L902.3 772.7L902.7 772.4L903.1 772.6L903.5 772.7L904.0 772.2L904.4 771.6L904.9 771.8L905.2 772.4L905.5 772.9L905.8 773.0L906.1 772.9L906.5 772.8L906.8 773.1L907.2 773.9L907.5 774.7L907.9 775.2L908.2 775.2L908.6 775.3L909.0 775.7L909.3 776.7L909.7 777.6L910.0 778.1L910.4 778.1L910.7 778.2L911.1 778.7L911.4 779.6L911.8 780.4L912.1 780.8L912.4 780.8L912.7 780.8L913.0 780.9L913.3 781.4L913.6 782.0L914.2 782.7L914.8 782.3L915.3 782.4L915.7 783.2L916.2 783.5L916.6 783.1L917.1 782.5L917.5 782.6L918.0 783.0L918.5 782.6L919.1 781.5L919.4 781.2L919.7 781.3L920.0 781.5L920.3 781.4L920.7 780.9L921.0 780.1L921.3 779.4L921.7 779.2L922.0 779.3L922.4 779.2L922.7 778.6L923.1 777.7L923.4 777.0L923.8 776.7L924.1 776.8L924.5 776.6L924.8 776.0L925.1 775.1L925.5 774.3L925.8 774.0L926.1 774.0L926.4 774.0L926.7 773.7L927.0 772.9L927.3 772.0L927.6 771.3L927.9 771.0L928.2 770.9L928.5 770.8L928.8 770.4L929.1 769.7L929.3 768.8L929.6 768.0L929.8 767.5L930.1 767.2L930.4 767.2L930.6 767.0L930.9 766.7L931.1 766.1L931.4 765.4L931.7 764.7L931.9 764.3L932.2 764.2L932.7 764.4L933.1 764.0L933.6 762.9L934.0 762.3L934.5 762.4L934.9 762.7L935.4 762.3L935.9 761.5L936.4 761.7L937.0 762.5L937.6 762.4L937.9 762.1L938.2 762.2L938.5 762.7L938.9 763.4L939.2 764.0L939.6 764.0L939.9 763.9L940.3 764.0L940.7 764.7L941.0 765.6L941.4 766.2L941.8 766.3L942.2 766.2L942.6 766.6L943.0 767.6L943.3 768.4L943.7 768.7L944.1 768.5L944.5 768.7L944.9 769.5L945.3 770.4L945.7 770.8L946.0 770.7L946.4 770.6L946.8 771.0L947.3 772.0L947.7 772.6L948.1 772.5L948.6 772.4L949.0 773.0L949.4 773.9L949.8 774.5L950.3 774.4L950.7 774.2L951.1 774.8L951.5 775.7L952.0 776.0L952.4 775.7L952.8 775.6L953.3 776.1L953.7 776.8L954.2 776.8L954.6 776.2L955.1 776.0L955.5 776.5L955.9 776.8L956.3 776.5L956.8 775.7L957.2 775.3L957.7 775.5L958.1 775.6L958.6 774.9L959.0 774.0L959.5 773.7L959.9 774.0L960.4 773.7L960.8 772.8L961.2 772.0L961.7 771.9L962.1 772.1L962.5 771.8L963.0 770.9L963.4 770.2L963.8 770.3L964.2 770.6L964.5 770.5L964.9 770.0L965.5 769.2L966.1 769.8L966.7 770.0L967.2 769.3L967.7 769.2L968.2 769.9L968.7 770.3L969.2 769.9L969.7 769.7L970.1 770.3L970.6 771.0L971.0 771.1L971.5 770.7L971.9 770.8L972.4 771.6L972.8 772.4L973.1 772.5L973.5 772.4L973.9 772.6L974.3 773.3L974.6 774.2L975.0 774.7L975.5 774.6L975.9 774.4L976.4 775.0L976.9 775.9L977.3 775.8L977.8 775.3L978.2 775.2L978.7 775.8L979.2 776.2L979.7 775.7L980.2 775.2L980.7 775.7L981.2 776.2L981.8 775.6L982.3 775.1L982.9 775.6L983.4 776.0L984.0 775.3L984.5 775.0L985.1 775.6L985.6 775.8L986.1 775.2L986.6 774.9L987.1 775.6L987.6 775.9L988.2 775.3L988.7 775.0L989.3 775.7L989.8 775.9L990.4 775.2L990.9 775.2L991.4 775.9L992.0 775.9L992.5 775.2L993.0 775.2L993.5 775.9L994.0 775.9L994.5 775.3L995.0 775.0L995.4 775.4L996.0 775.8L996.6 775.0L997.1 774.5L997.6 775.0L998.1 775.0L998.6 774.3L999.1 773.6L999.5 773.8L1000.0 774.2L1000.5 773.8L1001.0 773.0L1001.5 772.9L1002.0 773.6L1002.5 773.5L1003.0 772.9L1003.5 772.8L1004.0 773.6L1004.5 773.9L1005.0 773.4L1005.5 773.2L1006.0 774.0L1006.5 774.4L1007.1 773.9L1007.6 773.7L1008.1 774.4L1008.6 774.8L1009.1 774.2L1009.6 773.8L1010.1 774.3L1010.7 774.6L1011.3 773.8L1011.9 773.4L1012.5 774.0L1013.1 773.8L1013.6 772.8L1014.2 772.9L1014.7 773.3L1015.2 772.9L1015.7 772.1L1016.1 771.9L1016.4 772.2L1016.7 772.5" stroke="#70ad47" stroke-width="4.4"/></g>
</g>
</svg></body></html>
